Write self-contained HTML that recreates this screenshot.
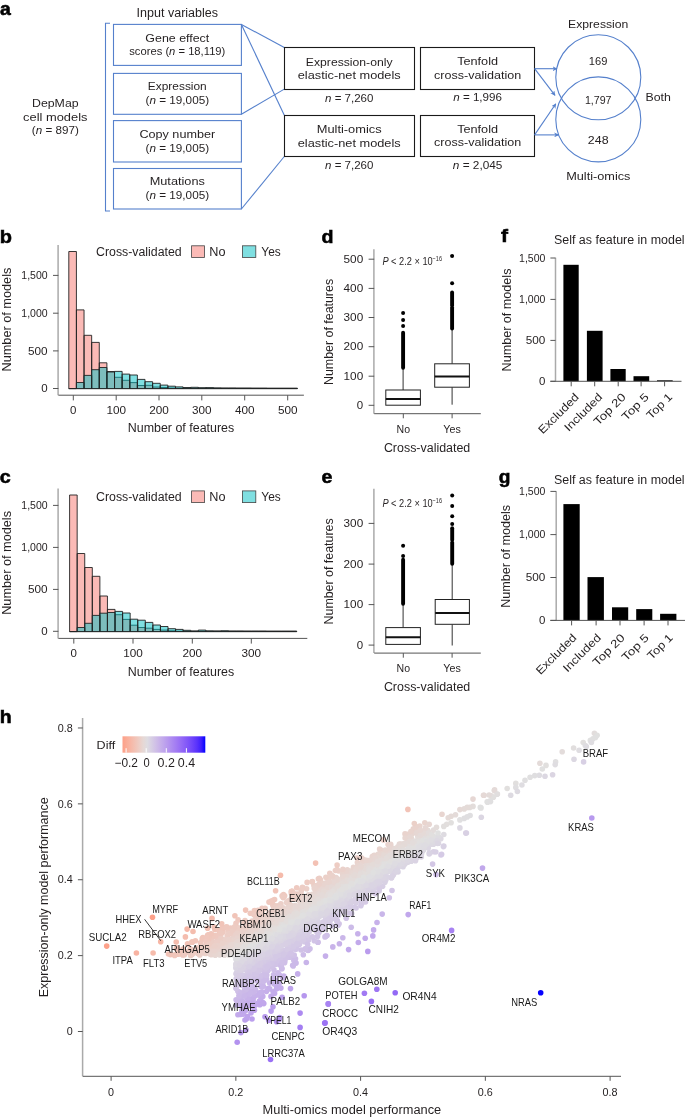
<!DOCTYPE html>
<html><head><meta charset="utf-8"><style>
html,body{margin:0;padding:0;background:#fff;}
svg{display:block;font-family:"Liberation Sans",sans-serif;}
#w{will-change:transform;background:#fff;width:685px;height:1117px;overflow:hidden;}
</style></head><body>
<div id="w"><svg width="685" height="1117" viewBox="0 0 685 1117" fill="#231f20">
<rect width="685" height="1117" fill="#fff"/>
<text x="0.00" y="15.00" font-size="18.5" font-weight="bold" textLength="10.8" lengthAdjust="spacingAndGlyphs" stroke="#000" stroke-width="0.55" fill="#000">a</text>
<text x="177.30" y="17.00" font-size="12.5" text-anchor="middle" textLength="81.50" lengthAdjust="spacingAndGlyphs">Input variables</text>
<path d="M110 23.3 H105.5 V211 H110" fill="none" stroke="#5580cc" stroke-width="1.1"/>
<rect x="113.50" y="24.40" width="127.90" height="41.00" fill="none" stroke="#5580cc" stroke-width="1.1"/>
<rect x="113.50" y="73.40" width="127.90" height="40.90" fill="none" stroke="#5580cc" stroke-width="1.1"/>
<rect x="113.50" y="120.60" width="127.90" height="41.40" fill="none" stroke="#5580cc" stroke-width="1.1"/>
<rect x="113.50" y="168.50" width="127.90" height="40.50" fill="none" stroke="#5580cc" stroke-width="1.1"/>
<text x="177.30" y="41.50" font-size="11.8" text-anchor="middle" textLength="63.90" lengthAdjust="spacingAndGlyphs">Gene effect</text>
<text x="177.30" y="54.70" font-size="11.8" text-anchor="middle" textLength="96.10" lengthAdjust="spacingAndGlyphs">scores (<tspan font-style="italic">n</tspan> = 18,119)</text>
<text x="177.30" y="90.00" font-size="11.8" text-anchor="middle" textLength="58.90" lengthAdjust="spacingAndGlyphs">Expression</text>
<text x="177.30" y="103.50" font-size="11.8" text-anchor="middle" textLength="63.60" lengthAdjust="spacingAndGlyphs">(<tspan font-style="italic">n</tspan> = 19,005)</text>
<text x="177.30" y="138.10" font-size="11.8" text-anchor="middle" textLength="75.80" lengthAdjust="spacingAndGlyphs">Copy number</text>
<text x="177.30" y="151.90" font-size="11.8" text-anchor="middle" textLength="63.60" lengthAdjust="spacingAndGlyphs">(<tspan font-style="italic">n</tspan> = 19,005)</text>
<text x="177.30" y="185.30" font-size="11.8" text-anchor="middle" textLength="55.20" lengthAdjust="spacingAndGlyphs">Mutations</text>
<text x="177.30" y="199.30" font-size="11.8" text-anchor="middle" textLength="63.60" lengthAdjust="spacingAndGlyphs">(<tspan font-style="italic">n</tspan> = 19,005)</text>
<text x="55.30" y="106.60" font-size="11.8" text-anchor="middle" textLength="46.60" lengthAdjust="spacingAndGlyphs">DepMap</text>
<text x="55.30" y="120.60" font-size="11.8" text-anchor="middle" textLength="64.40" lengthAdjust="spacingAndGlyphs">cell models</text>
<text x="55.30" y="134.30" font-size="11.8" text-anchor="middle" textLength="47.00" lengthAdjust="spacingAndGlyphs">(<tspan font-style="italic">n</tspan> = 897)</text>
<line x1="241.40" y1="24.40" x2="284.30" y2="47.50" stroke="#5580cc" stroke-width="1.1"/>
<line x1="241.40" y1="24.40" x2="284.30" y2="115.30" stroke="#5580cc" stroke-width="1.1"/>
<line x1="241.40" y1="114.30" x2="284.30" y2="89.10" stroke="#5580cc" stroke-width="1.1"/>
<line x1="241.40" y1="209.00" x2="284.30" y2="156.50" stroke="#5580cc" stroke-width="1.1"/>
<rect x="284.50" y="47.50" width="130.00" height="42.00" fill="none" stroke="#1a1a1a" stroke-width="1.1"/>
<rect x="284.50" y="115.50" width="130.00" height="41.00" fill="none" stroke="#1a1a1a" stroke-width="1.1"/>
<text x="349.20" y="65.50" font-size="11.8" text-anchor="middle" textLength="86.70" lengthAdjust="spacingAndGlyphs">Expression-only</text>
<text x="349.20" y="79.10" font-size="11.8" text-anchor="middle" textLength="103.00" lengthAdjust="spacingAndGlyphs">elastic-net models</text>
<text x="349.20" y="101.50" font-size="11.8" text-anchor="middle" textLength="48.30" lengthAdjust="spacingAndGlyphs"><tspan font-style="italic">n</tspan> = 7,260</text>
<text x="349.20" y="132.80" font-size="11.8" text-anchor="middle" textLength="64.90" lengthAdjust="spacingAndGlyphs">Multi-omics</text>
<text x="349.20" y="146.50" font-size="11.8" text-anchor="middle" textLength="103.00" lengthAdjust="spacingAndGlyphs">elastic-net models</text>
<text x="349.20" y="168.80" font-size="11.8" text-anchor="middle" textLength="48.30" lengthAdjust="spacingAndGlyphs"><tspan font-style="italic">n</tspan> = 7,260</text>
<rect x="420.50" y="47.50" width="114.00" height="42.00" fill="none" stroke="#1a1a1a" stroke-width="1.1"/>
<rect x="420.50" y="115.50" width="114.00" height="41.00" fill="none" stroke="#1a1a1a" stroke-width="1.1"/>
<text x="477.60" y="65.00" font-size="11.8" text-anchor="middle" textLength="40.90" lengthAdjust="spacingAndGlyphs">Tenfold</text>
<text x="477.60" y="78.60" font-size="11.8" text-anchor="middle" textLength="87.10" lengthAdjust="spacingAndGlyphs">cross-validation</text>
<text x="477.60" y="101.20" font-size="11.8" text-anchor="middle" textLength="48.70" lengthAdjust="spacingAndGlyphs"><tspan font-style="italic">n</tspan> = 1,996</text>
<text x="477.60" y="132.50" font-size="11.8" text-anchor="middle" textLength="40.90" lengthAdjust="spacingAndGlyphs">Tenfold</text>
<text x="477.60" y="146.00" font-size="11.8" text-anchor="middle" textLength="87.10" lengthAdjust="spacingAndGlyphs">cross-validation</text>
<text x="477.60" y="169.00" font-size="11.8" text-anchor="middle" textLength="49.60" lengthAdjust="spacingAndGlyphs"><tspan font-style="italic">n</tspan> = 2,045</text>
<defs><marker id="ah" viewBox="0 0 10 10" refX="9" refY="5" markerWidth="5" markerHeight="5" orient="auto" markerUnits="userSpaceOnUse"><path d="M0 0 L10 5 L0 10 L3 5 z" fill="#5580cc"/></marker></defs>
<line x1="534.60" y1="68.70" x2="557.00" y2="68.70" stroke="#5580cc" stroke-width="1.1" marker-end="url(#ah)"/>
<line x1="534.60" y1="68.70" x2="555.00" y2="95.30" stroke="#5580cc" stroke-width="1.1" marker-end="url(#ah)"/>
<line x1="534.60" y1="134.90" x2="555.80" y2="103.80" stroke="#5580cc" stroke-width="1.1" marker-end="url(#ah)"/>
<line x1="534.60" y1="134.90" x2="558.60" y2="134.90" stroke="#5580cc" stroke-width="1.1" marker-end="url(#ah)"/>
<circle cx="598.3" cy="77.3" r="42.5" fill="none" stroke="#5580cc" stroke-width="1.1"/>
<circle cx="598.3" cy="119.4" r="42.5" fill="none" stroke="#5580cc" stroke-width="1.1"/>
<text x="598.20" y="27.60" font-size="11.8" text-anchor="middle" textLength="60.30" lengthAdjust="spacingAndGlyphs">Expression</text>
<text x="598.10" y="64.50" font-size="11.8" text-anchor="middle" textLength="18.60" lengthAdjust="spacingAndGlyphs">169</text>
<text x="598.20" y="104.00" font-size="11.8" text-anchor="middle" textLength="26.60" lengthAdjust="spacingAndGlyphs">1,797</text>
<text x="598.20" y="143.70" font-size="11.8" text-anchor="middle" textLength="20.70" lengthAdjust="spacingAndGlyphs">248</text>
<text x="645.50" y="100.70" font-size="11.8" textLength="25.40" lengthAdjust="spacingAndGlyphs">Both</text>
<text x="598.30" y="179.50" font-size="11.8" text-anchor="middle" textLength="64.30" lengthAdjust="spacingAndGlyphs">Multi-omics</text>
<text x="-0.30" y="242.90" font-size="18.5" font-weight="bold" textLength="12.2" lengthAdjust="spacingAndGlyphs" stroke="#000" stroke-width="0.55" fill="#000">b</text>
<rect x="68.80" y="251.50" width="7.62" height="137.10" fill="#F8766D" fill-opacity="0.5"/>
<rect x="76.42" y="309.90" width="7.62" height="78.70" fill="#F8766D" fill-opacity="0.5"/>
<rect x="84.04" y="335.30" width="7.62" height="53.30" fill="#F8766D" fill-opacity="0.5"/>
<rect x="91.66" y="342.40" width="7.62" height="46.20" fill="#F8766D" fill-opacity="0.5"/>
<rect x="99.28" y="362.80" width="7.62" height="25.80" fill="#F8766D" fill-opacity="0.5"/>
<rect x="106.90" y="371.50" width="7.62" height="17.10" fill="#F8766D" fill-opacity="0.5"/>
<rect x="114.52" y="377.30" width="7.62" height="11.30" fill="#F8766D" fill-opacity="0.5"/>
<rect x="122.14" y="380.30" width="7.62" height="8.30" fill="#F8766D" fill-opacity="0.5"/>
<rect x="129.76" y="382.60" width="7.62" height="6.00" fill="#F8766D" fill-opacity="0.5"/>
<rect x="137.38" y="385.50" width="7.62" height="3.10" fill="#F8766D" fill-opacity="0.5"/>
<rect x="145.00" y="385.30" width="7.62" height="3.30" fill="#F8766D" fill-opacity="0.5"/>
<rect x="152.62" y="387.00" width="7.62" height="1.60" fill="#F8766D" fill-opacity="0.5"/>
<rect x="160.24" y="387.50" width="7.62" height="1.10" fill="#F8766D" fill-opacity="0.5"/>
<rect x="167.86" y="388.00" width="7.62" height="0.60" fill="#F8766D" fill-opacity="0.5"/>
<rect x="175.48" y="388.30" width="7.62" height="0.30" fill="#F8766D" fill-opacity="0.5"/>
<rect x="183.10" y="388.30" width="7.62" height="0.30" fill="#F8766D" fill-opacity="0.5"/>
<rect x="190.72" y="388.30" width="7.62" height="0.30" fill="#F8766D" fill-opacity="0.5"/>
<rect x="198.34" y="388.30" width="7.62" height="0.30" fill="#F8766D" fill-opacity="0.5"/>
<rect x="205.96" y="388.30" width="7.62" height="0.30" fill="#F8766D" fill-opacity="0.5"/>
<rect x="213.58" y="388.30" width="7.62" height="0.30" fill="#F8766D" fill-opacity="0.5"/>
<rect x="221.20" y="388.30" width="7.62" height="0.30" fill="#F8766D" fill-opacity="0.5"/>
<rect x="228.82" y="388.30" width="7.62" height="0.30" fill="#F8766D" fill-opacity="0.5"/>
<rect x="236.44" y="388.30" width="7.62" height="0.30" fill="#F8766D" fill-opacity="0.5"/>
<rect x="244.06" y="388.30" width="7.62" height="0.30" fill="#F8766D" fill-opacity="0.5"/>
<rect x="251.68" y="388.30" width="7.62" height="0.30" fill="#F8766D" fill-opacity="0.5"/>
<rect x="259.30" y="388.30" width="7.62" height="0.30" fill="#F8766D" fill-opacity="0.5"/>
<rect x="266.92" y="388.30" width="7.62" height="0.30" fill="#F8766D" fill-opacity="0.5"/>
<rect x="274.54" y="388.30" width="7.62" height="0.30" fill="#F8766D" fill-opacity="0.5"/>
<rect x="282.16" y="388.30" width="7.62" height="0.30" fill="#F8766D" fill-opacity="0.5"/>
<rect x="289.78" y="388.30" width="7.62" height="0.30" fill="#F8766D" fill-opacity="0.5"/>
<path d="M68.80 388.60V251.50H76.42V388.60M76.42 388.60V309.90H84.04V388.60M84.04 388.60V335.30H91.66V388.60M91.66 388.60V342.40H99.28V388.60M99.28 388.60V362.80H106.90V388.60M106.90 388.60V371.50H114.52V388.60M114.52 388.60V377.30H122.14V388.60M122.14 388.60V380.30H129.76V388.60M129.76 388.60V382.60H137.38V388.60M137.38 388.60V385.50H145.00V388.60M145.00 388.60V385.30H152.62V388.60M152.62 388.60V387.00H160.24V388.60M160.24 388.60V387.50H167.86V388.60M167.86 388.60V388.00H175.48V388.60M175.48 388.60V388.30H183.10V388.60M183.10 388.60V388.30H190.72V388.60M190.72 388.60V388.30H198.34V388.60M198.34 388.60V388.30H205.96V388.60M205.96 388.60V388.30H213.58V388.60M213.58 388.60V388.30H221.20V388.60M221.20 388.60V388.30H228.82V388.60M228.82 388.60V388.30H236.44V388.60M236.44 388.60V388.30H244.06V388.60M244.06 388.60V388.30H251.68V388.60M251.68 388.60V388.30H259.30V388.60M259.30 388.60V388.30H266.92V388.60M266.92 388.60V388.30H274.54V388.60M274.54 388.60V388.30H282.16V388.60M282.16 388.60V388.30H289.78V388.60M289.78 388.60V388.30H297.40V388.60M68.80 388.60H297.40" fill="none" stroke="#222" stroke-width="0.9"/>
<rect x="76.42" y="382.50" width="7.62" height="6.10" fill="#00BFC4" fill-opacity="0.5"/>
<rect x="84.04" y="375.40" width="7.62" height="13.20" fill="#00BFC4" fill-opacity="0.5"/>
<rect x="91.66" y="369.70" width="7.62" height="18.90" fill="#00BFC4" fill-opacity="0.5"/>
<rect x="99.28" y="367.50" width="7.62" height="21.10" fill="#00BFC4" fill-opacity="0.5"/>
<rect x="106.90" y="372.00" width="7.62" height="16.60" fill="#00BFC4" fill-opacity="0.5"/>
<rect x="114.52" y="371.40" width="7.62" height="17.20" fill="#00BFC4" fill-opacity="0.5"/>
<rect x="122.14" y="374.10" width="7.62" height="14.50" fill="#00BFC4" fill-opacity="0.5"/>
<rect x="129.76" y="375.00" width="7.62" height="13.60" fill="#00BFC4" fill-opacity="0.5"/>
<rect x="137.38" y="379.40" width="7.62" height="9.20" fill="#00BFC4" fill-opacity="0.5"/>
<rect x="145.00" y="381.70" width="7.62" height="6.90" fill="#00BFC4" fill-opacity="0.5"/>
<rect x="152.62" y="383.30" width="7.62" height="5.30" fill="#00BFC4" fill-opacity="0.5"/>
<rect x="160.24" y="385.10" width="7.62" height="3.50" fill="#00BFC4" fill-opacity="0.5"/>
<rect x="167.86" y="386.20" width="7.62" height="2.40" fill="#00BFC4" fill-opacity="0.5"/>
<rect x="175.48" y="386.90" width="7.62" height="1.70" fill="#00BFC4" fill-opacity="0.5"/>
<rect x="183.10" y="387.50" width="7.62" height="1.10" fill="#00BFC4" fill-opacity="0.5"/>
<rect x="190.72" y="387.30" width="7.62" height="1.30" fill="#00BFC4" fill-opacity="0.5"/>
<rect x="198.34" y="387.70" width="7.62" height="0.90" fill="#00BFC4" fill-opacity="0.5"/>
<rect x="205.96" y="387.60" width="7.62" height="1.00" fill="#00BFC4" fill-opacity="0.5"/>
<rect x="213.58" y="387.90" width="7.62" height="0.70" fill="#00BFC4" fill-opacity="0.5"/>
<rect x="221.20" y="388.00" width="7.62" height="0.60" fill="#00BFC4" fill-opacity="0.5"/>
<rect x="228.82" y="388.00" width="7.62" height="0.60" fill="#00BFC4" fill-opacity="0.5"/>
<rect x="236.44" y="388.10" width="7.62" height="0.50" fill="#00BFC4" fill-opacity="0.5"/>
<rect x="244.06" y="388.10" width="7.62" height="0.50" fill="#00BFC4" fill-opacity="0.5"/>
<rect x="251.68" y="388.20" width="7.62" height="0.40" fill="#00BFC4" fill-opacity="0.5"/>
<rect x="259.30" y="388.20" width="7.62" height="0.40" fill="#00BFC4" fill-opacity="0.5"/>
<rect x="266.92" y="388.30" width="7.62" height="0.30" fill="#00BFC4" fill-opacity="0.5"/>
<rect x="274.54" y="388.30" width="7.62" height="0.30" fill="#00BFC4" fill-opacity="0.5"/>
<rect x="282.16" y="388.30" width="7.62" height="0.30" fill="#00BFC4" fill-opacity="0.5"/>
<rect x="289.78" y="388.30" width="7.62" height="0.30" fill="#00BFC4" fill-opacity="0.5"/>
<path d="M68.80 388.60V388.60H76.42V388.60M76.42 388.60V382.50H84.04V388.60M84.04 388.60V375.40H91.66V388.60M91.66 388.60V369.70H99.28V388.60M99.28 388.60V367.50H106.90V388.60M106.90 388.60V372.00H114.52V388.60M114.52 388.60V371.40H122.14V388.60M122.14 388.60V374.10H129.76V388.60M129.76 388.60V375.00H137.38V388.60M137.38 388.60V379.40H145.00V388.60M145.00 388.60V381.70H152.62V388.60M152.62 388.60V383.30H160.24V388.60M160.24 388.60V385.10H167.86V388.60M167.86 388.60V386.20H175.48V388.60M175.48 388.60V386.90H183.10V388.60M183.10 388.60V387.50H190.72V388.60M190.72 388.60V387.30H198.34V388.60M198.34 388.60V387.70H205.96V388.60M205.96 388.60V387.60H213.58V388.60M213.58 388.60V387.90H221.20V388.60M221.20 388.60V388.00H228.82V388.60M228.82 388.60V388.00H236.44V388.60M236.44 388.60V388.10H244.06V388.60M244.06 388.60V388.10H251.68V388.60M251.68 388.60V388.20H259.30V388.60M259.30 388.60V388.20H266.92V388.60M266.92 388.60V388.30H274.54V388.60M274.54 388.60V388.30H282.16V388.60M282.16 388.60V388.30H289.78V388.60M289.78 388.60V388.30H297.40V388.60M68.80 388.60H297.40" fill="none" stroke="#222" stroke-width="0.9"/>
<line x1="58.10" y1="245.00" x2="58.10" y2="395.20" stroke="#aaa" stroke-width="1.5"/>
<line x1="58.40" y1="395.20" x2="303.90" y2="395.20" stroke="#555" stroke-width="1"/>
<line x1="53.00" y1="388.50" x2="58.40" y2="388.50" stroke="#555" stroke-width="1"/>
<text x="47.60" y="392.20" font-size="10.6" text-anchor="end" textLength="6.40" lengthAdjust="spacingAndGlyphs">0</text>
<line x1="53.00" y1="350.90" x2="58.40" y2="350.90" stroke="#555" stroke-width="1"/>
<text x="47.60" y="354.60" font-size="10.6" text-anchor="end" textLength="19.60" lengthAdjust="spacingAndGlyphs">500</text>
<line x1="53.00" y1="313.20" x2="58.40" y2="313.20" stroke="#555" stroke-width="1"/>
<text x="47.60" y="316.90" font-size="10.6" text-anchor="end" textLength="26.30" lengthAdjust="spacingAndGlyphs">1,000</text>
<line x1="53.00" y1="275.40" x2="58.40" y2="275.40" stroke="#555" stroke-width="1"/>
<text x="47.60" y="279.10" font-size="10.6" text-anchor="end" textLength="26.30" lengthAdjust="spacingAndGlyphs">1,500</text>
<line x1="73.30" y1="395.20" x2="73.30" y2="400.40" stroke="#555" stroke-width="1"/>
<text x="73.30" y="413.50" font-size="10.6" text-anchor="middle" textLength="6.40" lengthAdjust="spacingAndGlyphs">0</text>
<line x1="116.20" y1="395.20" x2="116.20" y2="400.40" stroke="#555" stroke-width="1"/>
<text x="116.20" y="413.50" font-size="10.6" text-anchor="middle" textLength="19.60" lengthAdjust="spacingAndGlyphs">100</text>
<line x1="159.00" y1="395.20" x2="159.00" y2="400.40" stroke="#555" stroke-width="1"/>
<text x="159.00" y="413.50" font-size="10.6" text-anchor="middle" textLength="19.60" lengthAdjust="spacingAndGlyphs">200</text>
<line x1="201.80" y1="395.20" x2="201.80" y2="400.40" stroke="#555" stroke-width="1"/>
<text x="201.80" y="413.50" font-size="10.6" text-anchor="middle" textLength="19.60" lengthAdjust="spacingAndGlyphs">300</text>
<line x1="244.70" y1="395.20" x2="244.70" y2="400.40" stroke="#555" stroke-width="1"/>
<text x="244.70" y="413.50" font-size="10.6" text-anchor="middle" textLength="19.60" lengthAdjust="spacingAndGlyphs">400</text>
<line x1="287.70" y1="395.20" x2="287.70" y2="400.40" stroke="#555" stroke-width="1"/>
<text x="287.70" y="413.50" font-size="10.6" text-anchor="middle" textLength="19.60" lengthAdjust="spacingAndGlyphs">500</text>
<text x="181.00" y="431.80" font-size="12.3" text-anchor="middle" textLength="106.50" lengthAdjust="spacingAndGlyphs">Number of features</text>
<text x="11.00" y="319.60" font-size="12.3" text-anchor="middle" textLength="103.90" lengthAdjust="spacingAndGlyphs" transform="rotate(-90 11.00 319.60)">Number of models</text>
<text x="96.00" y="256.00" font-size="12" textLength="85.70" lengthAdjust="spacingAndGlyphs">Cross-validated</text>
<rect x="191.60" y="245.80" width="12.90" height="11.70" fill="#F8766D" stroke="#444" stroke-width="0.8" fill-opacity="0.5"/>
<text x="209.30" y="256.00" font-size="12" textLength="16.20" lengthAdjust="spacingAndGlyphs">No</text>
<rect x="242.40" y="245.80" width="13.40" height="11.70" fill="#00BFC4" stroke="#444" stroke-width="0.8" fill-opacity="0.5"/>
<text x="261.30" y="256.00" font-size="12" textLength="19.40" lengthAdjust="spacingAndGlyphs">Yes</text>
<text x="-0.30" y="482.90" font-size="18.5" font-weight="bold" textLength="11.0" lengthAdjust="spacingAndGlyphs" stroke="#000" stroke-width="0.55" fill="#000">c</text>
<rect x="69.60" y="495.00" width="7.57" height="136.60" fill="#F8766D" fill-opacity="0.5"/>
<rect x="77.17" y="553.50" width="7.57" height="78.10" fill="#F8766D" fill-opacity="0.5"/>
<rect x="84.74" y="567.50" width="7.57" height="64.10" fill="#F8766D" fill-opacity="0.5"/>
<rect x="92.31" y="576.30" width="7.57" height="55.30" fill="#F8766D" fill-opacity="0.5"/>
<rect x="99.88" y="596.00" width="7.57" height="35.60" fill="#F8766D" fill-opacity="0.5"/>
<rect x="107.45" y="609.40" width="7.57" height="22.20" fill="#F8766D" fill-opacity="0.5"/>
<rect x="115.02" y="614.70" width="7.57" height="16.90" fill="#F8766D" fill-opacity="0.5"/>
<rect x="122.59" y="619.40" width="7.57" height="12.20" fill="#F8766D" fill-opacity="0.5"/>
<rect x="130.16" y="625.20" width="7.57" height="6.40" fill="#F8766D" fill-opacity="0.5"/>
<rect x="137.73" y="627.50" width="7.57" height="4.10" fill="#F8766D" fill-opacity="0.5"/>
<rect x="145.30" y="628.20" width="7.57" height="3.40" fill="#F8766D" fill-opacity="0.5"/>
<rect x="152.87" y="629.40" width="7.57" height="2.20" fill="#F8766D" fill-opacity="0.5"/>
<rect x="160.44" y="630.10" width="7.57" height="1.50" fill="#F8766D" fill-opacity="0.5"/>
<rect x="168.01" y="630.80" width="7.57" height="0.80" fill="#F8766D" fill-opacity="0.5"/>
<rect x="175.58" y="631.20" width="7.57" height="0.40" fill="#F8766D" fill-opacity="0.5"/>
<rect x="183.15" y="631.20" width="7.57" height="0.40" fill="#F8766D" fill-opacity="0.5"/>
<rect x="190.72" y="631.20" width="7.57" height="0.40" fill="#F8766D" fill-opacity="0.5"/>
<rect x="198.29" y="631.20" width="7.57" height="0.40" fill="#F8766D" fill-opacity="0.5"/>
<rect x="205.86" y="631.20" width="7.57" height="0.40" fill="#F8766D" fill-opacity="0.5"/>
<rect x="213.43" y="631.20" width="7.57" height="0.40" fill="#F8766D" fill-opacity="0.5"/>
<rect x="221.00" y="631.20" width="7.57" height="0.40" fill="#F8766D" fill-opacity="0.5"/>
<rect x="228.57" y="631.20" width="7.57" height="0.40" fill="#F8766D" fill-opacity="0.5"/>
<rect x="236.14" y="631.20" width="7.57" height="0.40" fill="#F8766D" fill-opacity="0.5"/>
<rect x="243.71" y="631.20" width="7.57" height="0.40" fill="#F8766D" fill-opacity="0.5"/>
<rect x="251.28" y="631.20" width="7.57" height="0.40" fill="#F8766D" fill-opacity="0.5"/>
<rect x="258.85" y="631.20" width="7.57" height="0.40" fill="#F8766D" fill-opacity="0.5"/>
<rect x="266.42" y="631.20" width="7.57" height="0.40" fill="#F8766D" fill-opacity="0.5"/>
<rect x="273.99" y="631.20" width="7.57" height="0.40" fill="#F8766D" fill-opacity="0.5"/>
<rect x="281.56" y="631.20" width="7.57" height="0.40" fill="#F8766D" fill-opacity="0.5"/>
<rect x="289.13" y="631.20" width="7.57" height="0.40" fill="#F8766D" fill-opacity="0.5"/>
<path d="M69.60 631.60V495.00H77.17V631.60M77.17 631.60V553.50H84.74V631.60M84.74 631.60V567.50H92.31V631.60M92.31 631.60V576.30H99.88V631.60M99.88 631.60V596.00H107.45V631.60M107.45 631.60V609.40H115.02V631.60M115.02 631.60V614.70H122.59V631.60M122.59 631.60V619.40H130.16V631.60M130.16 631.60V625.20H137.73V631.60M137.73 631.60V627.50H145.30V631.60M145.30 631.60V628.20H152.87V631.60M152.87 631.60V629.40H160.44V631.60M160.44 631.60V630.10H168.01V631.60M168.01 631.60V630.80H175.58V631.60M175.58 631.60V631.20H183.15V631.60M183.15 631.60V631.20H190.72V631.60M190.72 631.60V631.20H198.29V631.60M198.29 631.60V631.20H205.86V631.60M205.86 631.60V631.20H213.43V631.60M213.43 631.60V631.20H221.00V631.60M221.00 631.60V631.20H228.57V631.60M228.57 631.60V631.20H236.14V631.60M236.14 631.60V631.20H243.71V631.60M243.71 631.60V631.20H251.28V631.60M251.28 631.60V631.20H258.85V631.60M258.85 631.60V631.20H266.42V631.60M266.42 631.60V631.20H273.99V631.60M273.99 631.60V631.20H281.56V631.60M281.56 631.60V631.20H289.13V631.60M289.13 631.60V631.20H296.70V631.60M69.60 631.60H296.70" fill="none" stroke="#222" stroke-width="0.9"/>
<rect x="77.17" y="627.50" width="7.57" height="4.10" fill="#00BFC4" fill-opacity="0.5"/>
<rect x="84.74" y="623.30" width="7.57" height="8.30" fill="#00BFC4" fill-opacity="0.5"/>
<rect x="92.31" y="615.40" width="7.57" height="16.20" fill="#00BFC4" fill-opacity="0.5"/>
<rect x="99.88" y="613.20" width="7.57" height="18.40" fill="#00BFC4" fill-opacity="0.5"/>
<rect x="107.45" y="612.50" width="7.57" height="19.10" fill="#00BFC4" fill-opacity="0.5"/>
<rect x="115.02" y="611.40" width="7.57" height="20.20" fill="#00BFC4" fill-opacity="0.5"/>
<rect x="122.59" y="613.00" width="7.57" height="18.60" fill="#00BFC4" fill-opacity="0.5"/>
<rect x="130.16" y="619.20" width="7.57" height="12.40" fill="#00BFC4" fill-opacity="0.5"/>
<rect x="137.73" y="620.20" width="7.57" height="11.40" fill="#00BFC4" fill-opacity="0.5"/>
<rect x="145.30" y="622.40" width="7.57" height="9.20" fill="#00BFC4" fill-opacity="0.5"/>
<rect x="152.87" y="625.00" width="7.57" height="6.60" fill="#00BFC4" fill-opacity="0.5"/>
<rect x="160.44" y="626.50" width="7.57" height="5.10" fill="#00BFC4" fill-opacity="0.5"/>
<rect x="168.01" y="628.70" width="7.57" height="2.90" fill="#00BFC4" fill-opacity="0.5"/>
<rect x="175.58" y="629.40" width="7.57" height="2.20" fill="#00BFC4" fill-opacity="0.5"/>
<rect x="183.15" y="630.30" width="7.57" height="1.30" fill="#00BFC4" fill-opacity="0.5"/>
<rect x="190.72" y="631.00" width="7.57" height="0.60" fill="#00BFC4" fill-opacity="0.5"/>
<rect x="198.29" y="630.10" width="7.57" height="1.50" fill="#00BFC4" fill-opacity="0.5"/>
<rect x="205.86" y="630.90" width="7.57" height="0.70" fill="#00BFC4" fill-opacity="0.5"/>
<rect x="213.43" y="631.00" width="7.57" height="0.60" fill="#00BFC4" fill-opacity="0.5"/>
<rect x="221.00" y="630.80" width="7.57" height="0.80" fill="#00BFC4" fill-opacity="0.5"/>
<rect x="228.57" y="631.10" width="7.57" height="0.50" fill="#00BFC4" fill-opacity="0.5"/>
<rect x="236.14" y="631.10" width="7.57" height="0.50" fill="#00BFC4" fill-opacity="0.5"/>
<rect x="243.71" y="631.20" width="7.57" height="0.40" fill="#00BFC4" fill-opacity="0.5"/>
<rect x="251.28" y="631.20" width="7.57" height="0.40" fill="#00BFC4" fill-opacity="0.5"/>
<rect x="258.85" y="631.20" width="7.57" height="0.40" fill="#00BFC4" fill-opacity="0.5"/>
<rect x="266.42" y="631.30" width="7.57" height="0.30" fill="#00BFC4" fill-opacity="0.5"/>
<rect x="273.99" y="631.30" width="7.57" height="0.30" fill="#00BFC4" fill-opacity="0.5"/>
<rect x="281.56" y="631.30" width="7.57" height="0.30" fill="#00BFC4" fill-opacity="0.5"/>
<rect x="289.13" y="631.30" width="7.57" height="0.30" fill="#00BFC4" fill-opacity="0.5"/>
<path d="M69.60 631.60V631.60H77.17V631.60M77.17 631.60V627.50H84.74V631.60M84.74 631.60V623.30H92.31V631.60M92.31 631.60V615.40H99.88V631.60M99.88 631.60V613.20H107.45V631.60M107.45 631.60V612.50H115.02V631.60M115.02 631.60V611.40H122.59V631.60M122.59 631.60V613.00H130.16V631.60M130.16 631.60V619.20H137.73V631.60M137.73 631.60V620.20H145.30V631.60M145.30 631.60V622.40H152.87V631.60M152.87 631.60V625.00H160.44V631.60M160.44 631.60V626.50H168.01V631.60M168.01 631.60V628.70H175.58V631.60M175.58 631.60V629.40H183.15V631.60M183.15 631.60V630.30H190.72V631.60M190.72 631.60V631.00H198.29V631.60M198.29 631.60V630.10H205.86V631.60M205.86 631.60V630.90H213.43V631.60M213.43 631.60V631.00H221.00V631.60M221.00 631.60V630.80H228.57V631.60M228.57 631.60V631.10H236.14V631.60M236.14 631.60V631.10H243.71V631.60M243.71 631.60V631.20H251.28V631.60M251.28 631.60V631.20H258.85V631.60M258.85 631.60V631.20H266.42V631.60M266.42 631.60V631.30H273.99V631.60M273.99 631.60V631.30H281.56V631.60M281.56 631.60V631.30H289.13V631.60M289.13 631.60V631.30H296.70V631.60M69.60 631.60H296.70" fill="none" stroke="#222" stroke-width="0.9"/>
<line x1="58.10" y1="488.40" x2="58.10" y2="638.40" stroke="#aaa" stroke-width="1.5"/>
<line x1="58.40" y1="638.40" x2="307.30" y2="638.40" stroke="#555" stroke-width="1"/>
<line x1="53.00" y1="631.30" x2="58.40" y2="631.30" stroke="#555" stroke-width="1"/>
<text x="47.60" y="635.00" font-size="10.6" text-anchor="end" textLength="6.40" lengthAdjust="spacingAndGlyphs">0</text>
<line x1="53.00" y1="589.40" x2="58.40" y2="589.40" stroke="#555" stroke-width="1"/>
<text x="47.60" y="593.10" font-size="10.6" text-anchor="end" textLength="19.60" lengthAdjust="spacingAndGlyphs">500</text>
<line x1="53.00" y1="547.40" x2="58.40" y2="547.40" stroke="#555" stroke-width="1"/>
<text x="47.60" y="551.10" font-size="10.6" text-anchor="end" textLength="26.30" lengthAdjust="spacingAndGlyphs">1,000</text>
<line x1="53.00" y1="505.40" x2="58.40" y2="505.40" stroke="#555" stroke-width="1"/>
<text x="47.60" y="509.10" font-size="10.6" text-anchor="end" textLength="26.30" lengthAdjust="spacingAndGlyphs">1,500</text>
<line x1="73.80" y1="638.40" x2="73.80" y2="643.60" stroke="#555" stroke-width="1"/>
<text x="73.80" y="657.00" font-size="10.6" text-anchor="middle" textLength="6.40" lengthAdjust="spacingAndGlyphs">0</text>
<line x1="133.00" y1="638.40" x2="133.00" y2="643.60" stroke="#555" stroke-width="1"/>
<text x="133.00" y="657.00" font-size="10.6" text-anchor="middle" textLength="19.60" lengthAdjust="spacingAndGlyphs">100</text>
<line x1="192.30" y1="638.40" x2="192.30" y2="643.60" stroke="#555" stroke-width="1"/>
<text x="192.30" y="657.00" font-size="10.6" text-anchor="middle" textLength="19.60" lengthAdjust="spacingAndGlyphs">200</text>
<line x1="251.30" y1="638.40" x2="251.30" y2="643.60" stroke="#555" stroke-width="1"/>
<text x="251.30" y="657.00" font-size="10.6" text-anchor="middle" textLength="19.60" lengthAdjust="spacingAndGlyphs">300</text>
<text x="181.00" y="675.50" font-size="12.3" text-anchor="middle" textLength="106.50" lengthAdjust="spacingAndGlyphs">Number of features</text>
<text x="11.00" y="562.90" font-size="12.3" text-anchor="middle" textLength="103.90" lengthAdjust="spacingAndGlyphs" transform="rotate(-90 11.00 562.90)">Number of models</text>
<text x="96.00" y="501.10" font-size="12" textLength="85.70" lengthAdjust="spacingAndGlyphs">Cross-validated</text>
<rect x="191.60" y="490.90" width="12.90" height="11.70" fill="#F8766D" stroke="#444" stroke-width="0.8" fill-opacity="0.5"/>
<text x="209.30" y="501.10" font-size="12" textLength="16.20" lengthAdjust="spacingAndGlyphs">No</text>
<rect x="242.40" y="490.90" width="13.40" height="11.70" fill="#00BFC4" stroke="#444" stroke-width="0.8" fill-opacity="0.5"/>
<text x="261.30" y="501.10" font-size="12" textLength="19.40" lengthAdjust="spacingAndGlyphs">Yes</text>
<text x="321.60" y="242.80" font-size="18.5" font-weight="bold" textLength="12.0" lengthAdjust="spacingAndGlyphs" stroke="#000" stroke-width="0.55" fill="#000">d</text>
<line x1="373.90" y1="249.20" x2="373.90" y2="413.70" stroke="#aaa" stroke-width="1.5"/>
<line x1="374.20" y1="413.70" x2="480.80" y2="413.70" stroke="#555" stroke-width="1"/>
<line x1="368.60" y1="405.30" x2="374.20" y2="405.30" stroke="#555" stroke-width="1"/>
<text x="363.20" y="409.00" font-size="10.6" text-anchor="end" textLength="6.40" lengthAdjust="spacingAndGlyphs">0</text>
<line x1="368.60" y1="376.20" x2="374.20" y2="376.20" stroke="#555" stroke-width="1"/>
<text x="363.20" y="379.90" font-size="10.6" text-anchor="end" textLength="19.60" lengthAdjust="spacingAndGlyphs">100</text>
<line x1="368.60" y1="346.70" x2="374.20" y2="346.70" stroke="#555" stroke-width="1"/>
<text x="363.20" y="350.40" font-size="10.6" text-anchor="end" textLength="19.60" lengthAdjust="spacingAndGlyphs">200</text>
<line x1="368.60" y1="317.50" x2="374.20" y2="317.50" stroke="#555" stroke-width="1"/>
<text x="363.20" y="321.20" font-size="10.6" text-anchor="end" textLength="19.60" lengthAdjust="spacingAndGlyphs">300</text>
<line x1="368.60" y1="288.40" x2="374.20" y2="288.40" stroke="#555" stroke-width="1"/>
<text x="363.20" y="292.10" font-size="10.6" text-anchor="end" textLength="19.60" lengthAdjust="spacingAndGlyphs">400</text>
<line x1="368.60" y1="259.20" x2="374.20" y2="259.20" stroke="#555" stroke-width="1"/>
<text x="363.20" y="262.90" font-size="10.6" text-anchor="end" textLength="19.60" lengthAdjust="spacingAndGlyphs">500</text>
<line x1="403.30" y1="413.70" x2="403.30" y2="418.30" stroke="#555" stroke-width="1"/>
<text x="403.30" y="432.70" font-size="11" text-anchor="middle" textLength="13.50" lengthAdjust="spacingAndGlyphs">No</text>
<line x1="452.10" y1="413.70" x2="452.10" y2="418.30" stroke="#555" stroke-width="1"/>
<text x="452.10" y="432.70" font-size="11" text-anchor="middle" textLength="17.50" lengthAdjust="spacingAndGlyphs">Yes</text>
<text x="427.10" y="451.60" font-size="12" text-anchor="middle" textLength="86.40" lengthAdjust="spacingAndGlyphs">Cross-validated</text>
<text x="333.30" y="331.95" font-size="12.3" text-anchor="middle" textLength="106.10" lengthAdjust="spacingAndGlyphs" transform="rotate(-90 333.30 331.95)">Number of features</text>
<text x="382.4" y="265.00" font-size="10.0" textLength="50.3" lengthAdjust="spacingAndGlyphs"><tspan font-style="italic">P</tspan> &lt; 2.2 × 10</text>
<text x="432.6" y="260.80" font-size="6.8" textLength="9.4" lengthAdjust="spacingAndGlyphs">−16</text>
<line x1="403.10" y1="405.20" x2="403.10" y2="405.20" stroke="#333" stroke-width="1"/>
<line x1="403.10" y1="390.00" x2="403.10" y2="367.80" stroke="#333" stroke-width="1"/>
<rect x="385.80" y="390.00" width="34.60" height="15.20" fill="white" stroke="#222" stroke-width="1"/>
<line x1="385.80" y1="399.10" x2="420.40" y2="399.10" stroke="#111" stroke-width="2"/>
<line x1="403.10" y1="332.80" x2="403.10" y2="367.80" stroke="#000" stroke-width="3.9" stroke-linecap="round"/>
<circle cx="403.10" cy="326.10" r="2.0" fill="#000"/>
<circle cx="403.10" cy="320.10" r="2.0" fill="#000"/>
<circle cx="403.10" cy="312.90" r="2.0" fill="#000"/>
<line x1="452.10" y1="387.20" x2="452.10" y2="404.70" stroke="#333" stroke-width="1"/>
<line x1="452.10" y1="363.80" x2="452.10" y2="328.50" stroke="#333" stroke-width="1"/>
<rect x="434.70" y="363.80" width="34.70" height="23.40" fill="white" stroke="#222" stroke-width="1"/>
<line x1="434.70" y1="376.60" x2="469.40" y2="376.60" stroke="#111" stroke-width="2"/>
<line x1="452.10" y1="307.60" x2="452.10" y2="328.50" stroke="#000" stroke-width="3.9" stroke-linecap="round"/>
<line x1="452.10" y1="292.40" x2="452.10" y2="305.20" stroke="#000" stroke-width="3.9" stroke-linecap="round"/>
<circle cx="452.10" cy="283.20" r="2.0" fill="#000"/>
<circle cx="452.10" cy="255.90" r="2.0" fill="#000"/>
<text x="321.60" y="482.80" font-size="18.5" font-weight="bold" textLength="10.9" lengthAdjust="spacingAndGlyphs" stroke="#000" stroke-width="0.55" fill="#000">e</text>
<line x1="373.90" y1="488.70" x2="373.90" y2="653.10" stroke="#aaa" stroke-width="1.5"/>
<line x1="374.20" y1="653.10" x2="480.80" y2="653.10" stroke="#555" stroke-width="1"/>
<line x1="368.60" y1="645.10" x2="374.20" y2="645.10" stroke="#555" stroke-width="1"/>
<text x="363.20" y="648.80" font-size="10.6" text-anchor="end" textLength="6.40" lengthAdjust="spacingAndGlyphs">0</text>
<line x1="368.60" y1="604.60" x2="374.20" y2="604.60" stroke="#555" stroke-width="1"/>
<text x="363.20" y="608.30" font-size="10.6" text-anchor="end" textLength="19.60" lengthAdjust="spacingAndGlyphs">100</text>
<line x1="368.60" y1="564.10" x2="374.20" y2="564.10" stroke="#555" stroke-width="1"/>
<text x="363.20" y="567.80" font-size="10.6" text-anchor="end" textLength="19.60" lengthAdjust="spacingAndGlyphs">200</text>
<line x1="368.60" y1="523.40" x2="374.20" y2="523.40" stroke="#555" stroke-width="1"/>
<text x="363.20" y="527.10" font-size="10.6" text-anchor="end" textLength="19.60" lengthAdjust="spacingAndGlyphs">300</text>
<line x1="403.30" y1="653.10" x2="403.30" y2="657.70" stroke="#555" stroke-width="1"/>
<text x="403.30" y="672.10" font-size="11" text-anchor="middle" textLength="13.50" lengthAdjust="spacingAndGlyphs">No</text>
<line x1="452.10" y1="653.10" x2="452.10" y2="657.70" stroke="#555" stroke-width="1"/>
<text x="452.10" y="672.10" font-size="11" text-anchor="middle" textLength="17.50" lengthAdjust="spacingAndGlyphs">Yes</text>
<text x="427.10" y="691.00" font-size="12" text-anchor="middle" textLength="86.40" lengthAdjust="spacingAndGlyphs">Cross-validated</text>
<text x="333.30" y="571.40" font-size="12.3" text-anchor="middle" textLength="106.10" lengthAdjust="spacingAndGlyphs" transform="rotate(-90 333.30 571.40)">Number of features</text>
<text x="382.4" y="507.30" font-size="10.0" textLength="50.3" lengthAdjust="spacingAndGlyphs"><tspan font-style="italic">P</tspan> &lt; 2.2 × 10</text>
<text x="432.6" y="503.10" font-size="6.8" textLength="9.4" lengthAdjust="spacingAndGlyphs">−16</text>
<line x1="403.10" y1="644.40" x2="403.10" y2="644.40" stroke="#333" stroke-width="1"/>
<line x1="403.10" y1="627.60" x2="403.10" y2="603.80" stroke="#333" stroke-width="1"/>
<rect x="385.80" y="627.60" width="34.60" height="16.80" fill="white" stroke="#222" stroke-width="1"/>
<line x1="385.80" y1="637.20" x2="420.40" y2="637.20" stroke="#111" stroke-width="2"/>
<line x1="403.10" y1="559.70" x2="403.10" y2="603.80" stroke="#000" stroke-width="3.9" stroke-linecap="round"/>
<circle cx="403.10" cy="556.10" r="2.0" fill="#000"/>
<circle cx="403.10" cy="545.70" r="2.0" fill="#000"/>
<line x1="452.20" y1="624.30" x2="452.20" y2="645.50" stroke="#333" stroke-width="1"/>
<line x1="452.20" y1="599.50" x2="452.20" y2="563.70" stroke="#333" stroke-width="1"/>
<rect x="435.20" y="599.50" width="34.20" height="24.80" fill="white" stroke="#222" stroke-width="1"/>
<line x1="435.20" y1="613.10" x2="469.40" y2="613.10" stroke="#111" stroke-width="2"/>
<line x1="452.20" y1="528.30" x2="452.20" y2="540.00" stroke="#000" stroke-width="3.9" stroke-linecap="round"/>
<line x1="452.20" y1="542.60" x2="452.20" y2="563.70" stroke="#000" stroke-width="3.9" stroke-linecap="round"/>
<circle cx="452.20" cy="524.00" r="2.0" fill="#000"/>
<circle cx="452.20" cy="516.30" r="2.0" fill="#000"/>
<circle cx="452.20" cy="505.90" r="2.0" fill="#000"/>
<circle cx="452.20" cy="495.40" r="2.0" fill="#000"/>
<text x="500.90" y="242.00" font-size="18.5" font-weight="bold" textLength="7.0" lengthAdjust="spacingAndGlyphs" stroke="#000" stroke-width="0.55" fill="#000">f</text>
<text x="554.00" y="244.30" font-size="12" textLength="130.60" lengthAdjust="spacingAndGlyphs">Self as feature in model</text>
<rect x="563.40" y="264.80" width="15.30" height="116.50" fill="#000"/>
<rect x="586.90" y="330.80" width="15.70" height="50.50" fill="#000"/>
<rect x="610.40" y="369.00" width="15.30" height="12.30" fill="#000"/>
<rect x="633.50" y="376.20" width="15.70" height="5.10" fill="#000"/>
<rect x="657.00" y="380.30" width="15.70" height="1.00" fill="#000"/>
<line x1="555.50" y1="257.70" x2="555.50" y2="381.30" stroke="#aaa" stroke-width="1.5"/>
<line x1="550.40" y1="381.30" x2="681.50" y2="381.30" stroke="#555" stroke-width="1"/>
<line x1="550.40" y1="381.30" x2="555.50" y2="381.30" stroke="#555" stroke-width="1"/>
<text x="545.40" y="385.00" font-size="10.6" text-anchor="end" textLength="6.40" lengthAdjust="spacingAndGlyphs">0</text>
<line x1="550.40" y1="340.40" x2="555.50" y2="340.40" stroke="#555" stroke-width="1"/>
<text x="545.40" y="344.10" font-size="10.6" text-anchor="end" textLength="19.60" lengthAdjust="spacingAndGlyphs">500</text>
<line x1="550.40" y1="299.40" x2="555.50" y2="299.40" stroke="#555" stroke-width="1"/>
<text x="545.40" y="303.10" font-size="10.6" text-anchor="end" textLength="26.30" lengthAdjust="spacingAndGlyphs">1,000</text>
<line x1="550.40" y1="258.00" x2="555.50" y2="258.00" stroke="#555" stroke-width="1"/>
<text x="545.40" y="261.70" font-size="10.6" text-anchor="end" textLength="26.30" lengthAdjust="spacingAndGlyphs">1,500</text>
<line x1="571.20" y1="381.30" x2="571.20" y2="386.30" stroke="#555" stroke-width="1"/>
<text x="579.60" y="397.80" font-size="11.3" text-anchor="end" textLength="52.00" lengthAdjust="spacingAndGlyphs" transform="rotate(-45 579.60 397.80)">Excluded</text>
<line x1="594.70" y1="381.30" x2="594.70" y2="386.30" stroke="#555" stroke-width="1"/>
<text x="603.10" y="397.80" font-size="11.3" text-anchor="end" textLength="48.50" lengthAdjust="spacingAndGlyphs" transform="rotate(-45 603.10 397.80)">Included</text>
<line x1="618.20" y1="381.30" x2="618.20" y2="386.30" stroke="#555" stroke-width="1"/>
<text x="626.60" y="397.80" font-size="11.3" text-anchor="end" textLength="40.00" lengthAdjust="spacingAndGlyphs" transform="rotate(-45 626.60 397.80)">Top 20</text>
<line x1="641.10" y1="381.30" x2="641.10" y2="386.30" stroke="#555" stroke-width="1"/>
<text x="649.50" y="397.80" font-size="11.3" text-anchor="end" textLength="33.00" lengthAdjust="spacingAndGlyphs" transform="rotate(-45 649.50 397.80)">Top 5</text>
<line x1="664.60" y1="381.30" x2="664.60" y2="386.30" stroke="#555" stroke-width="1"/>
<text x="673.00" y="397.80" font-size="11.3" text-anchor="end" textLength="31.00" lengthAdjust="spacingAndGlyphs" transform="rotate(-45 673.00 397.80)">Top 1</text>
<text x="510.50" y="320.00" font-size="12.3" text-anchor="middle" textLength="102.90" lengthAdjust="spacingAndGlyphs" transform="rotate(-90 510.50 320.00)">Number of models</text>
<text x="498.80" y="483.30" font-size="18.5" font-weight="bold" textLength="11.7" lengthAdjust="spacingAndGlyphs" stroke="#000" stroke-width="0.55" fill="#000">g</text>
<text x="554.00" y="483.50" font-size="12" textLength="130.60" lengthAdjust="spacingAndGlyphs">Self as feature in model</text>
<rect x="563.40" y="504.10" width="16.30" height="116.30" fill="#000"/>
<rect x="587.50" y="577.10" width="16.40" height="43.30" fill="#000"/>
<rect x="612.00" y="607.30" width="16.20" height="13.10" fill="#000"/>
<rect x="636.20" y="609.10" width="16.10" height="11.30" fill="#000"/>
<rect x="660.10" y="613.80" width="16.30" height="6.60" fill="#000"/>
<line x1="556.20" y1="491.20" x2="556.20" y2="620.40" stroke="#aaa" stroke-width="1.5"/>
<line x1="550.40" y1="620.40" x2="685.00" y2="620.40" stroke="#555" stroke-width="1"/>
<line x1="550.40" y1="620.40" x2="556.20" y2="620.40" stroke="#555" stroke-width="1"/>
<text x="545.40" y="624.10" font-size="10.6" text-anchor="end" textLength="6.40" lengthAdjust="spacingAndGlyphs">0</text>
<line x1="550.40" y1="577.50" x2="556.20" y2="577.50" stroke="#555" stroke-width="1"/>
<text x="545.40" y="581.20" font-size="10.6" text-anchor="end" textLength="19.60" lengthAdjust="spacingAndGlyphs">500</text>
<line x1="550.40" y1="534.60" x2="556.20" y2="534.60" stroke="#555" stroke-width="1"/>
<text x="545.40" y="538.30" font-size="10.6" text-anchor="end" textLength="26.30" lengthAdjust="spacingAndGlyphs">1,000</text>
<line x1="550.40" y1="491.40" x2="556.20" y2="491.40" stroke="#555" stroke-width="1"/>
<text x="545.40" y="495.10" font-size="10.6" text-anchor="end" textLength="26.30" lengthAdjust="spacingAndGlyphs">1,500</text>
<line x1="571.60" y1="620.40" x2="571.60" y2="625.40" stroke="#555" stroke-width="1"/>
<text x="577.20" y="638.40" font-size="11.3" text-anchor="end" textLength="52.00" lengthAdjust="spacingAndGlyphs" transform="rotate(-45 577.20 638.40)">Excluded</text>
<line x1="596.10" y1="620.40" x2="596.10" y2="625.40" stroke="#555" stroke-width="1"/>
<text x="601.70" y="638.40" font-size="11.3" text-anchor="end" textLength="48.50" lengthAdjust="spacingAndGlyphs" transform="rotate(-45 601.70 638.40)">Included</text>
<line x1="620.00" y1="620.40" x2="620.00" y2="625.40" stroke="#555" stroke-width="1"/>
<text x="625.60" y="638.40" font-size="11.3" text-anchor="end" textLength="40.00" lengthAdjust="spacingAndGlyphs" transform="rotate(-45 625.60 638.40)">Top 20</text>
<line x1="644.10" y1="620.40" x2="644.10" y2="625.40" stroke="#555" stroke-width="1"/>
<text x="649.70" y="638.40" font-size="11.3" text-anchor="end" textLength="33.00" lengthAdjust="spacingAndGlyphs" transform="rotate(-45 649.70 638.40)">Top 5</text>
<line x1="668.00" y1="620.40" x2="668.00" y2="625.40" stroke="#555" stroke-width="1"/>
<text x="673.60" y="638.40" font-size="11.3" text-anchor="end" textLength="31.00" lengthAdjust="spacingAndGlyphs" transform="rotate(-45 673.60 638.40)">Top 1</text>
<text x="510.50" y="556.30" font-size="12.3" text-anchor="middle" textLength="102.90" lengthAdjust="spacingAndGlyphs" transform="rotate(-90 510.50 556.30)">Number of models</text>
<text x="-0.30" y="722.80" font-size="18.5" font-weight="bold" textLength="11.9" lengthAdjust="spacingAndGlyphs" stroke="#000" stroke-width="0.55" fill="#000">h</text>
<line x1="82.60" y1="718.00" x2="82.60" y2="1076.30" stroke="#aaa" stroke-width="1.5"/>
<line x1="82.70" y1="1076.30" x2="621.00" y2="1076.30" stroke="#555" stroke-width="1"/>
<line x1="77.90" y1="1031.50" x2="82.70" y2="1031.50" stroke="#555" stroke-width="1"/>
<text x="72.80" y="1035.20" font-size="10.6" text-anchor="end" textLength="6.00" lengthAdjust="spacingAndGlyphs">0</text>
<line x1="111.10" y1="1076.30" x2="111.10" y2="1080.80" stroke="#555" stroke-width="1"/>
<text x="111.10" y="1095.50" font-size="10.6" text-anchor="middle" textLength="6.00" lengthAdjust="spacingAndGlyphs">0</text>
<line x1="77.90" y1="955.62" x2="82.70" y2="955.62" stroke="#555" stroke-width="1"/>
<text x="72.80" y="959.32" font-size="10.6" text-anchor="end" textLength="15.00" lengthAdjust="spacingAndGlyphs">0.2</text>
<line x1="235.85" y1="1076.30" x2="235.85" y2="1080.80" stroke="#555" stroke-width="1"/>
<text x="235.85" y="1095.50" font-size="10.6" text-anchor="middle" textLength="15.00" lengthAdjust="spacingAndGlyphs">0.2</text>
<line x1="77.90" y1="879.74" x2="82.70" y2="879.74" stroke="#555" stroke-width="1"/>
<text x="72.80" y="883.44" font-size="10.6" text-anchor="end" textLength="15.00" lengthAdjust="spacingAndGlyphs">0.4</text>
<line x1="360.60" y1="1076.30" x2="360.60" y2="1080.80" stroke="#555" stroke-width="1"/>
<text x="360.60" y="1095.50" font-size="10.6" text-anchor="middle" textLength="15.00" lengthAdjust="spacingAndGlyphs">0.4</text>
<line x1="77.90" y1="803.86" x2="82.70" y2="803.86" stroke="#555" stroke-width="1"/>
<text x="72.80" y="807.56" font-size="10.6" text-anchor="end" textLength="15.00" lengthAdjust="spacingAndGlyphs">0.6</text>
<line x1="485.35" y1="1076.30" x2="485.35" y2="1080.80" stroke="#555" stroke-width="1"/>
<text x="485.35" y="1095.50" font-size="10.6" text-anchor="middle" textLength="15.00" lengthAdjust="spacingAndGlyphs">0.6</text>
<line x1="77.90" y1="727.98" x2="82.70" y2="727.98" stroke="#555" stroke-width="1"/>
<text x="72.80" y="731.68" font-size="10.6" text-anchor="end" textLength="15.00" lengthAdjust="spacingAndGlyphs">0.8</text>
<line x1="610.10" y1="1076.30" x2="610.10" y2="1080.80" stroke="#555" stroke-width="1"/>
<text x="610.10" y="1095.50" font-size="10.6" text-anchor="middle" textLength="15.00" lengthAdjust="spacingAndGlyphs">0.8</text>
<text x="351.90" y="1113.70" font-size="12.3" text-anchor="middle" textLength="178.60" lengthAdjust="spacingAndGlyphs">Multi-omics model performance</text>
<text x="47.60" y="897.30" font-size="12.3" text-anchor="middle" textLength="200.00" lengthAdjust="spacingAndGlyphs" transform="rotate(-90 47.60 897.30)">Expression-only model performance</text>
<defs><linearGradient id="cb" x1="0" x2="1" y1="0" y2="0"><stop offset="0.000" stop-color="#fda088"/><stop offset="0.050" stop-color="#faac97"/><stop offset="0.100" stop-color="#f7b7a6"/><stop offset="0.150" stop-color="#f2c2b5"/><stop offset="0.200" stop-color="#edcdc5"/><stop offset="0.250" stop-color="#e6d8d5"/><stop offset="0.300" stop-color="#dedce1"/><stop offset="0.350" stop-color="#d7cee4"/><stop offset="0.400" stop-color="#d0c0e7"/><stop offset="0.450" stop-color="#c8b2e9"/><stop offset="0.500" stop-color="#bfa5ec"/><stop offset="0.550" stop-color="#b697ee"/><stop offset="0.600" stop-color="#ac89f1"/><stop offset="0.650" stop-color="#a27bf3"/><stop offset="0.700" stop-color="#976df5"/><stop offset="0.750" stop-color="#8a5ff7"/><stop offset="0.800" stop-color="#7c51f9"/><stop offset="0.850" stop-color="#6c42fa"/><stop offset="0.900" stop-color="#5932fc"/><stop offset="0.950" stop-color="#3f1ffd"/><stop offset="1.000" stop-color="#0000ff"/></linearGradient></defs>
<rect x="122.50" y="736.30" width="82.80" height="16.40" fill="url(#cb)"/>
<line x1="126.10" y1="748.20" x2="126.10" y2="752.70" stroke="#fff" stroke-width="1"/>
<line x1="146.20" y1="748.20" x2="146.20" y2="752.70" stroke="#fff" stroke-width="1"/>
<line x1="166.30" y1="748.20" x2="166.30" y2="752.70" stroke="#fff" stroke-width="1"/>
<line x1="186.40" y1="748.20" x2="186.40" y2="752.70" stroke="#fff" stroke-width="1"/>
<text x="96.60" y="748.70" font-size="11.5" textLength="18.60" lengthAdjust="spacingAndGlyphs">Diff</text>
<text x="126.20" y="766.60" font-size="12.0" text-anchor="middle" textLength="23.50" lengthAdjust="spacingAndGlyphs">−0.2</text>
<text x="146.60" y="766.60" font-size="12.0" text-anchor="middle" textLength="6.20" lengthAdjust="spacingAndGlyphs">0</text>
<text x="166.20" y="766.60" font-size="12.0" text-anchor="middle" textLength="17.30" lengthAdjust="spacingAndGlyphs">0.2</text>
<text x="186.40" y="766.60" font-size="12.0" text-anchor="middle" textLength="17.30" lengthAdjust="spacingAndGlyphs">0.4</text>
<g><circle cx="276.0" cy="954.0" r="2.8" fill="#d6cce4"/><circle cx="236.3" cy="964.3" r="2.8" fill="#dcd8e2"/><circle cx="241.9" cy="968.7" r="2.8" fill="#d9d1e3"/><circle cx="286.7" cy="912.2" r="2.8" fill="#e6d7d3"/><circle cx="329.8" cy="873.2" r="2.8" fill="#eccec7"/><circle cx="185.4" cy="936.9" r="2.8" fill="#f4bdaf"/><circle cx="339.7" cy="896.7" r="2.8" fill="#dedce1"/><circle cx="264.1" cy="936.8" r="2.8" fill="#e1dfde"/><circle cx="286.0" cy="937.4" r="2.8" fill="#dbd5e2"/><circle cx="273.3" cy="931.6" r="2.8" fill="#e1dfdf"/><circle cx="412.4" cy="833.8" r="2.8" fill="#e7d6d1"/><circle cx="348.4" cy="913.0" r="2.8" fill="#d4c9e5"/><circle cx="337.7" cy="902.8" r="2.8" fill="#dcd8e2"/><circle cx="381.7" cy="873.0" r="2.8" fill="#dddae1"/><circle cx="286.3" cy="941.2" r="2.8" fill="#d9d1e3"/><circle cx="291.1" cy="942.3" r="2.8" fill="#d7cee4"/><circle cx="331.6" cy="916.4" r="2.8" fill="#d7cfe4"/><circle cx="255.8" cy="931.0" r="2.8" fill="#e6d7d3"/><circle cx="431.1" cy="838.0" r="2.8" fill="#e0dfe0"/><circle cx="363.1" cy="870.8" r="2.8" fill="#e4dbd9"/><circle cx="251.3" cy="938.6" r="2.8" fill="#e4dbd8"/><circle cx="285.2" cy="956.2" r="2.8" fill="#d2c5e6"/><circle cx="274.3" cy="983.9" r="2.8" fill="#c7b2ea"/><circle cx="263.5" cy="960.1" r="2.8" fill="#d6cde4"/><circle cx="285.3" cy="916.3" r="2.8" fill="#e5dad7"/><circle cx="285.5" cy="928.0" r="2.8" fill="#dfdee1"/><circle cx="307.1" cy="938.3" r="2.8" fill="#d4c9e5"/><circle cx="378.4" cy="884.8" r="2.8" fill="#d9d2e3"/><circle cx="439.4" cy="838.3" r="2.8" fill="#dddae1"/><circle cx="419.8" cy="840.5" r="2.8" fill="#e2dedd"/><circle cx="239.8" cy="948.4" r="2.8" fill="#e3dddb"/><circle cx="287.2" cy="931.8" r="2.8" fill="#ddd9e1"/><circle cx="354.4" cy="886.2" r="2.8" fill="#dfdee1"/><circle cx="276.9" cy="958.4" r="2.8" fill="#d3c7e5"/><circle cx="359.1" cy="899.0" r="2.8" fill="#d8d0e4"/><circle cx="378.5" cy="876.4" r="2.8" fill="#ddd9e2"/><circle cx="290.1" cy="940.2" r="2.8" fill="#d8d0e3"/><circle cx="295.3" cy="908.6" r="2.8" fill="#e6d8d5"/><circle cx="274.8" cy="918.4" r="2.8" fill="#e7d7d2"/><circle cx="310.2" cy="921.5" r="2.8" fill="#dbd6e2"/><circle cx="372.9" cy="869.1" r="2.8" fill="#e2dedd"/><circle cx="284.7" cy="914.0" r="2.8" fill="#e6d8d4"/><circle cx="325.0" cy="936.9" r="2.8" fill="#d0c0e7"/><circle cx="370.7" cy="873.0" r="2.8" fill="#e0e0df"/><circle cx="298.5" cy="925.2" r="2.8" fill="#ddd9e2"/><circle cx="238.8" cy="976.2" r="2.8" fill="#d6cce4"/><circle cx="261.3" cy="943.2" r="2.8" fill="#dfdde1"/><circle cx="277.5" cy="964.0" r="2.8" fill="#d0c2e6"/><circle cx="252.9" cy="956.1" r="2.8" fill="#dbd6e2"/><circle cx="276.7" cy="924.3" r="2.8" fill="#e3dbd9"/><circle cx="295.2" cy="915.6" r="2.8" fill="#e2dddc"/><circle cx="320.0" cy="894.4" r="2.8" fill="#e5d9d6"/><circle cx="353.5" cy="887.3" r="2.8" fill="#dfdde1"/><circle cx="418.0" cy="835.5" r="2.8" fill="#e5dad7"/><circle cx="323.3" cy="899.9" r="2.8" fill="#e1dedd"/><circle cx="277.7" cy="947.8" r="2.8" fill="#d8d0e3"/><circle cx="401.6" cy="849.9" r="2.8" fill="#e3dddb"/><circle cx="413.9" cy="856.2" r="2.8" fill="#dcd8e2"/><circle cx="434.9" cy="841.8" r="2.8" fill="#dddae1"/><circle cx="255.6" cy="966.9" r="2.8" fill="#d5cbe5"/><circle cx="395.9" cy="870.9" r="2.8" fill="#dad5e3"/><circle cx="329.5" cy="895.2" r="2.8" fill="#e2dedd"/><circle cx="392.4" cy="871.8" r="2.8" fill="#dbd6e2"/><circle cx="275.9" cy="933.0" r="2.8" fill="#dfdee0"/><circle cx="236.0" cy="958.4" r="2.8" fill="#dfdde1"/><circle cx="240.7" cy="998.3" r="2.8" fill="#cab7e9"/><circle cx="378.7" cy="873.2" r="2.8" fill="#dedce1"/><circle cx="258.7" cy="941.5" r="2.8" fill="#e0e0e0"/><circle cx="363.4" cy="878.7" r="2.8" fill="#e0dfe0"/><circle cx="245.0" cy="966.2" r="2.8" fill="#d9d2e3"/><circle cx="265.9" cy="966.1" r="2.8" fill="#d3c6e6"/><circle cx="381.4" cy="872.7" r="2.8" fill="#dedbe1"/><circle cx="274.8" cy="946.0" r="2.8" fill="#dad3e3"/><circle cx="377.1" cy="877.8" r="2.8" fill="#dcd9e2"/><circle cx="341.2" cy="897.7" r="2.8" fill="#dddbe1"/><circle cx="249.4" cy="990.1" r="2.8" fill="#ccbae8"/><circle cx="428.4" cy="838.1" r="2.8" fill="#e0e0e0"/><circle cx="238.5" cy="942.2" r="2.8" fill="#e6d8d4"/><circle cx="276.5" cy="928.8" r="2.8" fill="#e1dfde"/><circle cx="311.4" cy="902.6" r="2.8" fill="#e4dbd9"/><circle cx="243.3" cy="1010.3" r="2.8" fill="#c3abeb"/><circle cx="386.2" cy="859.3" r="2.8" fill="#e3dddb"/><circle cx="317.5" cy="915.0" r="2.8" fill="#dcd8e2"/><circle cx="313.9" cy="908.4" r="2.8" fill="#e0e0e0"/><circle cx="299.4" cy="900.1" r="2.8" fill="#e8d4cf"/><circle cx="276.0" cy="916.0" r="2.8" fill="#e8d5d1"/><circle cx="281.4" cy="944.8" r="2.8" fill="#d8d1e3"/><circle cx="282.2" cy="895.9" r="2.8" fill="#eecac0"/><circle cx="303.1" cy="896.2" r="2.8" fill="#e9d3cd"/><circle cx="326.2" cy="905.8" r="2.8" fill="#dedbe1"/><circle cx="325.9" cy="936.2" r="2.8" fill="#d0c0e7"/><circle cx="317.5" cy="890.9" r="2.8" fill="#e7d6d1"/><circle cx="328.5" cy="898.4" r="2.8" fill="#e0dfdf"/><circle cx="279.5" cy="944.8" r="2.8" fill="#d9d2e3"/><circle cx="269.5" cy="937.0" r="2.8" fill="#dfdee0"/><circle cx="246.5" cy="990.0" r="2.8" fill="#cdbbe8"/><circle cx="339.6" cy="889.2" r="2.8" fill="#e2dedd"/><circle cx="317.8" cy="917.4" r="2.8" fill="#dbd6e2"/><circle cx="236.6" cy="1004.8" r="2.8" fill="#c8b4e9"/><circle cx="183.1" cy="949.0" r="2.8" fill="#f1c5b9"/><circle cx="298.6" cy="937.2" r="2.8" fill="#d7cee4"/><circle cx="353.9" cy="879.1" r="2.8" fill="#e2dddb"/><circle cx="366.6" cy="873.9" r="2.8" fill="#e1dede"/><circle cx="341.5" cy="886.7" r="2.8" fill="#e2dddb"/><circle cx="238.0" cy="991.3" r="2.8" fill="#cfbfe7"/><circle cx="380.8" cy="861.7" r="2.8" fill="#e3dcda"/><circle cx="351.5" cy="889.4" r="2.8" fill="#dedce1"/><circle cx="205.9" cy="947.1" r="2.8" fill="#eccdc5"/><circle cx="384.0" cy="867.2" r="2.8" fill="#dfdee0"/><circle cx="248.1" cy="963.0" r="2.8" fill="#d9d3e3"/><circle cx="239.4" cy="943.3" r="2.8" fill="#e5d9d6"/><circle cx="334.8" cy="901.2" r="2.8" fill="#dddbe1"/><circle cx="231.1" cy="953.6" r="2.8" fill="#e3dddb"/><circle cx="308.5" cy="917.6" r="2.8" fill="#dddae1"/><circle cx="408.7" cy="849.4" r="2.8" fill="#e1dfdf"/><circle cx="248.0" cy="944.0" r="2.8" fill="#e2dddc"/><circle cx="281.0" cy="928.4" r="2.8" fill="#e0e0e0"/><circle cx="334.6" cy="915.5" r="2.8" fill="#d7cee4"/><circle cx="253.9" cy="930.1" r="2.8" fill="#e7d6d1"/><circle cx="238.8" cy="950.8" r="2.8" fill="#e2dedd"/><circle cx="259.0" cy="955.4" r="2.8" fill="#dad4e3"/><circle cx="374.4" cy="865.8" r="2.8" fill="#e3dcda"/><circle cx="401.3" cy="853.6" r="2.8" fill="#e1dfdf"/><circle cx="237.4" cy="949.5" r="2.8" fill="#e3dcdb"/><circle cx="286.0" cy="924.5" r="2.8" fill="#e0e0df"/><circle cx="241.1" cy="985.1" r="2.8" fill="#d1c3e6"/><circle cx="401.3" cy="865.9" r="2.8" fill="#dbd6e2"/><circle cx="371.8" cy="876.2" r="2.8" fill="#dfdde1"/><circle cx="300.7" cy="933.4" r="2.8" fill="#d8d1e3"/><circle cx="251.6" cy="955.6" r="2.8" fill="#dcd7e2"/><circle cx="260.5" cy="944.0" r="2.8" fill="#dfdde1"/><circle cx="311.3" cy="918.5" r="2.8" fill="#dcd8e2"/><circle cx="226.8" cy="953.8" r="2.8" fill="#e4dbd9"/><circle cx="284.8" cy="937.6" r="2.8" fill="#dbd5e2"/><circle cx="332.8" cy="893.7" r="2.8" fill="#e2dedd"/><circle cx="238.2" cy="959.4" r="2.8" fill="#dedbe1"/><circle cx="246.3" cy="987.1" r="2.8" fill="#cebee7"/><circle cx="241.9" cy="1010.4" r="2.8" fill="#c4aceb"/><circle cx="274.6" cy="928.3" r="2.8" fill="#e2dddc"/><circle cx="358.3" cy="875.3" r="2.8" fill="#e3dcda"/><circle cx="315.2" cy="910.9" r="2.8" fill="#dedde1"/><circle cx="281.8" cy="956.9" r="2.8" fill="#d3c6e6"/><circle cx="403.5" cy="853.3" r="2.8" fill="#e0e0e0"/><circle cx="391.6" cy="877.7" r="2.8" fill="#d8d1e3"/><circle cx="305.2" cy="949.1" r="2.8" fill="#cfc0e7"/><circle cx="251.8" cy="964.3" r="2.8" fill="#d8d0e4"/><circle cx="382.4" cy="854.5" r="2.8" fill="#e6d8d4"/><circle cx="243.0" cy="975.6" r="2.8" fill="#d5cae5"/><circle cx="336.5" cy="893.8" r="2.8" fill="#e0e0df"/><circle cx="260.8" cy="965.3" r="2.8" fill="#d5cae5"/><circle cx="433.4" cy="844.3" r="2.8" fill="#dcd8e2"/><circle cx="312.7" cy="894.4" r="2.8" fill="#e7d6d1"/><circle cx="417.9" cy="836.5" r="2.8" fill="#e4dad8"/><circle cx="359.3" cy="892.6" r="2.8" fill="#dbd5e2"/><circle cx="423.3" cy="850.3" r="2.8" fill="#dcd8e2"/><circle cx="323.0" cy="892.3" r="2.8" fill="#e5d9d6"/><circle cx="295.4" cy="940.1" r="2.8" fill="#d7cde4"/><circle cx="223.8" cy="945.6" r="2.8" fill="#e8d4cf"/><circle cx="375.7" cy="864.1" r="2.8" fill="#e3dcda"/><circle cx="237.7" cy="972.0" r="2.8" fill="#d8d0e3"/><circle cx="384.3" cy="880.3" r="2.8" fill="#d9d3e3"/><circle cx="259.0" cy="923.4" r="2.8" fill="#e9d3ce"/><circle cx="354.9" cy="878.2" r="2.8" fill="#e3dddb"/><circle cx="302.7" cy="939.2" r="2.8" fill="#d5cae5"/><circle cx="255.7" cy="960.7" r="2.8" fill="#d8d1e3"/><circle cx="293.7" cy="940.4" r="2.8" fill="#d7cee4"/><circle cx="263.2" cy="960.6" r="2.8" fill="#d6cde4"/><circle cx="283.1" cy="941.8" r="2.8" fill="#d9d3e3"/><circle cx="335.7" cy="891.7" r="2.8" fill="#e2dedd"/><circle cx="263.5" cy="957.0" r="2.8" fill="#d8d0e4"/><circle cx="380.0" cy="876.8" r="2.8" fill="#dcd8e2"/><circle cx="295.5" cy="958.8" r="2.8" fill="#cebde7"/><circle cx="186.7" cy="951.9" r="2.8" fill="#efc8be"/><circle cx="289.1" cy="926.7" r="2.8" fill="#dedde1"/><circle cx="287.8" cy="924.1" r="2.8" fill="#e0e0e0"/><circle cx="236.6" cy="985.7" r="2.8" fill="#d2c5e6"/><circle cx="407.4" cy="860.0" r="2.8" fill="#dcd8e2"/><circle cx="363.4" cy="874.6" r="2.8" fill="#e2dedd"/><circle cx="418.4" cy="838.3" r="2.8" fill="#e3dcda"/><circle cx="301.7" cy="914.1" r="2.8" fill="#e1dfde"/><circle cx="240.5" cy="994.5" r="2.8" fill="#ccbbe8"/><circle cx="277.7" cy="921.9" r="2.8" fill="#e4dad8"/><circle cx="249.4" cy="994.0" r="2.8" fill="#cab6e9"/><circle cx="356.1" cy="908.0" r="2.8" fill="#d4c9e5"/><circle cx="355.9" cy="891.4" r="2.8" fill="#dcd8e2"/><circle cx="277.4" cy="915.9" r="2.8" fill="#e7d6d1"/><circle cx="273.3" cy="906.2" r="2.8" fill="#eccdc5"/><circle cx="219.6" cy="954.4" r="2.8" fill="#e6d8d5"/><circle cx="247.1" cy="939.6" r="2.8" fill="#e5dad7"/><circle cx="241.9" cy="983.9" r="2.8" fill="#d1c3e6"/><circle cx="282.1" cy="937.3" r="2.8" fill="#dcd7e2"/><circle cx="217.5" cy="950.4" r="2.8" fill="#e8d5cf"/><circle cx="342.9" cy="911.3" r="2.8" fill="#d7cde4"/><circle cx="350.1" cy="899.4" r="2.8" fill="#dad4e3"/><circle cx="304.6" cy="941.7" r="2.8" fill="#d3c7e5"/><circle cx="301.2" cy="902.2" r="2.8" fill="#e7d6d2"/><circle cx="241.5" cy="955.6" r="2.8" fill="#dfdde1"/><circle cx="417.2" cy="832.8" r="2.8" fill="#e6d7d3"/><circle cx="299.9" cy="899.4" r="2.8" fill="#e8d4cf"/><circle cx="355.0" cy="880.9" r="2.8" fill="#e1dede"/><circle cx="313.9" cy="885.5" r="2.8" fill="#ebd0c9"/><circle cx="339.6" cy="900.7" r="2.8" fill="#dcd9e2"/><circle cx="259.4" cy="1001.0" r="2.8" fill="#c3abeb"/><circle cx="324.7" cy="891.7" r="2.8" fill="#e5d9d6"/><circle cx="415.0" cy="830.0" r="2.8" fill="#e8d4cf"/><circle cx="262.1" cy="991.7" r="2.8" fill="#c7b2ea"/><circle cx="378.4" cy="869.3" r="2.8" fill="#e0e0e0"/><circle cx="226.0" cy="952.5" r="2.8" fill="#e5dad7"/><circle cx="331.6" cy="894.4" r="2.8" fill="#e2dedd"/><circle cx="303.5" cy="932.3" r="2.8" fill="#d8d0e4"/><circle cx="422.1" cy="837.1" r="2.8" fill="#e3dcdb"/><circle cx="275.9" cy="933.6" r="2.8" fill="#dfdee0"/><circle cx="291.3" cy="934.0" r="2.8" fill="#dbd5e2"/><circle cx="251.7" cy="943.0" r="2.8" fill="#e2dedd"/><circle cx="214.9" cy="929.4" r="2.8" fill="#f1c5b9"/><circle cx="256.7" cy="932.6" r="2.8" fill="#e5d9d6"/><circle cx="255.6" cy="952.2" r="2.8" fill="#dcd8e2"/><circle cx="320.0" cy="930.7" r="2.8" fill="#d4c8e5"/><circle cx="269.4" cy="955.9" r="2.8" fill="#d7cde4"/><circle cx="236.4" cy="974.3" r="2.8" fill="#d7cfe4"/><circle cx="236.7" cy="1004.8" r="2.8" fill="#c8b4e9"/><circle cx="266.5" cy="939.1" r="2.8" fill="#dfdee0"/><circle cx="281.3" cy="909.3" r="2.8" fill="#e9d3cd"/><circle cx="376.0" cy="868.6" r="2.8" fill="#e1dfde"/><circle cx="286.0" cy="911.7" r="2.8" fill="#e7d7d3"/><circle cx="420.4" cy="833.7" r="2.8" fill="#e5d9d6"/><circle cx="335.9" cy="903.6" r="2.8" fill="#dcd8e2"/><circle cx="381.7" cy="877.8" r="2.8" fill="#dbd6e2"/><circle cx="264.5" cy="962.2" r="2.8" fill="#d5cbe5"/><circle cx="398.8" cy="848.1" r="2.8" fill="#e4dad8"/><circle cx="221.1" cy="934.0" r="2.8" fill="#eecbc1"/><circle cx="247.9" cy="951.3" r="2.8" fill="#dfdde1"/><circle cx="274.5" cy="921.0" r="2.8" fill="#e6d8d5"/><circle cx="341.7" cy="878.9" r="2.8" fill="#e6d7d4"/><circle cx="283.2" cy="940.0" r="2.8" fill="#dad4e3"/><circle cx="236.9" cy="948.6" r="2.8" fill="#e3dcda"/><circle cx="236.4" cy="966.0" r="2.8" fill="#dbd6e2"/><circle cx="251.3" cy="924.2" r="2.8" fill="#ead1ca"/><circle cx="246.7" cy="976.3" r="2.8" fill="#d4c8e5"/><circle cx="337.3" cy="920.6" r="2.8" fill="#d4c8e5"/><circle cx="243.0" cy="978.7" r="2.8" fill="#d3c7e5"/><circle cx="266.6" cy="946.6" r="2.8" fill="#dcd7e2"/><circle cx="246.8" cy="1005.7" r="2.8" fill="#c5adea"/><circle cx="228.9" cy="953.7" r="2.8" fill="#e3dcda"/><circle cx="349.1" cy="900.9" r="2.8" fill="#dad3e3"/><circle cx="217.0" cy="945.7" r="2.8" fill="#ead1cb"/><circle cx="297.5" cy="917.1" r="2.8" fill="#e1dfdf"/><circle cx="423.0" cy="839.6" r="2.8" fill="#e1dede"/><circle cx="328.4" cy="902.2" r="2.8" fill="#dfdde1"/><circle cx="283.2" cy="917.8" r="2.8" fill="#e5dad7"/><circle cx="226.0" cy="952.9" r="2.8" fill="#e4dad7"/><circle cx="417.3" cy="854.0" r="2.8" fill="#dcd8e2"/><circle cx="416.2" cy="853.3" r="2.8" fill="#ddd9e1"/><circle cx="342.1" cy="884.8" r="2.8" fill="#e3dcda"/><circle cx="387.1" cy="859.1" r="2.8" fill="#e2dddb"/><circle cx="344.5" cy="893.3" r="2.8" fill="#dedde1"/><circle cx="208.7" cy="934.9" r="2.8" fill="#f0c6bb"/><circle cx="340.8" cy="903.0" r="2.8" fill="#dbd6e2"/><circle cx="336.6" cy="899.9" r="2.8" fill="#dedbe1"/><circle cx="259.0" cy="923.6" r="2.8" fill="#e9d4ce"/><circle cx="342.1" cy="891.4" r="2.8" fill="#e0e0e0"/><circle cx="217.9" cy="947.0" r="2.8" fill="#e9d2cc"/><circle cx="314.2" cy="904.3" r="2.8" fill="#e2dddc"/><circle cx="431.6" cy="839.6" r="2.8" fill="#dfdde1"/><circle cx="243.9" cy="941.5" r="2.8" fill="#e5dad7"/><circle cx="262.9" cy="909.9" r="2.8" fill="#edccc3"/><circle cx="262.0" cy="911.9" r="2.8" fill="#edcdc4"/><circle cx="273.9" cy="969.8" r="2.8" fill="#cfbfe7"/><circle cx="283.8" cy="976.1" r="2.8" fill="#c8b4e9"/><circle cx="414.9" cy="850.9" r="2.8" fill="#dedce1"/><circle cx="280.8" cy="964.7" r="2.8" fill="#cfbfe7"/><circle cx="371.2" cy="867.8" r="2.8" fill="#e3dcda"/><circle cx="277.2" cy="943.7" r="2.8" fill="#dad4e3"/><circle cx="318.9" cy="915.6" r="2.8" fill="#dbd7e2"/><circle cx="224.4" cy="955.3" r="2.8" fill="#e4dbd9"/><circle cx="398.8" cy="851.7" r="2.8" fill="#e2dddb"/><circle cx="309.2" cy="931.8" r="2.8" fill="#d7cde4"/><circle cx="308.6" cy="940.0" r="2.8" fill="#d3c6e6"/><circle cx="301.2" cy="890.0" r="2.8" fill="#eccec6"/><circle cx="276.6" cy="939.0" r="2.8" fill="#dcd9e2"/><circle cx="230.5" cy="954.5" r="2.8" fill="#e2dddc"/><circle cx="243.3" cy="955.7" r="2.8" fill="#dedce1"/><circle cx="421.2" cy="845.9" r="2.8" fill="#dfdde1"/><circle cx="300.4" cy="920.7" r="2.8" fill="#dedce1"/><circle cx="270.8" cy="924.0" r="2.8" fill="#e5d9d6"/><circle cx="268.8" cy="943.6" r="2.8" fill="#dcd9e2"/><circle cx="347.5" cy="883.1" r="2.8" fill="#e2dddb"/><circle cx="295.8" cy="917.9" r="2.8" fill="#e1dfdf"/><circle cx="251.4" cy="950.2" r="2.8" fill="#dedce1"/><circle cx="246.3" cy="944.9" r="2.8" fill="#e2dddc"/><circle cx="369.3" cy="887.0" r="2.8" fill="#dad5e2"/><circle cx="332.6" cy="894.4" r="2.8" fill="#e1dede"/><circle cx="274.5" cy="943.1" r="2.8" fill="#dbd6e2"/><circle cx="261.5" cy="929.9" r="2.8" fill="#e5d9d6"/><circle cx="250.6" cy="946.7" r="2.8" fill="#e0e0e0"/><circle cx="278.6" cy="924.3" r="2.8" fill="#e3dcdb"/><circle cx="351.1" cy="901.3" r="2.8" fill="#d9d2e3"/><circle cx="413.8" cy="854.6" r="2.8" fill="#ddd9e1"/><circle cx="280.4" cy="930.9" r="2.8" fill="#dfdee0"/><circle cx="379.3" cy="860.1" r="2.8" fill="#e4dad8"/><circle cx="362.0" cy="898.1" r="2.8" fill="#d7cfe4"/><circle cx="320.7" cy="886.7" r="2.8" fill="#e8d4cf"/><circle cx="304.5" cy="899.6" r="2.8" fill="#e7d6d2"/><circle cx="386.9" cy="857.2" r="2.8" fill="#e3dbd9"/><circle cx="215.7" cy="945.0" r="2.8" fill="#ebd0c9"/><circle cx="369.4" cy="877.1" r="2.8" fill="#dfdee1"/><circle cx="242.0" cy="934.0" r="2.8" fill="#e9d4ce"/><circle cx="245.6" cy="910.1" r="2.8" fill="#f1c4b8"/><circle cx="324.5" cy="900.5" r="2.8" fill="#e1dfdf"/><circle cx="208.3" cy="935.1" r="2.8" fill="#f0c6bb"/><circle cx="388.1" cy="844.6" r="2.8" fill="#e9d3ce"/><circle cx="254.8" cy="910.6" r="2.8" fill="#efc9be"/><circle cx="300.7" cy="925.0" r="2.8" fill="#dcd8e2"/><circle cx="311.8" cy="895.3" r="2.8" fill="#e7d6d2"/><circle cx="378.0" cy="874.9" r="2.8" fill="#dddbe1"/><circle cx="380.4" cy="862.8" r="2.8" fill="#e3dddb"/><circle cx="237.5" cy="958.6" r="2.8" fill="#dedce1"/><circle cx="342.0" cy="881.0" r="2.8" fill="#e5d9d6"/><circle cx="242.9" cy="929.2" r="2.8" fill="#ebd0ca"/><circle cx="283.1" cy="926.9" r="2.8" fill="#e0e0e0"/><circle cx="321.1" cy="897.6" r="2.8" fill="#e3dcda"/><circle cx="309.8" cy="906.5" r="2.8" fill="#e2dddc"/><circle cx="317.5" cy="936.4" r="2.8" fill="#d2c5e6"/><circle cx="287.5" cy="930.8" r="2.8" fill="#dddae1"/><circle cx="389.2" cy="856.4" r="2.8" fill="#e3dcda"/><circle cx="353.8" cy="880.4" r="2.8" fill="#e2dedc"/><circle cx="376.1" cy="875.4" r="2.8" fill="#dedbe1"/><circle cx="281.2" cy="930.3" r="2.8" fill="#dfdee0"/><circle cx="402.4" cy="854.7" r="2.8" fill="#e0e0e0"/><circle cx="394.1" cy="858.5" r="2.8" fill="#e0dfdf"/><circle cx="299.3" cy="901.1" r="2.8" fill="#e8d5d0"/><circle cx="323.0" cy="891.9" r="2.8" fill="#e5d9d5"/><circle cx="254.8" cy="932.9" r="2.8" fill="#e6d8d5"/><circle cx="342.9" cy="876.2" r="2.8" fill="#e7d6d2"/><circle cx="295.3" cy="898.9" r="2.8" fill="#ead2cb"/><circle cx="367.2" cy="867.9" r="2.8" fill="#e4dbd8"/><circle cx="359.2" cy="866.6" r="2.8" fill="#e7d6d2"/><circle cx="378.9" cy="860.7" r="2.8" fill="#e4dbd8"/><circle cx="342.7" cy="891.6" r="2.8" fill="#e0dfe0"/><circle cx="426.2" cy="835.3" r="2.8" fill="#e2dddb"/><circle cx="262.1" cy="925.7" r="2.8" fill="#e7d6d2"/><circle cx="307.5" cy="933.1" r="2.8" fill="#d6cde4"/><circle cx="258.5" cy="954.7" r="2.8" fill="#dad4e3"/><circle cx="277.5" cy="934.1" r="2.8" fill="#dedde1"/><circle cx="233.5" cy="935.8" r="2.8" fill="#ead1cb"/><circle cx="320.5" cy="879.9" r="2.8" fill="#ebcfc8"/><circle cx="373.2" cy="892.4" r="2.8" fill="#d7cee4"/><circle cx="341.8" cy="878.8" r="2.8" fill="#e6d7d4"/><circle cx="226.0" cy="951.1" r="2.8" fill="#e5d9d5"/><circle cx="422.9" cy="839.1" r="2.8" fill="#e1dedd"/><circle cx="236.4" cy="949.2" r="2.8" fill="#e3dcda"/><circle cx="408.0" cy="861.9" r="2.8" fill="#dbd6e2"/><circle cx="423.2" cy="840.2" r="2.8" fill="#e1dfdf"/><circle cx="226.9" cy="946.7" r="2.8" fill="#e7d6d2"/><circle cx="363.0" cy="898.5" r="2.8" fill="#d7cee4"/><circle cx="321.0" cy="897.6" r="2.8" fill="#e3dcda"/><circle cx="219.1" cy="950.6" r="2.8" fill="#e8d5d1"/><circle cx="264.3" cy="975.8" r="2.8" fill="#cfbfe7"/><circle cx="238.6" cy="953.9" r="2.8" fill="#e0e0e0"/><circle cx="336.6" cy="880.8" r="2.8" fill="#e7d7d2"/><circle cx="292.2" cy="913.3" r="2.8" fill="#e4dad8"/><circle cx="362.2" cy="885.9" r="2.8" fill="#dddae1"/><circle cx="177.0" cy="947.7" r="2.8" fill="#f2c1b4"/><circle cx="286.7" cy="917.5" r="2.8" fill="#e4dbd9"/><circle cx="294.2" cy="929.9" r="2.8" fill="#dcd7e2"/><circle cx="356.7" cy="896.4" r="2.8" fill="#dad3e3"/><circle cx="258.2" cy="934.6" r="2.8" fill="#e4dbd8"/><circle cx="246.6" cy="940.5" r="2.8" fill="#e4dad7"/><circle cx="400.4" cy="849.1" r="2.8" fill="#e3dcda"/><circle cx="349.1" cy="904.8" r="2.8" fill="#d8d0e4"/><circle cx="313.2" cy="908.0" r="2.8" fill="#e0e0df"/><circle cx="308.5" cy="902.2" r="2.8" fill="#e5dad7"/><circle cx="351.6" cy="902.3" r="2.8" fill="#d8d1e3"/><circle cx="257.6" cy="976.5" r="2.8" fill="#d0c1e7"/><circle cx="283.7" cy="924.3" r="2.8" fill="#e1dede"/><circle cx="279.4" cy="937.5" r="2.8" fill="#dcd8e2"/><circle cx="252.6" cy="962.3" r="2.8" fill="#d8d1e3"/><circle cx="411.9" cy="855.6" r="2.8" fill="#dddae1"/><circle cx="326.7" cy="905.3" r="2.8" fill="#dedce1"/><circle cx="335.1" cy="903.3" r="2.8" fill="#dcd9e2"/><circle cx="319.5" cy="900.7" r="2.8" fill="#e2dddc"/><circle cx="261.3" cy="945.4" r="2.8" fill="#dedbe1"/><circle cx="230.8" cy="939.4" r="2.8" fill="#e9d3cd"/><circle cx="320.4" cy="914.7" r="2.8" fill="#dbd7e2"/><circle cx="192.4" cy="942.0" r="2.8" fill="#f1c4b8"/><circle cx="310.0" cy="948.8" r="2.8" fill="#cebee7"/><circle cx="270.1" cy="959.4" r="2.8" fill="#d5cae5"/><circle cx="279.8" cy="960.0" r="2.8" fill="#d2c4e6"/><circle cx="291.5" cy="909.0" r="2.8" fill="#e6d7d3"/><circle cx="256.3" cy="955.0" r="2.8" fill="#dbd5e2"/><circle cx="277.0" cy="923.4" r="2.8" fill="#e4dbd9"/><circle cx="227.1" cy="949.8" r="2.8" fill="#e6d8d5"/><circle cx="358.2" cy="877.5" r="2.8" fill="#e2dddc"/><circle cx="315.8" cy="913.0" r="2.8" fill="#dddbe1"/><circle cx="335.4" cy="908.6" r="2.8" fill="#dad4e3"/><circle cx="409.2" cy="842.0" r="2.8" fill="#e4dad8"/><circle cx="257.3" cy="961.1" r="2.8" fill="#d8cfe4"/><circle cx="393.9" cy="857.9" r="2.8" fill="#e1dfde"/><circle cx="276.9" cy="945.6" r="2.8" fill="#d9d3e3"/><circle cx="252.1" cy="953.4" r="2.8" fill="#ddd9e2"/><circle cx="339.1" cy="923.7" r="2.8" fill="#d2c4e6"/><circle cx="314.2" cy="895.4" r="2.8" fill="#e6d7d3"/><circle cx="342.5" cy="902.0" r="2.8" fill="#dbd6e2"/><circle cx="272.4" cy="925.1" r="2.8" fill="#e4dad8"/><circle cx="248.4" cy="947.2" r="2.8" fill="#e0dfdf"/><circle cx="278.3" cy="983.1" r="2.8" fill="#c6b0ea"/><circle cx="424.1" cy="833.3" r="2.8" fill="#e4dbd8"/><circle cx="269.8" cy="928.9" r="2.8" fill="#e3dcda"/><circle cx="261.2" cy="965.0" r="2.8" fill="#d5cae5"/><circle cx="236.8" cy="980.7" r="2.8" fill="#d4c9e5"/><circle cx="252.6" cy="934.0" r="2.8" fill="#e6d8d4"/><circle cx="367.1" cy="874.9" r="2.8" fill="#e0dfdf"/><circle cx="233.3" cy="951.7" r="2.8" fill="#e3dcdb"/><circle cx="369.5" cy="884.5" r="2.8" fill="#dbd7e2"/><circle cx="271.6" cy="912.5" r="2.8" fill="#ead1cb"/><circle cx="236.2" cy="978.7" r="2.8" fill="#d5cbe5"/><circle cx="190.6" cy="955.4" r="2.8" fill="#edcdc4"/><circle cx="390.5" cy="849.2" r="2.8" fill="#e6d7d3"/><circle cx="261.5" cy="949.5" r="2.8" fill="#dcd7e2"/><circle cx="213.1" cy="935.4" r="2.8" fill="#efc8be"/><circle cx="274.6" cy="899.5" r="2.8" fill="#efc9bf"/><circle cx="307.4" cy="917.9" r="2.8" fill="#dddbe1"/><circle cx="379.2" cy="855.8" r="2.8" fill="#e6d7d3"/><circle cx="378.2" cy="872.2" r="2.8" fill="#dfdde1"/><circle cx="266.3" cy="947.7" r="2.8" fill="#dbd6e2"/><circle cx="286.2" cy="935.9" r="2.8" fill="#dbd6e2"/><circle cx="272.0" cy="939.4" r="2.8" fill="#dddbe1"/><circle cx="335.9" cy="894.5" r="2.8" fill="#e0e0e0"/><circle cx="316.5" cy="902.5" r="2.8" fill="#e2dddc"/><circle cx="363.0" cy="879.2" r="2.8" fill="#e0dfe0"/><circle cx="273.3" cy="936.2" r="2.8" fill="#dfdde1"/><circle cx="254.0" cy="921.9" r="2.8" fill="#ebd0c9"/><circle cx="255.6" cy="990.0" r="2.8" fill="#cab7e9"/><circle cx="277.1" cy="955.7" r="2.8" fill="#d5c9e5"/><circle cx="351.1" cy="879.6" r="2.8" fill="#e3dcda"/><circle cx="223.5" cy="947.4" r="2.8" fill="#e8d5d0"/><circle cx="407.7" cy="839.0" r="2.8" fill="#e6d8d4"/><circle cx="237.1" cy="946.3" r="2.8" fill="#e4dad7"/><circle cx="275.9" cy="935.0" r="2.8" fill="#dedde1"/><circle cx="333.9" cy="910.7" r="2.8" fill="#d9d3e3"/><circle cx="417.5" cy="848.6" r="2.8" fill="#dedde1"/><circle cx="257.0" cy="963.0" r="2.8" fill="#d7cee4"/><circle cx="336.9" cy="878.9" r="2.8" fill="#e8d5d1"/><circle cx="283.4" cy="920.1" r="2.8" fill="#e3dbd9"/><circle cx="323.8" cy="908.4" r="2.8" fill="#dddae1"/><circle cx="305.1" cy="934.1" r="2.8" fill="#d7cee4"/><circle cx="353.9" cy="890.5" r="2.8" fill="#dddae1"/><circle cx="321.4" cy="888.9" r="2.8" fill="#e7d6d1"/><circle cx="252.3" cy="936.3" r="2.8" fill="#e5dad7"/><circle cx="190.3" cy="948.8" r="2.8" fill="#efc8be"/><circle cx="413.4" cy="828.8" r="2.8" fill="#e9d3cd"/><circle cx="377.8" cy="864.8" r="2.8" fill="#e2dddb"/><circle cx="314.6" cy="907.4" r="2.8" fill="#e0e0e0"/><circle cx="327.0" cy="883.9" r="2.8" fill="#e8d5d0"/><circle cx="266.9" cy="942.4" r="2.8" fill="#dedbe1"/><circle cx="379.8" cy="858.0" r="2.8" fill="#e5d9d6"/><circle cx="399.9" cy="860.9" r="2.8" fill="#dedbe1"/><circle cx="347.4" cy="884.8" r="2.8" fill="#e2dedd"/><circle cx="238.1" cy="927.7" r="2.8" fill="#eccdc5"/><circle cx="197.1" cy="947.9" r="2.8" fill="#eecac1"/><circle cx="313.8" cy="919.2" r="2.8" fill="#dbd6e2"/><circle cx="269.1" cy="951.6" r="2.8" fill="#d9d1e3"/><circle cx="388.3" cy="871.5" r="2.8" fill="#dcd8e2"/><circle cx="200.4" cy="942.7" r="2.8" fill="#efc8be"/><circle cx="332.7" cy="904.3" r="2.8" fill="#ddd9e2"/><circle cx="205.8" cy="953.4" r="2.8" fill="#ead2cb"/><circle cx="253.7" cy="955.5" r="2.8" fill="#dbd6e2"/><circle cx="353.5" cy="894.6" r="2.8" fill="#dbd7e2"/><circle cx="385.5" cy="867.0" r="2.8" fill="#dfdee0"/><circle cx="235.3" cy="951.8" r="2.8" fill="#e2dddc"/><circle cx="253.6" cy="914.0" r="2.8" fill="#eecac1"/><circle cx="283.1" cy="944.4" r="2.8" fill="#d8d0e3"/><circle cx="253.7" cy="943.0" r="2.8" fill="#e1dfde"/><circle cx="243.0" cy="934.1" r="2.8" fill="#e8d4cf"/><circle cx="283.9" cy="950.3" r="2.8" fill="#d5cbe5"/><circle cx="324.8" cy="907.5" r="2.8" fill="#dddbe1"/><circle cx="237.3" cy="1000.8" r="2.8" fill="#cab7e9"/><circle cx="280.7" cy="956.3" r="2.8" fill="#d3c7e5"/><circle cx="360.5" cy="875.6" r="2.8" fill="#e2dddc"/><circle cx="241.9" cy="1004.0" r="2.8" fill="#c7b2ea"/><circle cx="285.7" cy="944.2" r="2.8" fill="#d7cfe4"/><circle cx="369.8" cy="886.2" r="2.8" fill="#dbd5e2"/><circle cx="308.6" cy="926.8" r="2.8" fill="#d9d2e3"/><circle cx="306.6" cy="888.7" r="2.8" fill="#ebcfc8"/><circle cx="394.6" cy="850.9" r="2.8" fill="#e4dad8"/><circle cx="346.4" cy="900.4" r="2.8" fill="#dbd5e2"/><circle cx="301.3" cy="922.0" r="2.8" fill="#dddae1"/><circle cx="259.8" cy="952.1" r="2.8" fill="#dbd6e2"/><circle cx="301.4" cy="910.7" r="2.8" fill="#e3dddb"/><circle cx="320.2" cy="914.9" r="2.8" fill="#dbd7e2"/><circle cx="314.2" cy="904.0" r="2.8" fill="#e2dddc"/><circle cx="357.5" cy="870.2" r="2.8" fill="#e6d8d5"/><circle cx="299.5" cy="937.4" r="2.8" fill="#d7cee4"/><circle cx="313.3" cy="912.3" r="2.8" fill="#dedde1"/><circle cx="330.1" cy="895.9" r="2.8" fill="#e1dede"/><circle cx="207.8" cy="952.5" r="2.8" fill="#ead2cc"/><circle cx="365.5" cy="902.0" r="2.8" fill="#d5c9e5"/><circle cx="287.7" cy="930.2" r="2.8" fill="#dddae1"/><circle cx="363.4" cy="900.7" r="2.8" fill="#d6cce4"/><circle cx="219.5" cy="952.6" r="2.8" fill="#e6d7d3"/><circle cx="216.9" cy="950.4" r="2.8" fill="#e8d4cf"/><circle cx="341.7" cy="879.9" r="2.8" fill="#e6d8d5"/><circle cx="223.1" cy="952.8" r="2.8" fill="#e5d9d5"/><circle cx="318.9" cy="892.7" r="2.8" fill="#e6d7d3"/><circle cx="320.2" cy="898.0" r="2.8" fill="#e3dcda"/><circle cx="330.3" cy="914.4" r="2.8" fill="#d9d1e3"/><circle cx="325.8" cy="908.7" r="2.8" fill="#ddd9e2"/><circle cx="338.3" cy="900.5" r="2.8" fill="#ddd9e1"/><circle cx="299.5" cy="910.2" r="2.8" fill="#e3dbd9"/><circle cx="236.8" cy="972.5" r="2.8" fill="#d8d0e3"/><circle cx="277.4" cy="957.8" r="2.8" fill="#d3c7e5"/><circle cx="226.8" cy="950.4" r="2.8" fill="#e5d9d5"/><circle cx="365.2" cy="872.9" r="2.8" fill="#e2dddc"/><circle cx="261.3" cy="940.0" r="2.8" fill="#e0e0e0"/><circle cx="388.8" cy="855.9" r="2.8" fill="#e3dbd9"/><circle cx="269.5" cy="959.0" r="2.8" fill="#d5cbe5"/><circle cx="247.7" cy="1005.5" r="2.8" fill="#c4adea"/><circle cx="323.9" cy="897.1" r="2.8" fill="#e3dddb"/><circle cx="290.5" cy="915.3" r="2.8" fill="#e4dbd9"/><circle cx="252.5" cy="925.7" r="2.8" fill="#ead2cc"/><circle cx="253.0" cy="968.9" r="2.8" fill="#d5cbe5"/><circle cx="382.6" cy="886.3" r="2.8" fill="#d7cee4"/><circle cx="378.1" cy="854.2" r="2.8" fill="#e7d6d1"/><circle cx="286.0" cy="928.9" r="2.8" fill="#dedde1"/><circle cx="267.0" cy="945.1" r="2.8" fill="#dcd8e2"/><circle cx="426.7" cy="835.9" r="2.8" fill="#e2dddc"/><circle cx="305.1" cy="920.5" r="2.8" fill="#dddae1"/><circle cx="277.5" cy="932.7" r="2.8" fill="#dfdee0"/><circle cx="290.8" cy="952.4" r="2.8" fill="#d2c5e6"/><circle cx="238.1" cy="919.9" r="2.8" fill="#efc8be"/><circle cx="272.7" cy="946.0" r="2.8" fill="#dad5e3"/><circle cx="349.3" cy="875.9" r="2.8" fill="#e5d9d5"/><circle cx="371.6" cy="890.0" r="2.8" fill="#d8d1e3"/><circle cx="251.8" cy="1006.8" r="2.8" fill="#c2aaeb"/><circle cx="228.8" cy="948.4" r="2.8" fill="#e6d8d4"/><circle cx="315.8" cy="911.5" r="2.8" fill="#dedce1"/><circle cx="411.3" cy="861.3" r="2.8" fill="#dad5e2"/><circle cx="224.3" cy="947.0" r="2.8" fill="#e8d5d0"/><circle cx="216.7" cy="938.0" r="2.8" fill="#edcbc3"/><circle cx="249.2" cy="980.4" r="2.8" fill="#d1c3e6"/><circle cx="305.6" cy="926.0" r="2.8" fill="#dad5e3"/><circle cx="388.4" cy="851.7" r="2.8" fill="#e6d8d5"/><circle cx="273.4" cy="957.7" r="2.8" fill="#d5cae5"/><circle cx="295.3" cy="910.7" r="2.8" fill="#e4dad7"/><circle cx="256.0" cy="931.7" r="2.8" fill="#e6d8d4"/><circle cx="266.8" cy="960.0" r="2.8" fill="#d5cbe5"/><circle cx="315.3" cy="923.0" r="2.8" fill="#d9d2e3"/><circle cx="199.8" cy="954.9" r="2.8" fill="#ebd0c9"/><circle cx="292.5" cy="938.3" r="2.8" fill="#d8d1e3"/><circle cx="332.0" cy="916.1" r="2.8" fill="#d7cfe4"/><circle cx="244.2" cy="969.4" r="2.8" fill="#d8cfe4"/><circle cx="257.6" cy="939.3" r="2.8" fill="#e2dedd"/><circle cx="293.2" cy="907.9" r="2.8" fill="#e6d7d3"/><circle cx="297.5" cy="919.8" r="2.8" fill="#dfdee0"/><circle cx="329.4" cy="885.3" r="2.8" fill="#e7d7d2"/><circle cx="251.0" cy="932.4" r="2.8" fill="#e7d6d2"/><circle cx="400.4" cy="854.9" r="2.8" fill="#e0e0df"/><circle cx="327.2" cy="896.3" r="2.8" fill="#e2dddc"/><circle cx="272.8" cy="947.9" r="2.8" fill="#d9d3e3"/><circle cx="254.8" cy="915.1" r="2.8" fill="#edccc3"/><circle cx="243.7" cy="1011.3" r="2.8" fill="#c3aaeb"/><circle cx="238.8" cy="947.6" r="2.8" fill="#e3dcda"/><circle cx="313.6" cy="895.3" r="2.8" fill="#e7d7d3"/><circle cx="261.7" cy="944.9" r="2.8" fill="#dedce1"/><circle cx="225.8" cy="927.2" r="2.8" fill="#efc8bd"/><circle cx="247.2" cy="995.5" r="2.8" fill="#cab6e9"/><circle cx="289.7" cy="908.5" r="2.8" fill="#e7d6d1"/><circle cx="369.4" cy="869.6" r="2.8" fill="#e2dddb"/><circle cx="387.3" cy="861.3" r="2.8" fill="#e1dede"/><circle cx="237.6" cy="942.5" r="2.8" fill="#e6d8d4"/><circle cx="231.3" cy="947.9" r="2.8" fill="#e5d9d5"/><circle cx="228.1" cy="950.8" r="2.8" fill="#e5d9d6"/><circle cx="336.4" cy="881.3" r="2.8" fill="#e7d7d3"/><circle cx="309.5" cy="910.2" r="2.8" fill="#e0e0df"/><circle cx="287.9" cy="924.1" r="2.8" fill="#e0e0e0"/><circle cx="397.4" cy="853.0" r="2.8" fill="#e2dddc"/><circle cx="299.5" cy="912.8" r="2.8" fill="#e2dddc"/><circle cx="243.2" cy="1011.3" r="2.8" fill="#c3aaeb"/><circle cx="214.2" cy="927.1" r="2.8" fill="#f2c3b6"/><circle cx="241.0" cy="946.6" r="2.8" fill="#e3dcda"/><circle cx="279.5" cy="942.2" r="2.8" fill="#dad4e3"/><circle cx="318.2" cy="915.2" r="2.8" fill="#dcd7e2"/><circle cx="273.0" cy="965.1" r="2.8" fill="#d1c3e6"/><circle cx="235.7" cy="938.5" r="2.8" fill="#e8d4cf"/><circle cx="298.6" cy="925.6" r="2.8" fill="#dcd9e2"/><circle cx="260.9" cy="983.0" r="2.8" fill="#ccbae8"/><circle cx="249.2" cy="947.9" r="2.8" fill="#e0e0e0"/><circle cx="240.8" cy="954.5" r="2.8" fill="#dfdee0"/><circle cx="236.2" cy="956.2" r="2.8" fill="#e0dfe0"/><circle cx="367.0" cy="873.1" r="2.8" fill="#e1dedd"/><circle cx="265.0" cy="920.7" r="2.8" fill="#e8d4cf"/><circle cx="419.8" cy="844.1" r="2.8" fill="#e0e0e0"/><circle cx="349.2" cy="902.7" r="2.8" fill="#d9d2e3"/><circle cx="380.6" cy="880.6" r="2.8" fill="#dad4e3"/><circle cx="255.3" cy="921.7" r="2.8" fill="#ebd1ca"/><circle cx="231.7" cy="939.4" r="2.8" fill="#e9d3cd"/><circle cx="396.1" cy="851.2" r="2.8" fill="#e4dbd9"/><circle cx="403.1" cy="866.7" r="2.8" fill="#dad5e3"/><circle cx="317.9" cy="921.3" r="2.8" fill="#d9d2e3"/><circle cx="282.4" cy="951.2" r="2.8" fill="#d5cbe5"/><circle cx="271.8" cy="912.9" r="2.8" fill="#ead1cb"/><circle cx="291.2" cy="935.7" r="2.8" fill="#dad4e3"/><circle cx="370.1" cy="876.2" r="2.8" fill="#dfdee0"/><circle cx="269.9" cy="929.2" r="2.8" fill="#e3dcda"/><circle cx="385.5" cy="858.8" r="2.8" fill="#e3dcda"/><circle cx="270.5" cy="962.5" r="2.8" fill="#d3c7e5"/><circle cx="302.5" cy="900.8" r="2.8" fill="#e7d6d2"/><circle cx="242.1" cy="975.4" r="2.8" fill="#d5cbe5"/><circle cx="316.6" cy="921.4" r="2.8" fill="#d9d3e3"/><circle cx="239.1" cy="953.4" r="2.8" fill="#e0e0e0"/><circle cx="210.3" cy="948.2" r="2.8" fill="#ebd0c9"/><circle cx="246.5" cy="948.0" r="2.8" fill="#e1dfdf"/><circle cx="258.6" cy="935.1" r="2.8" fill="#e3dbd9"/><circle cx="356.4" cy="886.3" r="2.8" fill="#dedce1"/><circle cx="257.2" cy="957.0" r="2.8" fill="#dad3e3"/><circle cx="202.9" cy="937.5" r="2.8" fill="#f1c5ba"/><circle cx="337.0" cy="905.5" r="2.8" fill="#dbd6e2"/><circle cx="320.7" cy="905.7" r="2.8" fill="#dfdee0"/><circle cx="338.5" cy="871.0" r="2.8" fill="#ebd1ca"/><circle cx="322.9" cy="885.1" r="2.8" fill="#e9d4ce"/><circle cx="275.1" cy="928.3" r="2.8" fill="#e2dedd"/><circle cx="263.2" cy="947.0" r="2.8" fill="#dcd9e2"/><circle cx="306.5" cy="926.3" r="2.8" fill="#dad4e3"/><circle cx="313.8" cy="914.7" r="2.8" fill="#dddae1"/><circle cx="373.5" cy="869.6" r="2.8" fill="#e1dede"/><circle cx="261.1" cy="997.8" r="2.8" fill="#c4adeb"/><circle cx="367.3" cy="878.5" r="2.8" fill="#dfdde1"/><circle cx="223.0" cy="946.4" r="2.8" fill="#e8d4cf"/><circle cx="254.3" cy="910.9" r="2.8" fill="#efc9be"/><circle cx="262.6" cy="975.5" r="2.8" fill="#cfc0e7"/><circle cx="207.6" cy="928.2" r="2.8" fill="#f3c1b4"/><circle cx="223.1" cy="939.7" r="2.8" fill="#ebcfc8"/><circle cx="383.4" cy="839.9" r="2.8" fill="#eccec6"/><circle cx="324.8" cy="916.2" r="2.8" fill="#d9d3e3"/><circle cx="290.1" cy="957.3" r="2.8" fill="#d0c1e7"/><circle cx="349.2" cy="902.3" r="2.8" fill="#d9d2e3"/><circle cx="273.4" cy="930.0" r="2.8" fill="#e1dedd"/><circle cx="256.7" cy="965.9" r="2.8" fill="#d6cbe4"/><circle cx="406.5" cy="843.6" r="2.8" fill="#e4dad8"/><circle cx="280.8" cy="909.0" r="2.8" fill="#e9d3cd"/><circle cx="294.9" cy="939.1" r="2.8" fill="#d7cfe4"/><circle cx="254.7" cy="950.7" r="2.8" fill="#dddae1"/><circle cx="393.3" cy="875.1" r="2.8" fill="#d9d2e3"/><circle cx="384.8" cy="869.1" r="2.8" fill="#dedce1"/><circle cx="284.6" cy="895.7" r="2.8" fill="#eecbc2"/><circle cx="218.4" cy="935.0" r="2.8" fill="#eecac1"/><circle cx="424.0" cy="840.9" r="2.8" fill="#e0e0e0"/><circle cx="309.0" cy="918.6" r="2.8" fill="#ddd9e1"/><circle cx="350.1" cy="892.0" r="2.8" fill="#dddbe1"/><circle cx="344.1" cy="899.9" r="2.8" fill="#dcd7e2"/><circle cx="311.7" cy="919.4" r="2.8" fill="#dcd7e2"/><circle cx="282.8" cy="977.6" r="2.8" fill="#c8b3e9"/><circle cx="336.5" cy="899.7" r="2.8" fill="#dedbe1"/><circle cx="243.2" cy="947.4" r="2.8" fill="#e2dddc"/><circle cx="290.3" cy="950.5" r="2.8" fill="#d3c7e5"/><circle cx="322.5" cy="903.8" r="2.8" fill="#e0dfe0"/><circle cx="327.4" cy="913.5" r="2.8" fill="#dad4e3"/><circle cx="302.5" cy="911.5" r="2.8" fill="#e2dedc"/><circle cx="409.6" cy="835.5" r="2.8" fill="#e7d6d2"/><circle cx="207.5" cy="935.5" r="2.8" fill="#f0c6bb"/><circle cx="383.6" cy="857.4" r="2.8" fill="#e4dad8"/><circle cx="268.9" cy="936.8" r="2.8" fill="#dfdfe0"/><circle cx="341.8" cy="889.7" r="2.8" fill="#e1dfde"/><circle cx="391.0" cy="856.9" r="2.8" fill="#e2dddc"/><circle cx="290.8" cy="950.7" r="2.8" fill="#d3c6e6"/><circle cx="324.8" cy="900.6" r="2.8" fill="#e0dfdf"/><circle cx="292.1" cy="937.3" r="2.8" fill="#d9d2e3"/><circle cx="366.2" cy="864.5" r="2.8" fill="#e6d8d4"/><circle cx="344.5" cy="904.9" r="2.8" fill="#d9d2e3"/><circle cx="281.1" cy="922.9" r="2.8" fill="#e3dcdb"/><circle cx="350.4" cy="875.8" r="2.8" fill="#e5d9d6"/><circle cx="295.6" cy="917.6" r="2.8" fill="#e1dfde"/><circle cx="251.6" cy="985.9" r="2.8" fill="#cdbce8"/><circle cx="375.4" cy="865.4" r="2.8" fill="#e3dcdb"/><circle cx="263.4" cy="980.5" r="2.8" fill="#ccbbe8"/><circle cx="346.2" cy="918.2" r="2.8" fill="#d2c5e6"/><circle cx="364.4" cy="867.7" r="2.8" fill="#e5d9d6"/><circle cx="245.2" cy="960.5" r="2.8" fill="#dbd7e2"/><circle cx="402.5" cy="860.8" r="2.8" fill="#dddae1"/><circle cx="204.8" cy="952.7" r="2.8" fill="#ead1ca"/><circle cx="260.7" cy="927.8" r="2.8" fill="#e6d7d3"/><circle cx="271.7" cy="957.3" r="2.8" fill="#d5cbe5"/><circle cx="252.0" cy="972.0" r="2.8" fill="#d4c9e5"/><circle cx="288.4" cy="922.1" r="2.8" fill="#e1dfde"/><circle cx="278.6" cy="962.8" r="2.8" fill="#d1c2e6"/><circle cx="315.3" cy="913.6" r="2.8" fill="#dddae1"/><circle cx="264.5" cy="948.1" r="2.8" fill="#dcd7e2"/><circle cx="419.8" cy="826.0" r="2.8" fill="#e9d4ce"/><circle cx="275.1" cy="925.8" r="2.8" fill="#e3dcda"/><circle cx="272.5" cy="929.3" r="2.8" fill="#e2dddc"/><circle cx="262.5" cy="921.7" r="2.8" fill="#e9d4ce"/><circle cx="305.4" cy="906.5" r="2.8" fill="#e4dbd9"/><circle cx="284.4" cy="933.1" r="2.8" fill="#dddae1"/><circle cx="229.2" cy="953.0" r="2.8" fill="#e3dbd9"/><circle cx="290.4" cy="935.6" r="2.8" fill="#dad4e3"/><circle cx="349.1" cy="889.6" r="2.8" fill="#dfdde1"/><circle cx="238.3" cy="991.6" r="2.8" fill="#cfbfe7"/><circle cx="400.3" cy="854.5" r="2.8" fill="#e1dfdf"/><circle cx="305.0" cy="907.1" r="2.8" fill="#e3dcd9"/><circle cx="220.3" cy="938.0" r="2.8" fill="#edcdc5"/><circle cx="290.0" cy="955.5" r="2.8" fill="#d1c3e6"/><circle cx="327.1" cy="889.2" r="2.8" fill="#e6d8d5"/><circle cx="255.6" cy="946.3" r="2.8" fill="#dfdee1"/><circle cx="187.5" cy="943.9" r="2.8" fill="#f2c3b7"/><circle cx="356.1" cy="890.5" r="2.8" fill="#dcd9e2"/><circle cx="240.7" cy="969.5" r="2.8" fill="#d8d1e3"/><circle cx="284.8" cy="961.0" r="2.8" fill="#d0c1e7"/><circle cx="239.2" cy="939.4" r="2.8" fill="#e7d6d2"/><circle cx="401.8" cy="861.0" r="2.8" fill="#dddae1"/><circle cx="276.8" cy="949.0" r="2.8" fill="#d8d0e4"/><circle cx="333.8" cy="891.2" r="2.8" fill="#e3dddb"/><circle cx="342.9" cy="892.8" r="2.8" fill="#dfdee0"/><circle cx="253.1" cy="967.3" r="2.8" fill="#d6cce4"/><circle cx="428.2" cy="844.2" r="2.8" fill="#dedbe1"/><circle cx="308.6" cy="903.1" r="2.8" fill="#e4dad8"/><circle cx="266.4" cy="991.5" r="2.8" fill="#c6afea"/><circle cx="424.1" cy="840.5" r="2.8" fill="#e0e0df"/><circle cx="262.2" cy="930.0" r="2.8" fill="#e5d9d6"/><circle cx="260.2" cy="945.4" r="2.8" fill="#dedce1"/><circle cx="382.1" cy="861.5" r="2.8" fill="#e3dcdb"/><circle cx="259.4" cy="959.3" r="2.8" fill="#d8d0e4"/><circle cx="317.6" cy="929.0" r="2.8" fill="#d6cbe5"/><circle cx="238.4" cy="948.3" r="2.8" fill="#e3dcda"/><circle cx="250.4" cy="935.8" r="2.8" fill="#e6d8d5"/><circle cx="234.2" cy="952.9" r="2.8" fill="#e2dddc"/><circle cx="199.3" cy="954.3" r="2.8" fill="#ebd0c8"/><circle cx="365.7" cy="879.2" r="2.8" fill="#dfdee1"/><circle cx="343.6" cy="891.0" r="2.8" fill="#e0dfe0"/><circle cx="330.0" cy="898.5" r="2.8" fill="#e0e0e0"/><circle cx="270.9" cy="932.6" r="2.8" fill="#e1dfde"/><circle cx="262.2" cy="948.7" r="2.8" fill="#dcd8e2"/><circle cx="333.2" cy="901.9" r="2.8" fill="#dedbe1"/><circle cx="237.3" cy="931.1" r="2.8" fill="#ebcfc8"/><circle cx="308.9" cy="937.2" r="2.8" fill="#d4c9e5"/><circle cx="248.9" cy="961.9" r="2.8" fill="#dad3e3"/><circle cx="366.3" cy="878.0" r="2.8" fill="#dfdee0"/><circle cx="359.4" cy="876.6" r="2.8" fill="#e2dddc"/><circle cx="357.6" cy="866.3" r="2.8" fill="#e8d5d1"/><circle cx="259.5" cy="929.7" r="2.8" fill="#e6d8d4"/><circle cx="382.2" cy="868.1" r="2.8" fill="#dfdfe0"/><circle cx="285.1" cy="937.4" r="2.8" fill="#dbd5e2"/><circle cx="297.3" cy="912.7" r="2.8" fill="#e3dcda"/><circle cx="305.5" cy="903.5" r="2.8" fill="#e5d9d6"/><circle cx="338.1" cy="898.5" r="2.8" fill="#dedbe1"/><circle cx="211.5" cy="937.8" r="2.8" fill="#efc9bf"/><circle cx="373.4" cy="879.7" r="2.8" fill="#ddd9e2"/><circle cx="261.2" cy="945.0" r="2.8" fill="#dedce1"/><circle cx="211.3" cy="954.8" r="2.8" fill="#e8d5d0"/><circle cx="366.1" cy="869.0" r="2.8" fill="#e4dbd9"/><circle cx="310.5" cy="920.2" r="2.8" fill="#dcd7e2"/><circle cx="191.5" cy="952.2" r="2.8" fill="#eecbc1"/><circle cx="240.3" cy="928.2" r="2.8" fill="#eccfc7"/><circle cx="400.9" cy="855.4" r="2.8" fill="#e0e0e0"/><circle cx="409.4" cy="852.1" r="2.8" fill="#dfdee0"/><circle cx="355.1" cy="878.3" r="2.8" fill="#e3dddb"/><circle cx="218.6" cy="930.3" r="2.8" fill="#f0c7bc"/><circle cx="286.1" cy="940.5" r="2.8" fill="#d9d2e3"/><circle cx="229.1" cy="947.9" r="2.8" fill="#e6d8d4"/><circle cx="426.6" cy="842.4" r="2.8" fill="#dfdde1"/><circle cx="274.2" cy="961.9" r="2.8" fill="#d2c6e6"/><circle cx="263.3" cy="986.3" r="2.8" fill="#cab6e9"/><circle cx="380.9" cy="870.6" r="2.8" fill="#dfdde1"/><circle cx="321.9" cy="911.3" r="2.8" fill="#dcd9e2"/><circle cx="242.8" cy="1001.2" r="2.8" fill="#c8b4e9"/><circle cx="427.2" cy="836.2" r="2.8" fill="#e2dedd"/><circle cx="360.6" cy="882.3" r="2.8" fill="#dfdee1"/><circle cx="242.3" cy="963.7" r="2.8" fill="#dbd5e2"/><circle cx="321.7" cy="883.0" r="2.8" fill="#ead2cb"/><circle cx="288.7" cy="941.5" r="2.8" fill="#d8d0e4"/><circle cx="389.4" cy="868.3" r="2.8" fill="#dddbe1"/><circle cx="239.6" cy="947.6" r="2.8" fill="#e3dcda"/><circle cx="268.9" cy="963.5" r="2.8" fill="#d3c7e5"/><circle cx="370.7" cy="876.4" r="2.8" fill="#dfdee1"/><circle cx="312.5" cy="918.5" r="2.8" fill="#dcd7e2"/><circle cx="275.0" cy="927.1" r="2.8" fill="#e2dddb"/><circle cx="385.6" cy="856.9" r="2.8" fill="#e4dbd8"/><circle cx="362.6" cy="861.3" r="2.8" fill="#e8d4cf"/><circle cx="421.4" cy="847.4" r="2.8" fill="#dedce1"/><circle cx="297.4" cy="894.0" r="2.8" fill="#ebcfc8"/><circle cx="190.9" cy="950.7" r="2.8" fill="#efc9c0"/><circle cx="227.4" cy="941.2" r="2.8" fill="#e9d2cc"/><circle cx="329.6" cy="877.1" r="2.8" fill="#ead1ca"/><circle cx="247.7" cy="995.0" r="2.8" fill="#cab6e9"/><circle cx="427.3" cy="839.3" r="2.8" fill="#e0e0e0"/><circle cx="266.0" cy="945.9" r="2.8" fill="#dcd8e2"/><circle cx="357.0" cy="887.6" r="2.8" fill="#dedbe1"/><circle cx="409.4" cy="857.1" r="2.8" fill="#dddae1"/><circle cx="431.8" cy="840.6" r="2.8" fill="#dedce1"/><circle cx="269.6" cy="916.6" r="2.8" fill="#e9d3cd"/><circle cx="261.1" cy="952.9" r="2.8" fill="#dad5e3"/><circle cx="264.5" cy="952.7" r="2.8" fill="#dad3e3"/><circle cx="304.2" cy="918.8" r="2.8" fill="#dedce1"/><circle cx="247.7" cy="955.5" r="2.8" fill="#dddae1"/><circle cx="400.3" cy="850.7" r="2.8" fill="#e3dddb"/><circle cx="254.5" cy="962.4" r="2.8" fill="#d8d0e4"/><circle cx="238.1" cy="933.3" r="2.8" fill="#ead1cb"/><circle cx="254.0" cy="949.7" r="2.8" fill="#dedbe1"/><circle cx="255.3" cy="957.3" r="2.8" fill="#dad4e3"/><circle cx="322.3" cy="908.2" r="2.8" fill="#dedbe1"/><circle cx="336.4" cy="916.6" r="2.8" fill="#d6cce4"/><circle cx="263.0" cy="921.0" r="2.8" fill="#e9d3ce"/><circle cx="332.1" cy="901.2" r="2.8" fill="#dedce1"/><circle cx="241.6" cy="966.8" r="2.8" fill="#d9d3e3"/><circle cx="296.7" cy="939.9" r="2.8" fill="#d6cde4"/><circle cx="280.9" cy="988.1" r="2.8" fill="#c3abeb"/><circle cx="366.2" cy="878.5" r="2.8" fill="#dfdee0"/><circle cx="272.7" cy="923.2" r="2.8" fill="#e5d9d6"/><circle cx="236.3" cy="967.8" r="2.8" fill="#dad5e2"/><circle cx="257.3" cy="946.1" r="2.8" fill="#dedde1"/><circle cx="310.0" cy="909.9" r="2.8" fill="#e0e0df"/><circle cx="262.8" cy="996.4" r="2.8" fill="#c4adea"/><circle cx="261.8" cy="957.2" r="2.8" fill="#d8d0e3"/><circle cx="296.9" cy="933.0" r="2.8" fill="#dad3e3"/><circle cx="241.3" cy="970.4" r="2.8" fill="#d8d0e4"/><circle cx="316.2" cy="927.1" r="2.8" fill="#d7cee4"/><circle cx="402.2" cy="848.4" r="2.8" fill="#e3dcda"/><circle cx="329.0" cy="910.8" r="2.8" fill="#dbd5e2"/><circle cx="190.3" cy="949.0" r="2.8" fill="#efc8be"/><circle cx="374.9" cy="860.3" r="2.8" fill="#e5d9d5"/><circle cx="410.8" cy="848.4" r="2.8" fill="#e0dfdf"/><circle cx="365.4" cy="880.9" r="2.8" fill="#dedce1"/><circle cx="199.2" cy="951.6" r="2.8" fill="#eccec6"/><circle cx="412.6" cy="841.0" r="2.8" fill="#e4dbd9"/><circle cx="256.6" cy="940.8" r="2.8" fill="#e1dede"/><circle cx="365.1" cy="887.9" r="2.8" fill="#dbd6e2"/><circle cx="411.5" cy="848.9" r="2.8" fill="#e0e0e0"/><circle cx="324.9" cy="916.2" r="2.8" fill="#d9d3e3"/><circle cx="272.9" cy="943.5" r="2.8" fill="#dbd7e2"/><circle cx="361.9" cy="875.6" r="2.8" fill="#e2dedd"/><circle cx="295.8" cy="908.9" r="2.8" fill="#e5d9d6"/><circle cx="249.9" cy="949.8" r="2.8" fill="#dfdee1"/><circle cx="298.5" cy="914.5" r="2.8" fill="#e2dedd"/><circle cx="257.1" cy="968.5" r="2.8" fill="#d4c9e5"/><circle cx="419.3" cy="856.5" r="2.8" fill="#dad5e2"/><circle cx="291.9" cy="929.4" r="2.8" fill="#ddd9e2"/><circle cx="384.3" cy="872.7" r="2.8" fill="#ddd9e1"/><circle cx="217.2" cy="948.2" r="2.8" fill="#e9d3cd"/><circle cx="239.2" cy="978.7" r="2.8" fill="#d5cae5"/><circle cx="340.9" cy="883.8" r="2.8" fill="#e4dad8"/><circle cx="282.8" cy="977.6" r="2.8" fill="#c8b3e9"/><circle cx="282.2" cy="928.3" r="2.8" fill="#e0dfe0"/><circle cx="262.6" cy="937.5" r="2.8" fill="#e1dfde"/><circle cx="227.2" cy="935.9" r="2.8" fill="#eccfc7"/><circle cx="239.9" cy="959.2" r="2.8" fill="#dddbe1"/><circle cx="412.0" cy="855.9" r="2.8" fill="#ddd9e1"/><circle cx="289.8" cy="918.8" r="2.8" fill="#e2dddc"/><circle cx="271.5" cy="957.3" r="2.8" fill="#d5cbe5"/><circle cx="236.9" cy="943.7" r="2.8" fill="#e6d8d5"/><circle cx="349.8" cy="891.7" r="2.8" fill="#dedbe1"/><circle cx="263.8" cy="959.2" r="2.8" fill="#d7cee4"/><circle cx="317.4" cy="908.8" r="2.8" fill="#dfdee1"/><circle cx="380.7" cy="871.3" r="2.8" fill="#dedde1"/><circle cx="395.1" cy="854.1" r="2.8" fill="#e2dddb"/><circle cx="406.8" cy="860.3" r="2.8" fill="#dcd8e2"/><circle cx="259.6" cy="939.0" r="2.8" fill="#e1dfde"/><circle cx="398.2" cy="859.2" r="2.8" fill="#dfdee0"/><circle cx="280.9" cy="903.8" r="2.8" fill="#ebcfc8"/><circle cx="278.6" cy="950.0" r="2.8" fill="#d7cee4"/><circle cx="372.7" cy="879.0" r="2.8" fill="#dddae1"/><circle cx="258.0" cy="935.7" r="2.8" fill="#e3dbd9"/><circle cx="219.9" cy="949.6" r="2.8" fill="#e8d5d0"/><circle cx="336.6" cy="898.9" r="2.8" fill="#dedce1"/><circle cx="341.7" cy="901.3" r="2.8" fill="#dcd7e2"/><circle cx="340.9" cy="902.8" r="2.8" fill="#dbd6e2"/><circle cx="318.3" cy="892.8" r="2.8" fill="#e6d7d3"/><circle cx="234.9" cy="940.4" r="2.8" fill="#e8d5d0"/><circle cx="228.3" cy="930.2" r="2.8" fill="#eecbc2"/><circle cx="274.6" cy="939.3" r="2.8" fill="#dddae1"/><circle cx="251.6" cy="998.8" r="2.8" fill="#c7b1ea"/><circle cx="359.8" cy="878.4" r="2.8" fill="#e1dfde"/><circle cx="341.0" cy="889.9" r="2.8" fill="#e1dfde"/><circle cx="391.1" cy="856.2" r="2.8" fill="#e3dddb"/><circle cx="419.9" cy="839.7" r="2.8" fill="#e2dddc"/><circle cx="339.6" cy="894.8" r="2.8" fill="#dfdee0"/><circle cx="257.1" cy="1003.5" r="2.8" fill="#c2aaeb"/><circle cx="287.6" cy="919.8" r="2.8" fill="#e2dddc"/><circle cx="286.8" cy="918.6" r="2.8" fill="#e3dcda"/><circle cx="263.5" cy="968.5" r="2.8" fill="#d2c5e6"/><circle cx="257.0" cy="956.2" r="2.8" fill="#dad4e3"/><circle cx="302.5" cy="901.8" r="2.8" fill="#e7d7d3"/><circle cx="300.0" cy="907.1" r="2.8" fill="#e5d9d6"/><circle cx="270.1" cy="942.0" r="2.8" fill="#ddd9e1"/><circle cx="247.4" cy="945.7" r="2.8" fill="#e2dedd"/><circle cx="361.5" cy="877.0" r="2.8" fill="#e1dede"/><circle cx="346.2" cy="884.1" r="2.8" fill="#e2dddc"/><circle cx="274.8" cy="983.5" r="2.8" fill="#c7b2ea"/><circle cx="246.7" cy="983.5" r="2.8" fill="#d0c1e7"/><circle cx="289.1" cy="903.3" r="2.8" fill="#ead2cc"/><circle cx="341.6" cy="894.2" r="2.8" fill="#dfdde1"/><circle cx="258.7" cy="962.1" r="2.8" fill="#d7cee4"/><circle cx="371.5" cy="878.4" r="2.8" fill="#dedbe1"/><circle cx="279.3" cy="929.3" r="2.8" fill="#e0e0e0"/><circle cx="394.0" cy="858.0" r="2.8" fill="#e1dfdf"/><circle cx="246.0" cy="964.0" r="2.8" fill="#dad3e3"/><circle cx="253.8" cy="954.2" r="2.8" fill="#dcd7e2"/><circle cx="310.4" cy="901.5" r="2.8" fill="#e4dad7"/><circle cx="261.7" cy="935.0" r="2.8" fill="#e3dddb"/><circle cx="278.2" cy="906.0" r="2.8" fill="#ebcfc8"/><circle cx="239.2" cy="952.6" r="2.8" fill="#e1dfdf"/><circle cx="258.9" cy="942.6" r="2.8" fill="#e0dfe0"/><circle cx="320.9" cy="907.9" r="2.8" fill="#dedce1"/><circle cx="280.2" cy="951.2" r="2.8" fill="#d6cce4"/><circle cx="351.2" cy="875.1" r="2.8" fill="#e5d9d6"/><circle cx="333.3" cy="918.4" r="2.8" fill="#d6cce4"/><circle cx="263.1" cy="979.5" r="2.8" fill="#cdbce8"/><circle cx="238.1" cy="963.7" r="2.8" fill="#dcd8e2"/><circle cx="310.5" cy="901.0" r="2.8" fill="#e5dad7"/><circle cx="355.3" cy="898.7" r="2.8" fill="#d9d2e3"/><circle cx="307.5" cy="908.6" r="2.8" fill="#e2dedd"/><circle cx="242.7" cy="955.1" r="2.8" fill="#dedde1"/><circle cx="267.4" cy="943.4" r="2.8" fill="#dddae1"/><circle cx="265.5" cy="949.2" r="2.8" fill="#dbd6e2"/><circle cx="293.8" cy="915.4" r="2.8" fill="#e3dddb"/><circle cx="256.0" cy="941.0" r="2.8" fill="#e1dede"/><circle cx="242.2" cy="961.6" r="2.8" fill="#dcd7e2"/><circle cx="369.3" cy="862.5" r="2.8" fill="#e6d8d4"/><circle cx="238.0" cy="950.3" r="2.8" fill="#e2dddc"/><circle cx="264.1" cy="954.7" r="2.8" fill="#d9d1e3"/><circle cx="231.7" cy="950.8" r="2.8" fill="#e4dbd9"/><circle cx="301.9" cy="914.8" r="2.8" fill="#e0e0df"/><circle cx="263.8" cy="934.8" r="2.8" fill="#e2dddc"/><circle cx="324.1" cy="924.9" r="2.8" fill="#d6cbe4"/><circle cx="302.7" cy="919.1" r="2.8" fill="#dedce1"/><circle cx="274.2" cy="931.3" r="2.8" fill="#e1dfdf"/><circle cx="319.6" cy="888.4" r="2.8" fill="#e8d5d0"/><circle cx="345.3" cy="882.0" r="2.8" fill="#e4dbd9"/><circle cx="351.0" cy="881.1" r="2.8" fill="#e2dddc"/><circle cx="268.1" cy="970.2" r="2.8" fill="#d0c1e7"/><circle cx="416.6" cy="826.9" r="2.8" fill="#e9d3cd"/><circle cx="254.7" cy="934.6" r="2.8" fill="#e5d9d6"/><circle cx="258.8" cy="955.0" r="2.8" fill="#dad4e3"/><circle cx="248.9" cy="944.5" r="2.8" fill="#e2dedd"/><circle cx="269.1" cy="925.8" r="2.8" fill="#e5d9d6"/><circle cx="412.4" cy="853.1" r="2.8" fill="#dedce1"/><circle cx="275.6" cy="920.3" r="2.8" fill="#e6d8d5"/><circle cx="258.8" cy="928.8" r="2.8" fill="#e6d7d3"/><circle cx="294.2" cy="939.6" r="2.8" fill="#d7cfe4"/><circle cx="382.9" cy="865.5" r="2.8" fill="#e0e0df"/><circle cx="262.7" cy="956.9" r="2.8" fill="#d8d0e3"/><circle cx="411.8" cy="847.9" r="2.8" fill="#e0e0df"/><circle cx="342.5" cy="873.6" r="2.8" fill="#e8d4cf"/><circle cx="280.4" cy="935.1" r="2.8" fill="#dddae1"/><circle cx="257.2" cy="958.6" r="2.8" fill="#d9d2e3"/><circle cx="396.8" cy="858.7" r="2.8" fill="#e0dfe0"/><circle cx="330.8" cy="899.3" r="2.8" fill="#dfdfe0"/><circle cx="249.2" cy="941.3" r="2.8" fill="#e3dcda"/><circle cx="274.9" cy="932.5" r="2.8" fill="#e0dfe0"/><circle cx="344.8" cy="901.4" r="2.8" fill="#dbd5e2"/><circle cx="319.2" cy="899.0" r="2.8" fill="#e3dcda"/><circle cx="260.8" cy="917.1" r="2.8" fill="#ebd0c9"/><circle cx="251.3" cy="939.6" r="2.8" fill="#e3dbd9"/><circle cx="259.7" cy="992.7" r="2.8" fill="#c7b2ea"/><circle cx="337.7" cy="897.1" r="2.8" fill="#dedde1"/><circle cx="301.0" cy="936.9" r="2.8" fill="#d7cde4"/><circle cx="308.4" cy="894.7" r="2.8" fill="#e8d4cf"/><circle cx="331.9" cy="893.4" r="2.8" fill="#e2dddc"/><circle cx="236.1" cy="939.9" r="2.8" fill="#e8d5d0"/><circle cx="283.9" cy="935.8" r="2.8" fill="#dcd8e2"/><circle cx="299.9" cy="917.8" r="2.8" fill="#e0dfe0"/><circle cx="196.9" cy="950.3" r="2.8" fill="#edccc3"/><circle cx="373.1" cy="869.3" r="2.8" fill="#e1dedd"/><circle cx="280.2" cy="956.8" r="2.8" fill="#d3c7e5"/><circle cx="247.5" cy="944.1" r="2.8" fill="#e2dddb"/><circle cx="293.9" cy="960.5" r="2.8" fill="#cdbce8"/><circle cx="256.1" cy="975.0" r="2.8" fill="#d1c4e6"/><circle cx="316.9" cy="908.9" r="2.8" fill="#dfdee1"/><circle cx="275.4" cy="921.4" r="2.8" fill="#e5d9d6"/><circle cx="228.1" cy="935.1" r="2.8" fill="#eccec7"/><circle cx="350.5" cy="881.4" r="2.8" fill="#e2dddb"/><circle cx="397.8" cy="856.8" r="2.8" fill="#e0e0e0"/><circle cx="268.8" cy="913.0" r="2.8" fill="#ebd0c9"/><circle cx="246.8" cy="939.6" r="2.8" fill="#e5d9d7"/><circle cx="275.9" cy="924.9" r="2.8" fill="#e3dcda"/><circle cx="289.1" cy="910.0" r="2.8" fill="#e7d7d3"/><circle cx="348.8" cy="896.3" r="2.8" fill="#dcd8e2"/><circle cx="313.8" cy="895.4" r="2.8" fill="#e6d7d3"/><circle cx="416.5" cy="855.6" r="2.8" fill="#dcd7e2"/><circle cx="391.9" cy="848.7" r="2.8" fill="#e6d8d4"/><circle cx="287.5" cy="917.3" r="2.8" fill="#e4dbd9"/><circle cx="288.7" cy="937.2" r="2.8" fill="#dad4e3"/><circle cx="364.0" cy="874.3" r="2.8" fill="#e2dedd"/><circle cx="274.1" cy="932.1" r="2.8" fill="#e0e0e0"/><circle cx="271.1" cy="959.7" r="2.8" fill="#d4c9e5"/><circle cx="280.3" cy="950.4" r="2.8" fill="#d6cce4"/><circle cx="273.3" cy="924.6" r="2.8" fill="#e4dad8"/><circle cx="314.0" cy="904.2" r="2.8" fill="#e2dddc"/><circle cx="311.5" cy="903.2" r="2.8" fill="#e3dcda"/><circle cx="393.1" cy="848.3" r="2.8" fill="#e6d8d4"/><circle cx="274.5" cy="942.5" r="2.8" fill="#dbd7e2"/><circle cx="254.6" cy="988.9" r="2.8" fill="#cbb8e8"/><circle cx="365.3" cy="887.3" r="2.8" fill="#dbd7e2"/><circle cx="266.6" cy="945.9" r="2.8" fill="#dcd8e2"/><circle cx="335.4" cy="870.5" r="2.8" fill="#eccfc7"/><circle cx="314.9" cy="885.7" r="2.8" fill="#ead1ca"/><circle cx="348.6" cy="893.0" r="2.8" fill="#dddbe1"/><circle cx="269.4" cy="936.4" r="2.8" fill="#dfdfe0"/><circle cx="310.6" cy="918.6" r="2.8" fill="#dcd8e2"/><circle cx="238.9" cy="952.5" r="2.8" fill="#e1dfdf"/><circle cx="261.1" cy="979.7" r="2.8" fill="#cebde7"/><circle cx="355.3" cy="880.5" r="2.8" fill="#e1dede"/><circle cx="359.6" cy="899.3" r="2.8" fill="#d7cfe4"/><circle cx="320.1" cy="898.2" r="2.8" fill="#e3dcda"/><circle cx="407.7" cy="834.2" r="2.8" fill="#e8d4cf"/><circle cx="370.1" cy="874.6" r="2.8" fill="#e0dfe0"/><circle cx="361.7" cy="903.4" r="2.8" fill="#d5cae5"/><circle cx="300.2" cy="928.5" r="2.8" fill="#dbd5e2"/><circle cx="250.3" cy="913.2" r="2.8" fill="#efc8be"/><circle cx="203.0" cy="952.4" r="2.8" fill="#ebd0c9"/><circle cx="349.9" cy="890.0" r="2.8" fill="#dedde1"/><circle cx="258.1" cy="942.9" r="2.8" fill="#e0dfe0"/><circle cx="246.7" cy="940.3" r="2.8" fill="#e4dad7"/><circle cx="328.0" cy="907.0" r="2.8" fill="#ddd9e1"/><circle cx="273.3" cy="954.8" r="2.8" fill="#d6cce4"/><circle cx="357.1" cy="879.3" r="2.8" fill="#e1dedd"/><circle cx="279.1" cy="939.7" r="2.8" fill="#dbd7e2"/><circle cx="344.5" cy="882.6" r="2.8" fill="#e4dbd9"/><circle cx="366.0" cy="868.0" r="2.8" fill="#e4dad8"/><circle cx="279.6" cy="926.5" r="2.8" fill="#e1dedd"/><circle cx="260.3" cy="961.0" r="2.8" fill="#d7cee4"/><circle cx="347.3" cy="869.9" r="2.8" fill="#e9d3ce"/><circle cx="293.1" cy="909.4" r="2.8" fill="#e6d8d5"/><circle cx="336.9" cy="907.1" r="2.8" fill="#dad4e3"/><circle cx="210.9" cy="938.6" r="2.8" fill="#eec9c0"/><circle cx="251.0" cy="934.0" r="2.8" fill="#e6d7d3"/><circle cx="313.8" cy="903.4" r="2.8" fill="#e3dddb"/><circle cx="255.9" cy="918.5" r="2.8" fill="#eccfc7"/><circle cx="289.8" cy="936.0" r="2.8" fill="#dad4e3"/><circle cx="192.3" cy="953.7" r="2.8" fill="#edccc4"/><circle cx="264.7" cy="943.6" r="2.8" fill="#dedbe1"/><circle cx="322.4" cy="924.8" r="2.8" fill="#d6cce4"/><circle cx="317.9" cy="942.3" r="2.8" fill="#cfbfe7"/><circle cx="238.0" cy="950.3" r="2.8" fill="#e2dddc"/><circle cx="323.0" cy="912.6" r="2.8" fill="#dcd7e2"/><circle cx="279.6" cy="917.8" r="2.8" fill="#e6d8d5"/><circle cx="352.0" cy="870.8" r="2.8" fill="#e7d6d2"/><circle cx="407.0" cy="862.5" r="2.8" fill="#dbd6e2"/><circle cx="383.2" cy="866.6" r="2.8" fill="#e0dfe0"/><circle cx="387.7" cy="870.5" r="2.8" fill="#dddae1"/><circle cx="245.3" cy="958.3" r="2.8" fill="#dcd8e2"/><circle cx="308.9" cy="919.3" r="2.8" fill="#dcd9e2"/><circle cx="311.3" cy="924.3" r="2.8" fill="#dad3e3"/><circle cx="395.6" cy="856.4" r="2.8" fill="#e1dfde"/><circle cx="316.8" cy="921.6" r="2.8" fill="#d9d2e3"/><circle cx="255.3" cy="943.6" r="2.8" fill="#e0e0e0"/><circle cx="433.4" cy="851.8" r="2.8" fill="#d9d1e3"/><circle cx="274.2" cy="929.8" r="2.8" fill="#e1dedd"/><circle cx="307.6" cy="912.4" r="2.8" fill="#e0e0e0"/><circle cx="293.1" cy="932.4" r="2.8" fill="#dbd6e2"/><circle cx="340.4" cy="896.6" r="2.8" fill="#dedce1"/><circle cx="253.5" cy="924.0" r="2.8" fill="#ead1cb"/><circle cx="345.4" cy="872.9" r="2.8" fill="#e8d5d0"/><circle cx="209.3" cy="944.9" r="2.8" fill="#eccdc5"/><circle cx="287.5" cy="957.5" r="2.8" fill="#d1c2e6"/><circle cx="429.2" cy="854.0" r="2.8" fill="#d9d2e3"/><circle cx="377.3" cy="876.0" r="2.8" fill="#dddae1"/><circle cx="336.7" cy="887.3" r="2.8" fill="#e4dbd9"/><circle cx="247.4" cy="948.8" r="2.8" fill="#e0e0e0"/><circle cx="267.1" cy="928.0" r="2.8" fill="#e4dad7"/><circle cx="394.3" cy="855.8" r="2.8" fill="#e2dedd"/><circle cx="270.4" cy="949.6" r="2.8" fill="#d9d3e3"/><circle cx="286.8" cy="932.3" r="2.8" fill="#ddd9e2"/><circle cx="385.7" cy="877.3" r="2.8" fill="#dad4e3"/><circle cx="286.3" cy="935.6" r="2.8" fill="#dbd6e2"/><circle cx="353.7" cy="872.4" r="2.8" fill="#e6d8d4"/><circle cx="287.5" cy="923.3" r="2.8" fill="#e0dfdf"/><circle cx="287.5" cy="910.9" r="2.8" fill="#e7d7d3"/><circle cx="304.3" cy="911.5" r="2.8" fill="#e1dedd"/><circle cx="265.6" cy="920.1" r="2.8" fill="#e9d4ce"/><circle cx="299.2" cy="898.5" r="2.8" fill="#e9d3cd"/><circle cx="409.5" cy="846.5" r="2.8" fill="#e2dedd"/><circle cx="275.4" cy="934.0" r="2.8" fill="#dfdee0"/><circle cx="227.4" cy="943.4" r="2.8" fill="#e8d4cf"/><circle cx="385.9" cy="879.8" r="2.8" fill="#d9d2e3"/><circle cx="344.2" cy="894.1" r="2.8" fill="#dedce1"/><circle cx="252.8" cy="949.9" r="2.8" fill="#dedce1"/><circle cx="245.4" cy="955.0" r="2.8" fill="#dedbe1"/><circle cx="369.0" cy="880.6" r="2.8" fill="#dddbe1"/><circle cx="352.5" cy="886.1" r="2.8" fill="#dfdfe0"/><circle cx="251.5" cy="970.4" r="2.8" fill="#d5cae5"/><circle cx="438.5" cy="843.3" r="2.8" fill="#dbd6e2"/><circle cx="313.8" cy="921.4" r="2.8" fill="#dad4e3"/><circle cx="275.7" cy="936.8" r="2.8" fill="#dedbe1"/><circle cx="269.7" cy="983.1" r="2.8" fill="#c9b5e9"/><circle cx="315.8" cy="928.1" r="2.8" fill="#d6cde4"/><circle cx="276.7" cy="922.9" r="2.8" fill="#e4dad8"/><circle cx="308.0" cy="950.5" r="2.8" fill="#cebde7"/><circle cx="336.6" cy="899.7" r="2.8" fill="#dedbe1"/><circle cx="249.1" cy="933.7" r="2.8" fill="#e7d6d2"/><circle cx="228.6" cy="933.7" r="2.8" fill="#eccec6"/><circle cx="239.2" cy="929.8" r="2.8" fill="#ebcfc8"/><circle cx="303.9" cy="926.2" r="2.8" fill="#dbd5e2"/><circle cx="438.6" cy="838.5" r="2.8" fill="#dddae1"/><circle cx="244.3" cy="936.1" r="2.8" fill="#e7d6d2"/><circle cx="335.0" cy="915.6" r="2.8" fill="#d7cee4"/><circle cx="219.7" cy="945.7" r="2.8" fill="#ead2cc"/><circle cx="275.2" cy="952.6" r="2.8" fill="#d7cde4"/><circle cx="324.8" cy="894.9" r="2.8" fill="#e3dbd9"/><circle cx="383.1" cy="853.0" r="2.8" fill="#e7d7d3"/><circle cx="430.2" cy="843.8" r="2.8" fill="#dddae1"/><circle cx="245.2" cy="968.1" r="2.8" fill="#d8d0e4"/><circle cx="223.1" cy="931.9" r="2.8" fill="#eecac0"/><circle cx="377.2" cy="877.9" r="2.8" fill="#dcd9e2"/><circle cx="237.9" cy="943.3" r="2.8" fill="#e6d8d5"/><circle cx="269.2" cy="945.2" r="2.8" fill="#dcd7e2"/><circle cx="197.4" cy="953.3" r="2.8" fill="#eccec6"/><circle cx="398.0" cy="867.5" r="2.8" fill="#dbd7e2"/><circle cx="315.7" cy="891.9" r="2.8" fill="#e7d5d1"/><circle cx="272.1" cy="966.8" r="2.8" fill="#d1c2e6"/><circle cx="278.8" cy="930.6" r="2.8" fill="#e0dfe0"/><circle cx="428.8" cy="836.0" r="2.8" fill="#e1dede"/><circle cx="247.5" cy="962.2" r="2.8" fill="#dad4e3"/><circle cx="369.9" cy="875.2" r="2.8" fill="#e0dfe0"/><circle cx="279.8" cy="933.6" r="2.8" fill="#dedce1"/><circle cx="316.2" cy="906.1" r="2.8" fill="#e0e0df"/><circle cx="254.8" cy="950.1" r="2.8" fill="#dddbe1"/><circle cx="299.9" cy="940.7" r="2.8" fill="#d5cae5"/><circle cx="276.9" cy="938.7" r="2.8" fill="#dcd9e2"/><circle cx="367.7" cy="870.5" r="2.8" fill="#e3dddb"/><circle cx="275.1" cy="933.0" r="2.8" fill="#dfdfe0"/><circle cx="419.4" cy="848.9" r="2.8" fill="#dedce1"/><circle cx="336.6" cy="900.1" r="2.8" fill="#dddbe1"/><circle cx="299.1" cy="910.9" r="2.8" fill="#e3dcda"/><circle cx="329.2" cy="893.2" r="2.8" fill="#e3dcda"/><circle cx="300.2" cy="914.8" r="2.8" fill="#e1dfde"/><circle cx="257.6" cy="927.2" r="2.8" fill="#e8d5d1"/><circle cx="384.3" cy="858.6" r="2.8" fill="#e4dbd9"/><circle cx="399.4" cy="844.1" r="2.8" fill="#e6d8d4"/><circle cx="235.9" cy="968.1" r="2.8" fill="#dad5e2"/><circle cx="323.6" cy="908.9" r="2.8" fill="#dddae1"/><circle cx="345.0" cy="900.1" r="2.8" fill="#dbd6e2"/><circle cx="299.0" cy="920.9" r="2.8" fill="#dedde1"/><circle cx="287.0" cy="930.0" r="2.8" fill="#dedbe1"/><circle cx="410.7" cy="847.5" r="2.8" fill="#e1dfde"/><circle cx="283.8" cy="915.7" r="2.8" fill="#e5d9d5"/><circle cx="340.0" cy="891.3" r="2.8" fill="#e0dfdf"/><circle cx="278.6" cy="940.8" r="2.8" fill="#dbd6e2"/><circle cx="390.2" cy="870.9" r="2.8" fill="#dcd8e2"/><circle cx="327.7" cy="914.2" r="2.8" fill="#dad3e3"/><circle cx="241.3" cy="938.8" r="2.8" fill="#e7d7d2"/><circle cx="230.6" cy="946.6" r="2.8" fill="#e6d7d4"/><circle cx="240.7" cy="992.8" r="2.8" fill="#cdbce8"/><circle cx="246.9" cy="983.1" r="2.8" fill="#d0c1e7"/><circle cx="318.1" cy="916.6" r="2.8" fill="#dbd6e2"/><circle cx="299.3" cy="914.4" r="2.8" fill="#e1dedd"/><circle cx="416.6" cy="841.7" r="2.8" fill="#e2dddc"/><circle cx="292.5" cy="916.9" r="2.8" fill="#e2dddc"/><circle cx="391.0" cy="863.8" r="2.8" fill="#dfdee1"/><circle cx="363.3" cy="859.2" r="2.8" fill="#e9d3cd"/><circle cx="244.3" cy="990.8" r="2.8" fill="#cdbce8"/><circle cx="301.3" cy="926.3" r="2.8" fill="#dbd7e2"/><circle cx="191.1" cy="951.6" r="2.8" fill="#eecac1"/><circle cx="274.1" cy="950.8" r="2.8" fill="#d8cfe4"/><circle cx="338.8" cy="894.7" r="2.8" fill="#dfdee0"/><circle cx="245.2" cy="978.4" r="2.8" fill="#d3c6e5"/><circle cx="287.8" cy="952.6" r="2.8" fill="#d3c6e6"/><circle cx="312.8" cy="926.6" r="2.8" fill="#d8d0e3"/><circle cx="258.3" cy="928.6" r="2.8" fill="#e7d7d3"/><circle cx="365.8" cy="865.7" r="2.8" fill="#e5d8d5"/><circle cx="409.8" cy="851.1" r="2.8" fill="#dfdfe0"/><circle cx="369.3" cy="864.6" r="2.8" fill="#e5d9d6"/><circle cx="315.5" cy="907.4" r="2.8" fill="#e0e0e0"/><circle cx="339.4" cy="912.0" r="2.8" fill="#d7cfe4"/><circle cx="240.1" cy="938.9" r="2.8" fill="#e7d6d2"/><circle cx="408.4" cy="846.8" r="2.8" fill="#e2dddc"/><circle cx="230.5" cy="947.5" r="2.8" fill="#e6d8d5"/><circle cx="243.1" cy="980.3" r="2.8" fill="#d3c6e6"/><circle cx="390.7" cy="844.2" r="2.8" fill="#e8d4cf"/><circle cx="374.7" cy="861.9" r="2.8" fill="#e5dad7"/><circle cx="339.4" cy="893.3" r="2.8" fill="#e0dfe0"/><circle cx="329.3" cy="898.0" r="2.8" fill="#e0dfdf"/><circle cx="253.6" cy="946.8" r="2.8" fill="#dfdee0"/><circle cx="304.5" cy="917.1" r="2.8" fill="#dfdde1"/><circle cx="266.8" cy="935.6" r="2.8" fill="#e1dfdf"/><circle cx="411.0" cy="853.3" r="2.8" fill="#dedce1"/><circle cx="215.3" cy="955.3" r="2.8" fill="#e6d7d3"/><circle cx="280.5" cy="935.3" r="2.8" fill="#dddae1"/><circle cx="221.2" cy="938.4" r="2.8" fill="#eccec6"/><circle cx="318.0" cy="942.3" r="2.8" fill="#cfbfe7"/><circle cx="273.5" cy="941.1" r="2.8" fill="#dcd8e2"/><circle cx="228.4" cy="948.3" r="2.8" fill="#e6d8d4"/><circle cx="405.1" cy="843.6" r="2.8" fill="#e5dad7"/><circle cx="342.9" cy="882.1" r="2.8" fill="#e4dad8"/><circle cx="391.8" cy="862.6" r="2.8" fill="#dfdee0"/><circle cx="381.5" cy="876.1" r="2.8" fill="#dcd8e2"/><circle cx="413.9" cy="848.0" r="2.8" fill="#e0dfe0"/><circle cx="358.4" cy="899.8" r="2.8" fill="#d8cfe4"/><circle cx="240.6" cy="959.9" r="2.8" fill="#dddae1"/><circle cx="252.0" cy="935.2" r="2.8" fill="#e5d9d5"/><circle cx="300.1" cy="909.7" r="2.8" fill="#e4dbd9"/><circle cx="282.8" cy="939.0" r="2.8" fill="#dbd5e2"/><circle cx="273.5" cy="974.7" r="2.8" fill="#ccbbe8"/><circle cx="335.8" cy="918.3" r="2.8" fill="#d5cbe5"/><circle cx="263.4" cy="964.6" r="2.8" fill="#d4c9e5"/><circle cx="433.6" cy="839.5" r="2.8" fill="#dedce1"/><circle cx="337.1" cy="869.6" r="2.8" fill="#ebcfc8"/><circle cx="266.2" cy="939.6" r="2.8" fill="#dfdee0"/><circle cx="289.3" cy="937.9" r="2.8" fill="#d9d3e3"/><circle cx="335.0" cy="903.4" r="2.8" fill="#dcd9e2"/><circle cx="294.3" cy="913.5" r="2.8" fill="#e3dbd9"/><circle cx="402.8" cy="845.0" r="2.8" fill="#e5dad7"/><circle cx="328.6" cy="887.1" r="2.8" fill="#e6d8d4"/><circle cx="309.6" cy="909.3" r="2.8" fill="#e1dfdf"/><circle cx="303.5" cy="903.2" r="2.8" fill="#e6d8d5"/><circle cx="301.4" cy="890.0" r="2.8" fill="#eccec6"/><circle cx="413.2" cy="851.7" r="2.8" fill="#dedce1"/><circle cx="266.8" cy="963.9" r="2.8" fill="#d4c8e5"/><circle cx="230.5" cy="945.9" r="2.8" fill="#e7d7d3"/><circle cx="263.9" cy="946.1" r="2.8" fill="#ddd9e2"/><circle cx="238.5" cy="966.7" r="2.8" fill="#dad5e3"/><circle cx="405.0" cy="833.9" r="2.8" fill="#e9d3cd"/><circle cx="333.9" cy="887.1" r="2.8" fill="#e5dad7"/><circle cx="263.6" cy="954.0" r="2.8" fill="#d9d2e3"/><circle cx="368.6" cy="887.5" r="2.8" fill="#dad5e3"/><circle cx="303.5" cy="922.7" r="2.8" fill="#dcd9e2"/><circle cx="402.5" cy="856.9" r="2.8" fill="#dfdee1"/><circle cx="325.6" cy="919.8" r="2.8" fill="#d8cfe4"/><circle cx="262.8" cy="943.5" r="2.8" fill="#dedce1"/><circle cx="250.0" cy="929.2" r="2.8" fill="#e9d4ce"/><circle cx="351.4" cy="880.9" r="2.8" fill="#e2dddc"/><circle cx="288.5" cy="908.2" r="2.8" fill="#e8d5d1"/><circle cx="295.1" cy="922.0" r="2.8" fill="#dfdee0"/><circle cx="240.8" cy="961.4" r="2.8" fill="#dcd8e2"/><circle cx="257.4" cy="914.7" r="2.8" fill="#edcdc4"/><circle cx="388.6" cy="857.6" r="2.8" fill="#e3dcdb"/><circle cx="398.8" cy="858.8" r="2.8" fill="#dfdee0"/><circle cx="320.0" cy="912.7" r="2.8" fill="#dcd9e2"/><circle cx="228.7" cy="953.3" r="2.8" fill="#e3dbd9"/><circle cx="400.9" cy="844.0" r="2.8" fill="#e6d8d5"/><circle cx="362.6" cy="900.8" r="2.8" fill="#d6cce4"/><circle cx="395.8" cy="849.9" r="2.8" fill="#e4dad8"/><circle cx="333.0" cy="883.8" r="2.8" fill="#e6d7d3"/><circle cx="370.2" cy="866.7" r="2.8" fill="#e4dbd9"/><circle cx="231.7" cy="949.2" r="2.8" fill="#e5dad7"/><circle cx="338.4" cy="895.1" r="2.8" fill="#dfdee0"/><circle cx="252.2" cy="980.3" r="2.8" fill="#d0c1e7"/><circle cx="258.1" cy="939.8" r="2.8" fill="#e1dede"/><circle cx="420.2" cy="844.2" r="2.8" fill="#e0dfe0"/><circle cx="260.5" cy="944.2" r="2.8" fill="#dedde1"/><circle cx="267.8" cy="954.7" r="2.8" fill="#d8cfe4"/><circle cx="370.6" cy="871.9" r="2.8" fill="#e1dfde"/><circle cx="290.3" cy="908.3" r="2.8" fill="#e7d6d2"/><circle cx="293.2" cy="918.0" r="2.8" fill="#e1dedd"/><circle cx="247.7" cy="928.9" r="2.8" fill="#e9d2cc"/><circle cx="336.7" cy="896.0" r="2.8" fill="#dfdee0"/><circle cx="389.4" cy="860.7" r="2.8" fill="#e1dfdf"/><circle cx="404.7" cy="863.1" r="2.8" fill="#dbd7e2"/><circle cx="287.3" cy="929.5" r="2.8" fill="#dedbe1"/><circle cx="283.6" cy="914.4" r="2.8" fill="#e6d8d4"/><circle cx="329.4" cy="896.2" r="2.8" fill="#e1dedd"/><circle cx="379.0" cy="872.9" r="2.8" fill="#dedce1"/><circle cx="410.7" cy="843.4" r="2.8" fill="#e3dcda"/><circle cx="251.5" cy="962.7" r="2.8" fill="#d9d1e3"/><circle cx="311.2" cy="913.1" r="2.8" fill="#dfdde1"/><circle cx="343.0" cy="878.3" r="2.8" fill="#e6d7d4"/><circle cx="251.7" cy="931.0" r="2.8" fill="#e7d6d1"/><circle cx="276.5" cy="924.3" r="2.8" fill="#e3dbd9"/><circle cx="421.3" cy="857.0" r="2.8" fill="#dad3e3"/><circle cx="418.1" cy="840.4" r="2.8" fill="#e2dddc"/><circle cx="334.5" cy="916.6" r="2.8" fill="#d7cde4"/><circle cx="229.5" cy="954.1" r="2.8" fill="#e3dcdb"/><circle cx="356.7" cy="894.8" r="2.8" fill="#dad5e3"/><circle cx="257.6" cy="935.3" r="2.8" fill="#e4dbd9"/><circle cx="238.4" cy="950.6" r="2.8" fill="#e2dedd"/><circle cx="308.8" cy="902.4" r="2.8" fill="#e5dad7"/><circle cx="299.5" cy="944.3" r="2.8" fill="#d4c7e5"/><circle cx="352.8" cy="884.5" r="2.8" fill="#e0e0e0"/><circle cx="271.8" cy="921.2" r="2.8" fill="#e6d7d3"/><circle cx="183.7" cy="954.0" r="2.8" fill="#efc9bf"/><circle cx="300.9" cy="897.0" r="2.8" fill="#e9d3cd"/><circle cx="261.0" cy="944.7" r="2.8" fill="#dedce1"/><circle cx="288.2" cy="932.2" r="2.8" fill="#dcd8e2"/><circle cx="274.6" cy="993.5" r="2.8" fill="#c2a9eb"/><circle cx="331.3" cy="889.9" r="2.8" fill="#e4dbd8"/><circle cx="305.2" cy="931.8" r="2.8" fill="#d8d0e4"/><circle cx="419.8" cy="848.8" r="2.8" fill="#dedbe1"/><circle cx="292.1" cy="891.3" r="2.8" fill="#eecbc2"/><circle cx="323.6" cy="913.5" r="2.8" fill="#dbd6e2"/><circle cx="413.9" cy="845.1" r="2.8" fill="#e1dede"/><circle cx="407.2" cy="841.3" r="2.8" fill="#e5d9d6"/><circle cx="255.7" cy="931.8" r="2.8" fill="#e6d8d4"/><circle cx="301.2" cy="924.3" r="2.8" fill="#dcd8e2"/><circle cx="349.4" cy="887.5" r="2.8" fill="#e0dfe0"/><circle cx="314.1" cy="896.1" r="2.8" fill="#e6d8d4"/><circle cx="237.5" cy="956.6" r="2.8" fill="#dfdee0"/><circle cx="364.2" cy="883.6" r="2.8" fill="#dddbe1"/><circle cx="262.2" cy="947.3" r="2.8" fill="#ddd9e2"/><circle cx="326.7" cy="899.4" r="2.8" fill="#e1dfdf"/><circle cx="273.1" cy="944.9" r="2.8" fill="#dbd5e2"/><circle cx="253.1" cy="937.3" r="2.8" fill="#e4dbd8"/><circle cx="384.7" cy="875.4" r="2.8" fill="#dbd7e2"/><circle cx="283.9" cy="917.2" r="2.8" fill="#e5dad7"/><circle cx="301.2" cy="930.2" r="2.8" fill="#dad3e3"/><circle cx="415.9" cy="851.2" r="2.8" fill="#dedbe1"/><circle cx="182.7" cy="954.9" r="2.8" fill="#efc9bf"/><circle cx="271.0" cy="964.6" r="2.8" fill="#d2c5e6"/><circle cx="236.8" cy="930.0" r="2.8" fill="#eccec7"/><circle cx="391.2" cy="877.8" r="2.8" fill="#d9d1e3"/><circle cx="365.9" cy="892.9" r="2.8" fill="#d9d1e3"/><circle cx="410.0" cy="850.5" r="2.8" fill="#e0dfe0"/><circle cx="307.1" cy="882.4" r="2.8" fill="#eecbc2"/><circle cx="312.7" cy="912.0" r="2.8" fill="#dfdde1"/><circle cx="300.5" cy="932.6" r="2.8" fill="#d9d1e3"/><circle cx="264.9" cy="922.8" r="2.8" fill="#e7d5d1"/><circle cx="297.1" cy="909.5" r="2.8" fill="#e5dad7"/><circle cx="381.4" cy="857.0" r="2.8" fill="#e5d9d6"/><circle cx="268.6" cy="939.5" r="2.8" fill="#dedde1"/><circle cx="262.8" cy="954.5" r="2.8" fill="#d9d2e3"/><circle cx="243.3" cy="934.2" r="2.8" fill="#e8d4cf"/><circle cx="357.0" cy="875.7" r="2.8" fill="#e3dcda"/><circle cx="299.4" cy="923.2" r="2.8" fill="#dddae1"/><circle cx="287.0" cy="928.6" r="2.8" fill="#dedce1"/><circle cx="275.2" cy="957.4" r="2.8" fill="#d4c9e5"/><circle cx="272.7" cy="904.5" r="2.8" fill="#edccc3"/><circle cx="250.3" cy="981.6" r="2.8" fill="#d0c1e7"/><circle cx="368.6" cy="865.4" r="2.8" fill="#e5d9d6"/><circle cx="183.3" cy="949.3" r="2.8" fill="#f1c5ba"/><circle cx="359.9" cy="878.7" r="2.8" fill="#e1dfdf"/><circle cx="217.0" cy="942.5" r="2.8" fill="#eccfc7"/><circle cx="379.5" cy="866.1" r="2.8" fill="#e1dfde"/><circle cx="268.0" cy="962.4" r="2.8" fill="#d4c8e5"/><circle cx="270.4" cy="932.6" r="2.8" fill="#e1dfde"/><circle cx="267.9" cy="988.6" r="2.8" fill="#c7b1ea"/><circle cx="342.8" cy="890.5" r="2.8" fill="#e0e0e0"/><circle cx="295.4" cy="897.9" r="2.8" fill="#ead1ca"/><circle cx="245.7" cy="967.9" r="2.8" fill="#d8d0e4"/><circle cx="281.0" cy="959.6" r="2.8" fill="#d2c4e6"/><circle cx="327.1" cy="894.3" r="2.8" fill="#e3dcda"/><circle cx="266.5" cy="933.8" r="2.8" fill="#e2dedd"/><circle cx="335.2" cy="898.0" r="2.8" fill="#dfdee1"/><circle cx="272.3" cy="933.9" r="2.8" fill="#e0e0e0"/><circle cx="246.1" cy="969.9" r="2.8" fill="#d7cee4"/><circle cx="301.0" cy="950.0" r="2.8" fill="#d0c2e6"/><circle cx="408.7" cy="855.2" r="2.8" fill="#dedce1"/><circle cx="403.5" cy="843.9" r="2.8" fill="#e5d9d6"/><circle cx="276.9" cy="920.2" r="2.8" fill="#e5d9d5"/><circle cx="365.7" cy="872.4" r="2.8" fill="#e2dddc"/><circle cx="409.4" cy="852.3" r="2.8" fill="#dfdee0"/><circle cx="255.2" cy="952.7" r="2.8" fill="#dcd8e2"/><circle cx="247.4" cy="954.1" r="2.8" fill="#dedbe1"/><circle cx="252.2" cy="974.2" r="2.8" fill="#d3c6e5"/><circle cx="272.3" cy="944.6" r="2.8" fill="#dbd6e2"/><circle cx="431.0" cy="835.9" r="2.8" fill="#e1dfdf"/><circle cx="372.4" cy="868.4" r="2.8" fill="#e2dddc"/><circle cx="372.7" cy="868.6" r="2.8" fill="#e2dddc"/><circle cx="232.6" cy="942.8" r="2.8" fill="#e7d6d1"/><circle cx="430.7" cy="835.3" r="2.8" fill="#e1dfde"/><circle cx="326.3" cy="917.4" r="2.8" fill="#d8d1e3"/><circle cx="350.5" cy="885.1" r="2.8" fill="#e0dfdf"/><circle cx="298.0" cy="943.4" r="2.8" fill="#d4c9e5"/><circle cx="313.3" cy="926.6" r="2.8" fill="#d8d0e4"/><circle cx="240.3" cy="948.5" r="2.8" fill="#e2dddc"/><circle cx="343.8" cy="879.3" r="2.8" fill="#e5d9d5"/><circle cx="363.7" cy="869.9" r="2.8" fill="#e4dad8"/><circle cx="387.1" cy="857.7" r="2.8" fill="#e3dcda"/><circle cx="312.4" cy="919.6" r="2.8" fill="#dbd6e2"/><circle cx="288.3" cy="946.1" r="2.8" fill="#d6cce4"/><circle cx="338.1" cy="925.3" r="2.8" fill="#d1c4e6"/><circle cx="236.2" cy="965.3" r="2.8" fill="#dcd7e2"/><circle cx="249.5" cy="957.7" r="2.8" fill="#dbd7e2"/><circle cx="316.3" cy="902.6" r="2.8" fill="#e2dddc"/><circle cx="254.0" cy="939.4" r="2.8" fill="#e3dcdb"/><circle cx="390.2" cy="856.9" r="2.8" fill="#e3dddb"/><circle cx="331.7" cy="902.7" r="2.8" fill="#dedbe1"/><circle cx="416.8" cy="832.6" r="2.8" fill="#e6d7d3"/><circle cx="239.7" cy="970.1" r="2.8" fill="#d8d1e3"/><circle cx="238.5" cy="939.8" r="2.8" fill="#e7d6d2"/><circle cx="308.0" cy="917.7" r="2.8" fill="#dddbe1"/><circle cx="254.4" cy="1010.2" r="2.8" fill="#c0a5ec"/><circle cx="267.5" cy="970.7" r="2.8" fill="#d0c1e7"/><circle cx="288.0" cy="950.6" r="2.8" fill="#d4c8e5"/><circle cx="329.4" cy="890.6" r="2.8" fill="#e4dad8"/><circle cx="250.3" cy="953.9" r="2.8" fill="#dddae1"/><circle cx="278.6" cy="974.7" r="2.8" fill="#cbb8e8"/><circle cx="258.0" cy="910.4" r="2.8" fill="#eecac0"/><circle cx="378.5" cy="865.2" r="2.8" fill="#e2dddc"/><circle cx="244.1" cy="975.5" r="2.8" fill="#d5cae5"/><circle cx="379.9" cy="882.2" r="2.8" fill="#dad3e3"/><circle cx="279.3" cy="953.5" r="2.8" fill="#d5cae5"/><circle cx="330.1" cy="909.5" r="2.8" fill="#dbd6e2"/><circle cx="275.9" cy="938.4" r="2.8" fill="#dddae1"/><circle cx="315.7" cy="901.1" r="2.8" fill="#e3dcda"/><circle cx="286.3" cy="928.4" r="2.8" fill="#dedde1"/><circle cx="390.8" cy="861.6" r="2.8" fill="#e0e0e0"/><circle cx="350.3" cy="882.0" r="2.8" fill="#e2dddc"/><circle cx="294.4" cy="911.3" r="2.8" fill="#e4dad7"/><circle cx="316.6" cy="921.2" r="2.8" fill="#d9d3e3"/><circle cx="325.0" cy="915.5" r="2.8" fill="#dad3e3"/><circle cx="210.6" cy="952.7" r="2.8" fill="#e9d3ce"/><circle cx="389.4" cy="863.9" r="2.8" fill="#dfdee0"/><circle cx="262.1" cy="946.7" r="2.8" fill="#dddae1"/><circle cx="257.3" cy="917.8" r="2.8" fill="#eccfc7"/><circle cx="191.8" cy="950.3" r="2.8" fill="#eecac0"/><circle cx="346.0" cy="876.7" r="2.8" fill="#e6d8d4"/><circle cx="280.5" cy="875.2" r="2.8" fill="#f5bbab"/><circle cx="276.9" cy="987.9" r="2.8" fill="#c4adea"/><circle cx="312.2" cy="904.8" r="2.8" fill="#e2dddc"/><circle cx="222.3" cy="943.6" r="2.8" fill="#ead2cc"/><circle cx="430.9" cy="844.3" r="2.8" fill="#ddd9e1"/><circle cx="241.4" cy="962.2" r="2.8" fill="#dcd7e2"/><circle cx="309.2" cy="908.5" r="2.8" fill="#e1dede"/><circle cx="258.1" cy="944.7" r="2.8" fill="#dfdee1"/><circle cx="321.0" cy="915.0" r="2.8" fill="#dbd6e2"/><circle cx="265.2" cy="915.9" r="2.8" fill="#ead1ca"/><circle cx="246.1" cy="959.7" r="2.8" fill="#dbd7e2"/><circle cx="384.9" cy="882.2" r="2.8" fill="#d8d1e3"/><circle cx="265.3" cy="938.8" r="2.8" fill="#e0dfe0"/><circle cx="345.8" cy="884.4" r="2.8" fill="#e2dddc"/><circle cx="416.6" cy="841.0" r="2.8" fill="#e2dddb"/><circle cx="356.1" cy="902.8" r="2.8" fill="#d7cee4"/><circle cx="273.6" cy="937.6" r="2.8" fill="#dedce1"/><circle cx="422.4" cy="851.3" r="2.8" fill="#dcd8e2"/><circle cx="395.6" cy="863.6" r="2.8" fill="#dedbe1"/><circle cx="285.2" cy="931.0" r="2.8" fill="#dedbe1"/><circle cx="347.0" cy="893.7" r="2.8" fill="#dedbe1"/><circle cx="319.9" cy="898.7" r="2.8" fill="#e3dcda"/><circle cx="325.9" cy="914.2" r="2.8" fill="#dad4e3"/><circle cx="339.8" cy="889.7" r="2.8" fill="#e1dedd"/><circle cx="231.4" cy="952.4" r="2.8" fill="#e3dcda"/><circle cx="266.4" cy="944.8" r="2.8" fill="#ddd9e2"/><circle cx="254.1" cy="1006.3" r="2.8" fill="#c2a9eb"/><circle cx="355.3" cy="899.4" r="2.8" fill="#d9d1e3"/><circle cx="325.0" cy="889.4" r="2.8" fill="#e6d8d4"/><circle cx="253.0" cy="945.4" r="2.8" fill="#e0e0e0"/><circle cx="310.1" cy="922.2" r="2.8" fill="#dbd5e2"/><circle cx="312.0" cy="927.8" r="2.8" fill="#d8cfe4"/><circle cx="277.0" cy="987.7" r="2.8" fill="#c4adea"/><circle cx="281.8" cy="969.0" r="2.8" fill="#cdbbe8"/><circle cx="275.3" cy="940.2" r="2.8" fill="#dcd8e2"/><circle cx="323.8" cy="913.5" r="2.8" fill="#dbd6e2"/><circle cx="259.7" cy="970.3" r="2.8" fill="#d3c6e6"/><circle cx="242.3" cy="965.1" r="2.8" fill="#dad4e3"/><circle cx="391.0" cy="861.2" r="2.8" fill="#e0e0e0"/><circle cx="354.1" cy="907.3" r="2.8" fill="#d5cbe5"/><circle cx="263.7" cy="953.7" r="2.8" fill="#d9d3e3"/><circle cx="285.8" cy="931.8" r="2.8" fill="#dddae1"/><circle cx="433.2" cy="843.5" r="2.8" fill="#ddd9e2"/><circle cx="375.2" cy="861.3" r="2.8" fill="#e5d9d6"/><circle cx="404.7" cy="864.3" r="2.8" fill="#dbd6e2"/><circle cx="254.7" cy="952.4" r="2.8" fill="#dcd9e2"/><circle cx="393.6" cy="866.7" r="2.8" fill="#dddae1"/><circle cx="296.1" cy="895.7" r="2.8" fill="#ebd0c9"/><circle cx="209.0" cy="944.0" r="2.8" fill="#edccc4"/><circle cx="285.6" cy="932.3" r="2.8" fill="#dddae1"/><circle cx="318.0" cy="912.7" r="2.8" fill="#dddae1"/><circle cx="230.8" cy="933.1" r="2.8" fill="#eccec6"/><circle cx="266.8" cy="975.0" r="2.8" fill="#cebee7"/><circle cx="256.2" cy="952.6" r="2.8" fill="#dcd8e2"/><circle cx="394.4" cy="849.4" r="2.8" fill="#e5d9d6"/><circle cx="295.4" cy="922.0" r="2.8" fill="#dfdee1"/><circle cx="245.6" cy="950.9" r="2.8" fill="#dfdfe0"/><circle cx="421.6" cy="844.4" r="2.8" fill="#dfdee0"/><circle cx="400.0" cy="865.4" r="2.8" fill="#dcd7e2"/><circle cx="357.9" cy="877.4" r="2.8" fill="#e2dddc"/><circle cx="249.4" cy="1003.7" r="2.8" fill="#c5aeea"/><circle cx="242.0" cy="969.7" r="2.8" fill="#d8d0e4"/><circle cx="322.4" cy="897.5" r="2.8" fill="#e3dcda"/><circle cx="291.4" cy="893.4" r="2.8" fill="#edccc4"/><circle cx="378.0" cy="857.3" r="2.8" fill="#e6d8d4"/><circle cx="317.8" cy="912.2" r="2.8" fill="#dddae1"/><circle cx="238.7" cy="954.7" r="2.8" fill="#e0dfe0"/><circle cx="269.4" cy="949.7" r="2.8" fill="#dad3e3"/><circle cx="265.3" cy="975.4" r="2.8" fill="#cebee7"/><circle cx="266.0" cy="967.0" r="2.8" fill="#d2c5e6"/><circle cx="249.3" cy="937.4" r="2.8" fill="#e5d9d6"/><circle cx="294.3" cy="927.5" r="2.8" fill="#ddd9e1"/><circle cx="234.3" cy="949.1" r="2.8" fill="#e4dbd9"/><circle cx="377.4" cy="874.3" r="2.8" fill="#dedce1"/><circle cx="241.2" cy="955.9" r="2.8" fill="#dedde1"/><circle cx="384.1" cy="866.9" r="2.8" fill="#dfdfe0"/><circle cx="279.6" cy="932.6" r="2.8" fill="#dedde1"/><circle cx="266.8" cy="953.2" r="2.8" fill="#d9d1e3"/><circle cx="237.5" cy="937.1" r="2.8" fill="#e9d4ce"/><circle cx="403.1" cy="855.0" r="2.8" fill="#e0dfe0"/><circle cx="381.9" cy="866.0" r="2.8" fill="#e0dfdf"/><circle cx="327.3" cy="910.5" r="2.8" fill="#dbd7e2"/><circle cx="387.1" cy="865.4" r="2.8" fill="#dfdee0"/><circle cx="354.4" cy="879.4" r="2.8" fill="#e2dddc"/><circle cx="249.1" cy="932.4" r="2.8" fill="#e8d5d1"/><circle cx="377.2" cy="858.9" r="2.8" fill="#e5d9d5"/><circle cx="290.0" cy="922.1" r="2.8" fill="#e0e0df"/><circle cx="245.6" cy="1010.6" r="2.8" fill="#c2aaeb"/><circle cx="340.6" cy="881.6" r="2.8" fill="#e5d9d6"/><circle cx="242.3" cy="949.4" r="2.8" fill="#e1dede"/><circle cx="315.9" cy="905.5" r="2.8" fill="#e1dfdf"/><circle cx="306.9" cy="911.9" r="2.8" fill="#e0e0e0"/><circle cx="241.8" cy="937.3" r="2.8" fill="#e7d6d1"/><circle cx="260.6" cy="1003.8" r="2.8" fill="#c1a8eb"/><circle cx="245.2" cy="939.1" r="2.8" fill="#e5d8d5"/><circle cx="236.0" cy="923.4" r="2.8" fill="#eec9c0"/><circle cx="345.6" cy="909.6" r="2.8" fill="#d7cde4"/><circle cx="311.9" cy="908.2" r="2.8" fill="#e1dfdf"/><circle cx="365.1" cy="894.2" r="2.8" fill="#d8d1e3"/><circle cx="423.1" cy="845.9" r="2.8" fill="#dedce1"/><circle cx="382.4" cy="869.2" r="2.8" fill="#dfdee1"/><circle cx="233.1" cy="950.5" r="2.8" fill="#e4dbd9"/><circle cx="319.0" cy="915.7" r="2.8" fill="#dbd6e2"/><circle cx="269.4" cy="955.9" r="2.8" fill="#d7cde4"/><circle cx="318.0" cy="907.3" r="2.8" fill="#dfdfe0"/><circle cx="303.4" cy="940.8" r="2.8" fill="#d4c8e5"/><circle cx="375.7" cy="893.7" r="2.8" fill="#d6cbe5"/><circle cx="299.9" cy="906.6" r="2.8" fill="#e5d9d6"/><circle cx="329.2" cy="908.7" r="2.8" fill="#dcd7e2"/><circle cx="347.4" cy="905.2" r="2.8" fill="#d8d0e3"/><circle cx="241.3" cy="951.3" r="2.8" fill="#e1dfdf"/><circle cx="280.2" cy="929.3" r="2.8" fill="#e0dfe0"/><circle cx="272.1" cy="928.7" r="2.8" fill="#e3dddb"/><circle cx="264.5" cy="961.7" r="2.8" fill="#d5cbe5"/><circle cx="380.5" cy="849.8" r="2.8" fill="#e9d4ce"/><circle cx="245.6" cy="957.8" r="2.8" fill="#dcd9e2"/><circle cx="359.7" cy="868.0" r="2.8" fill="#e6d7d4"/><circle cx="252.3" cy="949.9" r="2.8" fill="#dedce1"/><circle cx="222.6" cy="928.1" r="2.8" fill="#f0c7bc"/><circle cx="230.5" cy="946.6" r="2.8" fill="#e6d7d4"/><circle cx="253.2" cy="944.3" r="2.8" fill="#e0dfdf"/><circle cx="301.9" cy="918.3" r="2.8" fill="#dfdde1"/><circle cx="321.7" cy="909.8" r="2.8" fill="#dddae1"/><circle cx="324.2" cy="894.9" r="2.8" fill="#e4dbd9"/><circle cx="375.2" cy="885.0" r="2.8" fill="#dad3e3"/><circle cx="374.6" cy="876.6" r="2.8" fill="#dedbe1"/><circle cx="395.1" cy="855.2" r="2.8" fill="#e2dddc"/><circle cx="294.2" cy="937.5" r="2.8" fill="#d8d0e3"/><circle cx="336.2" cy="891.4" r="2.8" fill="#e2dedd"/><circle cx="256.5" cy="951.1" r="2.8" fill="#dcd9e2"/><circle cx="327.2" cy="898.4" r="2.8" fill="#e1dfde"/><circle cx="294.8" cy="908.3" r="2.8" fill="#e6d8d4"/><circle cx="307.2" cy="903.5" r="2.8" fill="#e4dad7"/><circle cx="264.7" cy="939.8" r="2.8" fill="#dfdee0"/><circle cx="259.8" cy="1004.7" r="2.8" fill="#c1a7eb"/><circle cx="254.0" cy="974.1" r="2.8" fill="#d2c6e6"/><circle cx="244.8" cy="944.0" r="2.8" fill="#e3dcda"/><circle cx="351.6" cy="890.4" r="2.8" fill="#dedbe1"/><circle cx="311.9" cy="904.8" r="2.8" fill="#e2dddb"/><circle cx="288.6" cy="926.0" r="2.8" fill="#dfdee1"/><circle cx="296.7" cy="887.7" r="2.8" fill="#eecac1"/><circle cx="216.7" cy="948.9" r="2.8" fill="#e9d3ce"/><circle cx="288.3" cy="921.2" r="2.8" fill="#e1dedd"/><circle cx="419.4" cy="854.0" r="2.8" fill="#dcd7e2"/><circle cx="248.8" cy="963.9" r="2.8" fill="#d9d1e3"/><circle cx="205.8" cy="947.9" r="2.8" fill="#eccec6"/><circle cx="249.4" cy="947.9" r="2.8" fill="#e0e0e0"/><circle cx="395.7" cy="870.9" r="2.8" fill="#dad5e2"/><circle cx="352.0" cy="886.1" r="2.8" fill="#e0dfe0"/><circle cx="268.9" cy="920.6" r="2.8" fill="#e7d6d1"/><circle cx="295.1" cy="910.0" r="2.8" fill="#e5d9d6"/><circle cx="238.4" cy="948.9" r="2.8" fill="#e3dcdb"/><circle cx="357.8" cy="899.3" r="2.8" fill="#d8d0e4"/><circle cx="280.9" cy="965.8" r="2.8" fill="#cebee7"/><circle cx="333.6" cy="901.8" r="2.8" fill="#dedbe1"/><circle cx="255.5" cy="929.2" r="2.8" fill="#e7d6d1"/><circle cx="421.6" cy="847.3" r="2.8" fill="#dedce1"/><circle cx="244.2" cy="955.8" r="2.8" fill="#dedbe1"/><circle cx="427.7" cy="830.3" r="2.8" fill="#e4dad7"/><circle cx="333.6" cy="916.8" r="2.8" fill="#d7cde4"/><circle cx="269.0" cy="902.1" r="2.8" fill="#efc9bf"/><circle cx="230.7" cy="928.0" r="2.8" fill="#eecac1"/><circle cx="315.7" cy="907.1" r="2.8" fill="#e0e0e0"/><circle cx="374.3" cy="869.5" r="2.8" fill="#e1dfde"/><circle cx="288.1" cy="926.6" r="2.8" fill="#dfdee1"/><circle cx="288.3" cy="907.2" r="2.8" fill="#e8d5cf"/><circle cx="267.3" cy="937.7" r="2.8" fill="#dfdfe0"/><circle cx="405.8" cy="850.3" r="2.8" fill="#e1dfde"/><circle cx="252.7" cy="992.5" r="2.8" fill="#cab6e9"/><circle cx="293.2" cy="912.5" r="2.8" fill="#e4dad8"/><circle cx="408.1" cy="855.6" r="2.8" fill="#dedce1"/><circle cx="231.7" cy="940.5" r="2.8" fill="#e9d4ce"/><circle cx="275.6" cy="941.0" r="2.8" fill="#dcd7e2"/><circle cx="208.9" cy="946.9" r="2.8" fill="#eccec7"/><circle cx="257.6" cy="947.0" r="2.8" fill="#dedce1"/><circle cx="258.3" cy="969.9" r="2.8" fill="#d3c7e5"/><circle cx="380.6" cy="860.5" r="2.8" fill="#e4dbd9"/><circle cx="178.1" cy="952.9" r="2.8" fill="#f0c5ba"/><circle cx="269.8" cy="934.9" r="2.8" fill="#e0e0e0"/><circle cx="274.7" cy="915.1" r="2.8" fill="#e8d4cf"/><circle cx="241.9" cy="945.1" r="2.8" fill="#e4dbd9"/><circle cx="211.0" cy="939.4" r="2.8" fill="#eecac1"/><circle cx="336.9" cy="921.4" r="2.8" fill="#d4c8e5"/><circle cx="254.2" cy="979.4" r="2.8" fill="#d0c1e7"/><circle cx="210.0" cy="954.1" r="2.8" fill="#e8d4cf"/><circle cx="298.4" cy="931.5" r="2.8" fill="#dad3e3"/><circle cx="180.5" cy="953.7" r="2.8" fill="#f0c7bc"/><circle cx="427.9" cy="841.4" r="2.8" fill="#dfdee1"/><circle cx="325.6" cy="895.4" r="2.8" fill="#e3dcda"/><circle cx="253.5" cy="939.6" r="2.8" fill="#e3dcdb"/><circle cx="394.8" cy="857.3" r="2.8" fill="#e1dfde"/><circle cx="316.7" cy="897.2" r="2.8" fill="#e5dad7"/><circle cx="329.2" cy="891.3" r="2.8" fill="#e4dbd8"/><circle cx="396.6" cy="861.4" r="2.8" fill="#dedde1"/><circle cx="428.3" cy="848.1" r="2.8" fill="#dcd7e2"/><circle cx="262.7" cy="963.9" r="2.8" fill="#d5cae5"/><circle cx="415.7" cy="853.1" r="2.8" fill="#dddae1"/><circle cx="263.7" cy="924.9" r="2.8" fill="#e7d6d2"/><circle cx="244.2" cy="959.2" r="2.8" fill="#dcd8e2"/><circle cx="183.1" cy="949.5" r="2.8" fill="#f1c5ba"/><circle cx="297.0" cy="912.7" r="2.8" fill="#e3dcda"/><circle cx="348.9" cy="891.5" r="2.8" fill="#dedce1"/><circle cx="343.9" cy="896.7" r="2.8" fill="#dddae1"/><circle cx="263.4" cy="947.8" r="2.8" fill="#dcd8e2"/><circle cx="271.6" cy="939.6" r="2.8" fill="#dddbe1"/><circle cx="395.8" cy="853.2" r="2.8" fill="#e3dcdb"/><circle cx="268.7" cy="921.6" r="2.8" fill="#e7d6d2"/><circle cx="332.5" cy="897.3" r="2.8" fill="#e0e0e0"/><circle cx="408.7" cy="855.7" r="2.8" fill="#dedbe1"/><circle cx="346.9" cy="892.4" r="2.8" fill="#dedce1"/><circle cx="243.9" cy="923.1" r="2.8" fill="#edcdc4"/><circle cx="266.1" cy="934.7" r="2.8" fill="#e1dedd"/><circle cx="239.8" cy="958.6" r="2.8" fill="#dedbe1"/><circle cx="424.1" cy="842.7" r="2.8" fill="#dfdfe0"/><circle cx="429.3" cy="834.8" r="2.8" fill="#e2dedd"/><circle cx="215.2" cy="948.8" r="2.8" fill="#e9d2cc"/><circle cx="346.1" cy="880.9" r="2.8" fill="#e4dbd8"/><circle cx="387.3" cy="860.0" r="2.8" fill="#e2dedc"/><circle cx="421.2" cy="843.7" r="2.8" fill="#e0dfe0"/><circle cx="245.9" cy="933.1" r="2.8" fill="#e8d5cf"/><circle cx="215.3" cy="946.0" r="2.8" fill="#ebd1ca"/><circle cx="239.0" cy="953.7" r="2.8" fill="#e0e0e0"/><circle cx="253.8" cy="948.0" r="2.8" fill="#dfdde1"/><circle cx="306.1" cy="926.8" r="2.8" fill="#dad3e3"/><circle cx="361.2" cy="887.1" r="2.8" fill="#ddd9e2"/><circle cx="393.3" cy="866.0" r="2.8" fill="#dddae1"/><circle cx="254.6" cy="996.3" r="2.8" fill="#c7b2ea"/><circle cx="268.8" cy="933.8" r="2.8" fill="#e1dfde"/><circle cx="237.0" cy="950.9" r="2.8" fill="#e2dddc"/><circle cx="340.2" cy="885.5" r="2.8" fill="#e3dbd9"/><circle cx="250.1" cy="951.7" r="2.8" fill="#dedce1"/><circle cx="260.2" cy="929.7" r="2.8" fill="#e6d8d5"/><circle cx="241.4" cy="951.0" r="2.8" fill="#e1dfdf"/><circle cx="323.1" cy="907.1" r="2.8" fill="#dedce1"/><circle cx="254.3" cy="970.5" r="2.8" fill="#d4c9e5"/><circle cx="385.3" cy="870.7" r="2.8" fill="#dddbe1"/><circle cx="244.6" cy="949.6" r="2.8" fill="#e0e0df"/><circle cx="233.8" cy="954.8" r="2.8" fill="#e1dfde"/><circle cx="216.1" cy="948.9" r="2.8" fill="#e9d3cd"/><circle cx="387.3" cy="876.9" r="2.8" fill="#dad4e3"/><circle cx="303.0" cy="900.1" r="2.8" fill="#e7d6d1"/><circle cx="312.4" cy="936.9" r="2.8" fill="#d3c7e5"/><circle cx="382.5" cy="871.8" r="2.8" fill="#dedbe1"/><circle cx="333.1" cy="877.2" r="2.8" fill="#e9d3cd"/><circle cx="356.1" cy="883.8" r="2.8" fill="#dfdfe0"/><circle cx="305.2" cy="930.4" r="2.8" fill="#d8d1e3"/><circle cx="269.7" cy="988.9" r="2.8" fill="#c6b0ea"/><circle cx="357.4" cy="862.5" r="2.8" fill="#e9d3cd"/><circle cx="273.5" cy="949.6" r="2.8" fill="#d8d1e3"/><circle cx="237.7" cy="963.4" r="2.8" fill="#dcd8e2"/><circle cx="411.5" cy="846.2" r="2.8" fill="#e1dedd"/><circle cx="246.6" cy="937.8" r="2.8" fill="#e6d8d5"/><circle cx="332.4" cy="892.7" r="2.8" fill="#e2dddc"/><circle cx="202.2" cy="938.9" r="2.8" fill="#f0c6bb"/><circle cx="346.6" cy="899.7" r="2.8" fill="#dbd6e2"/><circle cx="298.6" cy="910.1" r="2.8" fill="#e4dbd9"/><circle cx="241.1" cy="963.6" r="2.8" fill="#dbd6e2"/><circle cx="231.3" cy="945.0" r="2.8" fill="#e7d7d3"/><circle cx="279.3" cy="905.5" r="2.8" fill="#ebcfc8"/><circle cx="253.3" cy="925.5" r="2.8" fill="#e9d2cc"/><circle cx="208.2" cy="935.1" r="2.8" fill="#f0c6bb"/><circle cx="261.0" cy="940.0" r="2.8" fill="#e0e0e0"/><circle cx="333.1" cy="910.3" r="2.8" fill="#dad4e3"/><circle cx="212.4" cy="953.1" r="2.8" fill="#e8d4cf"/><circle cx="357.4" cy="868.9" r="2.8" fill="#e6d7d3"/><circle cx="306.3" cy="906.3" r="2.8" fill="#e3dbd9"/><circle cx="426.2" cy="832.9" r="2.8" fill="#e4dbd9"/><circle cx="240.9" cy="944.9" r="2.8" fill="#e4dbd8"/><circle cx="238.6" cy="957.7" r="2.8" fill="#dedde1"/><circle cx="270.8" cy="960.4" r="2.8" fill="#d4c9e5"/><circle cx="258.7" cy="928.4" r="2.8" fill="#e7d7d3"/><circle cx="344.8" cy="872.8" r="2.8" fill="#e8d4cf"/><circle cx="283.5" cy="894.6" r="2.8" fill="#eecac0"/><circle cx="326.3" cy="899.5" r="2.8" fill="#e1dfdf"/><circle cx="299.0" cy="926.8" r="2.8" fill="#dcd7e2"/><circle cx="300.1" cy="913.3" r="2.8" fill="#e2dedd"/><circle cx="329.0" cy="889.6" r="2.8" fill="#e5d9d7"/><circle cx="276.9" cy="952.6" r="2.8" fill="#d6cce4"/><circle cx="297.6" cy="935.4" r="2.8" fill="#d8d0e3"/><circle cx="356.5" cy="872.0" r="2.8" fill="#e5d9d6"/><circle cx="330.1" cy="898.2" r="2.8" fill="#e0e0e0"/><circle cx="297.5" cy="916.4" r="2.8" fill="#e1dfde"/><circle cx="216.1" cy="949.5" r="2.8" fill="#e9d3ce"/><circle cx="301.1" cy="908.1" r="2.8" fill="#e4dbd8"/><circle cx="271.6" cy="947.4" r="2.8" fill="#dad4e3"/><circle cx="281.9" cy="968.2" r="2.8" fill="#cdbce8"/><circle cx="250.9" cy="961.5" r="2.8" fill="#d9d2e3"/><circle cx="358.9" cy="882.0" r="2.8" fill="#dfdfe0"/><circle cx="339.6" cy="888.3" r="2.8" fill="#e2dddc"/><circle cx="323.3" cy="929.2" r="2.8" fill="#d4c8e5"/><circle cx="259.2" cy="926.8" r="2.8" fill="#e7d6d1"/><circle cx="289.7" cy="939.8" r="2.8" fill="#d8d1e3"/><circle cx="279.3" cy="926.0" r="2.8" fill="#e2dedd"/><circle cx="275.5" cy="958.3" r="2.8" fill="#d4c8e5"/><circle cx="346.5" cy="878.7" r="2.8" fill="#e5d9d6"/><circle cx="263.8" cy="1003.6" r="2.8" fill="#c0a6ec"/><circle cx="330.9" cy="897.6" r="2.8" fill="#e0e0e0"/><circle cx="308.1" cy="923.9" r="2.8" fill="#dbd5e2"/><circle cx="288.9" cy="918.3" r="2.8" fill="#e3dddb"/><circle cx="233.4" cy="954.3" r="2.8" fill="#e1dedd"/><circle cx="241.0" cy="983.7" r="2.8" fill="#d2c4e6"/><circle cx="308.2" cy="950.3" r="2.8" fill="#cebde7"/><circle cx="309.1" cy="911.4" r="2.8" fill="#e0e0e0"/><circle cx="351.6" cy="913.6" r="2.8" fill="#d3c7e5"/><circle cx="380.0" cy="865.8" r="2.8" fill="#e1dfde"/><circle cx="304.3" cy="932.3" r="2.8" fill="#d8d0e4"/><circle cx="390.8" cy="858.9" r="2.8" fill="#e1dede"/><circle cx="344.0" cy="879.0" r="2.8" fill="#e5d8d5"/><circle cx="337.2" cy="885.2" r="2.8" fill="#e5dad7"/><circle cx="217.9" cy="947.2" r="2.8" fill="#e9d3cd"/><circle cx="424.2" cy="848.0" r="2.8" fill="#dddae1"/><circle cx="349.5" cy="895.9" r="2.8" fill="#dcd8e2"/><circle cx="278.0" cy="950.0" r="2.8" fill="#d7cee4"/><circle cx="257.7" cy="994.9" r="2.8" fill="#c7b1ea"/><circle cx="322.3" cy="890.8" r="2.8" fill="#e6d7d4"/><circle cx="276.9" cy="936.7" r="2.8" fill="#dddbe1"/><circle cx="256.7" cy="962.9" r="2.8" fill="#d7cee4"/><circle cx="195.1" cy="951.0" r="2.8" fill="#edcbc3"/><circle cx="315.3" cy="911.0" r="2.8" fill="#dedde1"/><circle cx="324.9" cy="909.0" r="2.8" fill="#ddd9e2"/><circle cx="384.7" cy="861.5" r="2.8" fill="#e2dddc"/><circle cx="244.5" cy="987.2" r="2.8" fill="#cfbfe7"/><circle cx="305.5" cy="949.0" r="2.8" fill="#cfc0e7"/><circle cx="253.2" cy="930.2" r="2.8" fill="#e7d6d1"/><circle cx="239.9" cy="948.6" r="2.8" fill="#e2dddb"/><circle cx="248.4" cy="937.0" r="2.8" fill="#e6d8d5"/><circle cx="271.6" cy="958.7" r="2.8" fill="#d5cae5"/><circle cx="322.1" cy="889.3" r="2.8" fill="#e7d6d2"/><circle cx="372.1" cy="872.2" r="2.8" fill="#e0e0df"/><circle cx="402.2" cy="863.4" r="2.8" fill="#dcd8e2"/><circle cx="192.1" cy="954.5" r="2.8" fill="#edcdc4"/><circle cx="244.8" cy="985.9" r="2.8" fill="#cfc0e7"/><circle cx="359.6" cy="895.8" r="2.8" fill="#d9d2e3"/><circle cx="273.5" cy="909.9" r="2.8" fill="#ebd0c9"/><circle cx="321.2" cy="894.5" r="2.8" fill="#e5dad7"/><circle cx="248.3" cy="956.3" r="2.8" fill="#dcd9e2"/><circle cx="257.5" cy="939.8" r="2.8" fill="#e1dedd"/><circle cx="255.9" cy="926.3" r="2.8" fill="#e8d4cf"/><circle cx="366.5" cy="881.6" r="2.8" fill="#dedbe1"/><circle cx="220.2" cy="948.2" r="2.8" fill="#e8d4cf"/><circle cx="260.8" cy="948.3" r="2.8" fill="#ddd9e2"/><circle cx="266.3" cy="947.2" r="2.8" fill="#dcd7e2"/><circle cx="263.4" cy="945.5" r="2.8" fill="#dddae1"/><circle cx="411.4" cy="838.2" r="2.8" fill="#e5d9d5"/><circle cx="205.1" cy="947.2" r="2.8" fill="#edcdc5"/><circle cx="327.6" cy="886.9" r="2.8" fill="#e6d7d3"/><circle cx="316.8" cy="914.9" r="2.8" fill="#dcd8e2"/><circle cx="238.7" cy="947.4" r="2.8" fill="#e3dbd9"/><circle cx="255.4" cy="928.5" r="2.8" fill="#e8d5d1"/><circle cx="320.0" cy="905.2" r="2.8" fill="#e0dfe0"/><circle cx="230.5" cy="953.7" r="2.8" fill="#e3dcdb"/><circle cx="395.2" cy="858.8" r="2.8" fill="#e0e0e0"/><circle cx="400.4" cy="851.5" r="2.8" fill="#e2dddc"/><circle cx="374.2" cy="855.4" r="2.8" fill="#e8d5d0"/><circle cx="254.4" cy="987.2" r="2.8" fill="#ccbae8"/><circle cx="328.1" cy="898.1" r="2.8" fill="#e1dfdf"/><circle cx="245.4" cy="965.9" r="2.8" fill="#d9d2e3"/><circle cx="236.0" cy="945.3" r="2.8" fill="#e5d9d6"/><circle cx="338.4" cy="885.8" r="2.8" fill="#e4dbd8"/><circle cx="311.9" cy="922.0" r="2.8" fill="#dad5e3"/><circle cx="239.2" cy="950.5" r="2.8" fill="#e2dedd"/><circle cx="249.4" cy="941.9" r="2.8" fill="#e3dcda"/><circle cx="271.9" cy="939.1" r="2.8" fill="#dedbe1"/><circle cx="328.9" cy="922.3" r="2.8" fill="#d5cbe5"/><circle cx="288.1" cy="952.5" r="2.8" fill="#d3c6e6"/><circle cx="225.5" cy="939.7" r="2.8" fill="#ebd1ca"/><circle cx="360.8" cy="867.0" r="2.8" fill="#e6d7d3"/><circle cx="306.8" cy="912.3" r="2.8" fill="#e0e0e0"/><circle cx="271.7" cy="923.1" r="2.8" fill="#e5d9d5"/><circle cx="274.2" cy="930.8" r="2.8" fill="#e1dfde"/><circle cx="304.6" cy="904.0" r="2.8" fill="#e5d9d6"/><circle cx="245.8" cy="944.4" r="2.8" fill="#e3dcdb"/><circle cx="275.2" cy="945.1" r="2.8" fill="#dad4e3"/><circle cx="208.4" cy="939.6" r="2.8" fill="#efc9bf"/><circle cx="249.4" cy="1004.8" r="2.8" fill="#c4adea"/><circle cx="255.4" cy="953.7" r="2.8" fill="#dcd7e2"/><circle cx="321.0" cy="925.1" r="2.8" fill="#d6cde4"/><circle cx="255.7" cy="954.5" r="2.8" fill="#dbd6e2"/><circle cx="245.9" cy="967.9" r="2.8" fill="#d8cfe4"/><circle cx="254.1" cy="914.8" r="2.8" fill="#eecbc2"/><circle cx="303.1" cy="908.9" r="2.8" fill="#e3dcda"/><circle cx="269.5" cy="937.5" r="2.8" fill="#dfdee0"/><circle cx="235.0" cy="954.9" r="2.8" fill="#e1dfdf"/><circle cx="237.3" cy="941.8" r="2.8" fill="#e6d7d3"/><circle cx="279.9" cy="932.2" r="2.8" fill="#dfdde1"/><circle cx="243.1" cy="939.5" r="2.8" fill="#e6d8d4"/><circle cx="375.2" cy="871.2" r="2.8" fill="#e0e0e0"/><circle cx="249.8" cy="970.3" r="2.8" fill="#d6cbe5"/><circle cx="316.3" cy="914.2" r="2.8" fill="#ddd9e2"/><circle cx="251.2" cy="926.1" r="2.8" fill="#ead2cc"/><circle cx="281.6" cy="928.7" r="2.8" fill="#e0dfe0"/><circle cx="265.4" cy="947.9" r="2.8" fill="#dbd7e2"/><circle cx="290.6" cy="918.1" r="2.8" fill="#e2dddc"/><circle cx="273.1" cy="950.6" r="2.8" fill="#d8d0e3"/><circle cx="316.9" cy="922.1" r="2.8" fill="#d9d2e3"/><circle cx="283.1" cy="928.2" r="2.8" fill="#dfdfe0"/><circle cx="272.0" cy="922.5" r="2.8" fill="#e6d8d5"/><circle cx="277.6" cy="915.6" r="2.8" fill="#e7d6d1"/><circle cx="319.4" cy="904.1" r="2.8" fill="#e0dfdf"/><circle cx="246.4" cy="996.2" r="2.8" fill="#cab6e9"/><circle cx="416.7" cy="846.6" r="2.8" fill="#e0dfe0"/><circle cx="316.2" cy="931.3" r="2.8" fill="#d5cae5"/><circle cx="238.2" cy="941.2" r="2.8" fill="#e7d7d3"/><circle cx="291.7" cy="898.9" r="2.8" fill="#ebd0c9"/><circle cx="228.8" cy="939.6" r="2.8" fill="#ead2cc"/><circle cx="293.2" cy="965.9" r="2.8" fill="#cbb8e8"/><circle cx="271.9" cy="965.7" r="2.8" fill="#d1c3e6"/><circle cx="248.4" cy="944.7" r="2.8" fill="#e2dedd"/><circle cx="303.5" cy="939.2" r="2.8" fill="#d5cae5"/><circle cx="398.0" cy="861.0" r="2.8" fill="#dedce1"/><circle cx="414.7" cy="846.7" r="2.8" fill="#e0e0e0"/><circle cx="236.7" cy="948.5" r="2.8" fill="#e3dbd9"/><circle cx="227.7" cy="949.3" r="2.8" fill="#e6d8d5"/><circle cx="194.1" cy="950.3" r="2.8" fill="#eecac1"/><circle cx="313.4" cy="915.0" r="2.8" fill="#dddae1"/><circle cx="390.8" cy="856.7" r="2.8" fill="#e2dddb"/><circle cx="366.6" cy="868.3" r="2.8" fill="#e4dbd8"/><circle cx="276.1" cy="923.7" r="2.8" fill="#e4dbd9"/><circle cx="270.5" cy="946.7" r="2.8" fill="#dbd5e2"/><circle cx="350.8" cy="882.1" r="2.8" fill="#e2dddc"/><circle cx="382.6" cy="871.1" r="2.8" fill="#dedce1"/><circle cx="210.5" cy="950.2" r="2.8" fill="#ead1cb"/><circle cx="244.2" cy="947.8" r="2.8" fill="#e1dedd"/><circle cx="299.9" cy="932.4" r="2.8" fill="#d9d2e3"/><circle cx="295.6" cy="936.7" r="2.8" fill="#d8d0e3"/><circle cx="272.2" cy="934.3" r="2.8" fill="#e0dfe0"/><circle cx="316.3" cy="911.5" r="2.8" fill="#dedce1"/><circle cx="397.8" cy="846.7" r="2.8" fill="#e5d9d6"/><circle cx="342.2" cy="882.7" r="2.8" fill="#e4dad8"/><circle cx="238.2" cy="984.4" r="2.8" fill="#d2c5e6"/><circle cx="281.6" cy="930.4" r="2.8" fill="#dfdee1"/><circle cx="343.7" cy="894.7" r="2.8" fill="#dedce1"/><circle cx="237.4" cy="961.8" r="2.8" fill="#dddae1"/><circle cx="244.3" cy="993.0" r="2.8" fill="#ccbae8"/><circle cx="341.9" cy="888.8" r="2.8" fill="#e1dede"/><circle cx="244.9" cy="936.3" r="2.8" fill="#e7d6d2"/><circle cx="373.3" cy="874.8" r="2.8" fill="#dfdde1"/><circle cx="237.7" cy="981.9" r="2.8" fill="#d3c7e5"/><circle cx="255.4" cy="936.1" r="2.8" fill="#e4dbd8"/><circle cx="287.7" cy="915.0" r="2.8" fill="#e5dad7"/><circle cx="345.5" cy="902.5" r="2.8" fill="#dad4e3"/><circle cx="266.3" cy="942.2" r="2.8" fill="#dedbe1"/><circle cx="204.6" cy="945.8" r="2.8" fill="#edccc3"/><circle cx="230.8" cy="953.5" r="2.8" fill="#e3dcdb"/><circle cx="326.1" cy="892.6" r="2.8" fill="#e4dad8"/><circle cx="236.9" cy="928.8" r="2.8" fill="#eccec6"/><circle cx="356.7" cy="878.0" r="2.8" fill="#e2dddc"/><circle cx="262.4" cy="932.0" r="2.8" fill="#e4dbd8"/><circle cx="419.0" cy="837.1" r="2.8" fill="#e4dbd9"/><circle cx="399.2" cy="855.8" r="2.8" fill="#e0e0e0"/><circle cx="234.7" cy="944.3" r="2.8" fill="#e6d8d4"/><circle cx="217.2" cy="945.6" r="2.8" fill="#ead1cb"/><circle cx="332.9" cy="916.1" r="2.8" fill="#d7cfe4"/><circle cx="309.1" cy="931.6" r="2.8" fill="#d7cee4"/><circle cx="306.5" cy="926.7" r="2.8" fill="#dad3e3"/><circle cx="416.4" cy="827.3" r="2.8" fill="#e9d3cd"/><circle cx="352.4" cy="886.4" r="2.8" fill="#dfdfe0"/><circle cx="307.6" cy="944.2" r="2.8" fill="#d1c3e6"/><circle cx="262.9" cy="1002.6" r="2.8" fill="#c1a7eb"/><circle cx="262.3" cy="956.9" r="2.8" fill="#d8d0e3"/><circle cx="356.4" cy="898.8" r="2.8" fill="#d9d1e3"/><circle cx="422.1" cy="849.6" r="2.8" fill="#dddae1"/><circle cx="317.4" cy="915.0" r="2.8" fill="#dcd8e2"/><circle cx="265.7" cy="952.5" r="2.8" fill="#d9d2e3"/><circle cx="262.7" cy="943.9" r="2.8" fill="#dedce1"/><circle cx="268.7" cy="1020.5" r="2.8" fill="#b595ef"/><circle cx="331.0" cy="896.8" r="2.8" fill="#e1dfdf"/><circle cx="317.7" cy="898.5" r="2.8" fill="#e4dbd9"/><circle cx="251.2" cy="969.5" r="2.8" fill="#d5cbe5"/><circle cx="421.2" cy="838.8" r="2.8" fill="#e2dddc"/><circle cx="382.1" cy="864.2" r="2.8" fill="#e1dedd"/><circle cx="358.2" cy="871.0" r="2.8" fill="#e5d9d6"/><circle cx="280.1" cy="956.5" r="2.8" fill="#d3c7e5"/><circle cx="318.0" cy="914.8" r="2.8" fill="#dcd8e2"/><circle cx="275.7" cy="905.9" r="2.8" fill="#eccec6"/><circle cx="367.1" cy="887.9" r="2.8" fill="#dbd5e2"/><circle cx="271.4" cy="930.0" r="2.8" fill="#e2dddc"/><circle cx="318.8" cy="932.7" r="2.8" fill="#d3c7e5"/><circle cx="319.5" cy="915.9" r="2.8" fill="#dbd6e2"/><circle cx="246.8" cy="936.1" r="2.8" fill="#e6d7d3"/><circle cx="275.5" cy="964.5" r="2.8" fill="#d1c3e6"/><circle cx="264.1" cy="971.5" r="2.8" fill="#d1c2e6"/><circle cx="293.5" cy="908.0" r="2.8" fill="#e6d7d3"/><circle cx="313.1" cy="897.4" r="2.8" fill="#e6d8d5"/><circle cx="323.2" cy="907.6" r="2.8" fill="#dedbe1"/><circle cx="336.4" cy="895.3" r="2.8" fill="#e0dfe0"/><circle cx="362.7" cy="894.2" r="2.8" fill="#d9d2e3"/><circle cx="345.8" cy="882.0" r="2.8" fill="#e4dbd9"/><circle cx="341.9" cy="897.0" r="2.8" fill="#dddbe1"/><circle cx="318.6" cy="916.9" r="2.8" fill="#dbd6e2"/><circle cx="286.8" cy="909.1" r="2.8" fill="#e8d5d0"/><circle cx="271.7" cy="954.8" r="2.8" fill="#d7cde4"/><circle cx="425.8" cy="829.4" r="2.8" fill="#e5d9d5"/><circle cx="290.5" cy="948.7" r="2.8" fill="#d4c8e5"/><circle cx="426.7" cy="843.9" r="2.8" fill="#dedce1"/><circle cx="314.1" cy="919.2" r="2.8" fill="#dbd6e2"/><circle cx="251.8" cy="939.3" r="2.8" fill="#e3dbd9"/><circle cx="365.8" cy="897.3" r="2.8" fill="#d7cde4"/><circle cx="215.3" cy="953.7" r="2.8" fill="#e7d6d1"/><circle cx="324.9" cy="904.6" r="2.8" fill="#dfdde1"/><circle cx="328.9" cy="922.2" r="2.8" fill="#d6cbe5"/><circle cx="267.4" cy="947.1" r="2.8" fill="#dbd6e2"/><circle cx="391.3" cy="857.5" r="2.8" fill="#e2dedc"/><circle cx="265.8" cy="932.8" r="2.8" fill="#e2dddb"/><circle cx="357.9" cy="896.7" r="2.8" fill="#d9d2e3"/><circle cx="289.3" cy="919.7" r="2.8" fill="#e2dedd"/><circle cx="368.4" cy="871.9" r="2.8" fill="#e2dedd"/><circle cx="301.0" cy="893.3" r="2.8" fill="#ebd0c9"/><circle cx="232.4" cy="952.6" r="2.8" fill="#e3dcdb"/><circle cx="259.7" cy="966.2" r="2.8" fill="#d5cae5"/><circle cx="329.8" cy="918.2" r="2.8" fill="#d7cee4"/><circle cx="203.2" cy="953.0" r="2.8" fill="#ebd0c9"/><circle cx="286.0" cy="933.2" r="2.8" fill="#dcd9e2"/><circle cx="318.8" cy="928.9" r="2.8" fill="#d5cbe5"/><circle cx="349.6" cy="884.7" r="2.8" fill="#e1dfde"/><circle cx="258.0" cy="945.7" r="2.8" fill="#dedde1"/><circle cx="424.8" cy="839.2" r="2.8" fill="#e1dfde"/><circle cx="394.8" cy="860.6" r="2.8" fill="#dfdee0"/><circle cx="358.5" cy="882.6" r="2.8" fill="#dfdfe0"/><circle cx="313.0" cy="911.0" r="2.8" fill="#dfdee0"/><circle cx="260.4" cy="938.4" r="2.8" fill="#e1dede"/><circle cx="314.3" cy="940.7" r="2.8" fill="#d1c3e6"/><circle cx="250.7" cy="992.0" r="2.8" fill="#cbb7e8"/><circle cx="269.4" cy="954.0" r="2.8" fill="#d8cfe4"/><circle cx="255.6" cy="953.7" r="2.8" fill="#dcd7e2"/><circle cx="237.9" cy="1014.8" r="2.8" fill="#c3aaeb"/><circle cx="392.1" cy="854.6" r="2.8" fill="#e3dcda"/><circle cx="438.9" cy="838.0" r="2.8" fill="#dddbe1"/><circle cx="242.7" cy="980.1" r="2.8" fill="#d3c6e6"/><circle cx="242.1" cy="955.7" r="2.8" fill="#dedce1"/><circle cx="372.7" cy="859.9" r="2.8" fill="#e6d7d3"/><circle cx="405.9" cy="843.9" r="2.8" fill="#e4dad8"/><circle cx="413.8" cy="852.7" r="2.8" fill="#dedbe1"/><circle cx="353.1" cy="888.8" r="2.8" fill="#dedce1"/><circle cx="383.5" cy="878.0" r="2.8" fill="#dbd5e2"/><circle cx="220.1" cy="953.0" r="2.8" fill="#e6d8d4"/><circle cx="267.7" cy="966.1" r="2.8" fill="#d2c5e6"/><circle cx="212.8" cy="949.2" r="2.8" fill="#ead2cb"/><circle cx="272.2" cy="929.0" r="2.8" fill="#e2dddb"/><circle cx="427.9" cy="837.8" r="2.8" fill="#e1dfdf"/><circle cx="232.6" cy="930.9" r="2.8" fill="#eccdc5"/><circle cx="440.8" cy="838.8" r="2.8" fill="#ddd9e2"/><circle cx="276.8" cy="913.3" r="2.8" fill="#e9d4ce"/><circle cx="385.1" cy="853.1" r="2.8" fill="#e6d8d4"/><circle cx="373.9" cy="860.6" r="2.8" fill="#e6d8d5"/><circle cx="303.0" cy="908.4" r="2.8" fill="#e3dcda"/><circle cx="428.5" cy="831.8" r="2.8" fill="#e3dbd9"/><circle cx="401.4" cy="852.4" r="2.8" fill="#e1dedd"/><circle cx="414.5" cy="841.2" r="2.8" fill="#e3dcda"/><circle cx="257.0" cy="929.5" r="2.8" fill="#e7d7d3"/><circle cx="263.5" cy="951.7" r="2.8" fill="#dad4e3"/><circle cx="273.1" cy="900.2" r="2.8" fill="#efc9bf"/><circle cx="309.0" cy="916.0" r="2.8" fill="#dedce1"/><circle cx="299.3" cy="914.8" r="2.8" fill="#e1dede"/><circle cx="299.1" cy="897.9" r="2.8" fill="#e9d3cd"/><circle cx="287.6" cy="946.7" r="2.8" fill="#d6cce4"/><circle cx="347.8" cy="885.6" r="2.8" fill="#e1dfde"/><circle cx="336.9" cy="890.1" r="2.8" fill="#e2dddc"/><circle cx="381.9" cy="867.0" r="2.8" fill="#e0e0e0"/><circle cx="260.7" cy="942.1" r="2.8" fill="#dfdfe0"/><circle cx="237.8" cy="967.1" r="2.8" fill="#dad5e3"/><circle cx="277.7" cy="932.9" r="2.8" fill="#dfdee1"/><circle cx="416.8" cy="857.8" r="2.8" fill="#dbd5e2"/><circle cx="203.1" cy="951.9" r="2.8" fill="#ebcfc8"/><circle cx="424.1" cy="845.9" r="2.8" fill="#dedce1"/><circle cx="222.7" cy="927.9" r="2.8" fill="#f0c7bc"/><circle cx="389.4" cy="848.4" r="2.8" fill="#e7d6d2"/><circle cx="282.5" cy="896.1" r="2.8" fill="#eecac1"/><circle cx="347.6" cy="876.1" r="2.8" fill="#e6d8d4"/><circle cx="269.9" cy="928.4" r="2.8" fill="#e3dbd9"/><circle cx="390.0" cy="859.6" r="2.8" fill="#e1dede"/><circle cx="265.8" cy="933.2" r="2.8" fill="#e2dddc"/><circle cx="432.3" cy="842.0" r="2.8" fill="#dddbe1"/><circle cx="280.1" cy="923.9" r="2.8" fill="#e3dddb"/><circle cx="291.5" cy="891.5" r="2.8" fill="#eecbc2"/><circle cx="215.7" cy="935.6" r="2.8" fill="#efc9c0"/><circle cx="288.6" cy="944.1" r="2.8" fill="#d7cee4"/><circle cx="337.1" cy="903.0" r="2.8" fill="#dcd8e2"/><circle cx="271.6" cy="921.1" r="2.8" fill="#e6d7d3"/><circle cx="304.7" cy="921.7" r="2.8" fill="#dcd9e2"/><circle cx="357.7" cy="881.2" r="2.8" fill="#e0e0e0"/><circle cx="293.4" cy="934.4" r="2.8" fill="#dad4e3"/><circle cx="372.6" cy="886.8" r="2.8" fill="#dad3e3"/><circle cx="292.3" cy="905.9" r="2.8" fill="#e8d5d0"/><circle cx="305.9" cy="918.5" r="2.8" fill="#dedbe1"/><circle cx="235.1" cy="952.7" r="2.8" fill="#e2dedd"/><circle cx="205.0" cy="951.4" r="2.8" fill="#ebd0c9"/><circle cx="285.2" cy="940.3" r="2.8" fill="#d9d3e3"/><circle cx="176.4" cy="948.6" r="2.8" fill="#f2c2b5"/><circle cx="279.3" cy="960.6" r="2.8" fill="#d2c4e6"/><circle cx="349.5" cy="871.3" r="2.8" fill="#e7d5d1"/><circle cx="250.3" cy="929.0" r="2.8" fill="#e9d4ce"/><circle cx="258.1" cy="947.3" r="2.8" fill="#dedbe1"/><circle cx="296.6" cy="919.8" r="2.8" fill="#dfdfe0"/><circle cx="334.0" cy="900.1" r="2.8" fill="#dedce1"/><circle cx="321.9" cy="898.5" r="2.8" fill="#e3dddb"/><circle cx="338.0" cy="891.7" r="2.8" fill="#e1dfde"/><circle cx="361.7" cy="883.6" r="2.8" fill="#dedce1"/><circle cx="363.5" cy="873.0" r="2.8" fill="#e3dddb"/><circle cx="258.2" cy="944.9" r="2.8" fill="#dfdde1"/><circle cx="308.2" cy="920.2" r="2.8" fill="#dcd8e2"/><circle cx="305.6" cy="911.4" r="2.8" fill="#e1dfde"/><circle cx="315.9" cy="912.4" r="2.8" fill="#dedbe1"/><circle cx="265.8" cy="923.0" r="2.8" fill="#e7d6d1"/><circle cx="356.3" cy="874.2" r="2.8" fill="#e4dad8"/><circle cx="305.3" cy="899.7" r="2.8" fill="#e7d6d2"/><circle cx="351.3" cy="877.4" r="2.8" fill="#e4dad8"/><circle cx="251.6" cy="951.2" r="2.8" fill="#dedbe1"/><circle cx="192.1" cy="942.1" r="2.8" fill="#f1c4b8"/><circle cx="326.8" cy="935.5" r="2.8" fill="#d0c0e7"/><circle cx="240.1" cy="953.2" r="2.8" fill="#e0e0e0"/><circle cx="244.9" cy="954.2" r="2.8" fill="#dedce1"/><circle cx="248.9" cy="972.8" r="2.8" fill="#d5cae5"/><circle cx="242.3" cy="955.9" r="2.8" fill="#dedce1"/><circle cx="268.5" cy="961.9" r="2.8" fill="#d4c9e5"/><circle cx="322.8" cy="909.5" r="2.8" fill="#dddae1"/><circle cx="254.2" cy="948.4" r="2.8" fill="#dedce1"/><circle cx="294.4" cy="960.3" r="2.8" fill="#cdbce8"/><circle cx="304.0" cy="908.6" r="2.8" fill="#e3dcda"/><circle cx="245.0" cy="920.5" r="2.8" fill="#edcbc2"/><circle cx="411.1" cy="851.1" r="2.8" fill="#dfdee0"/><circle cx="195.4" cy="940.8" r="2.8" fill="#f1c4b9"/><circle cx="256.3" cy="975.6" r="2.8" fill="#d1c3e6"/><circle cx="246.2" cy="951.6" r="2.8" fill="#dfdee0"/><circle cx="267.7" cy="916.4" r="2.8" fill="#ead2cc"/><circle cx="239.6" cy="961.7" r="2.8" fill="#dcd8e2"/><circle cx="310.8" cy="920.3" r="2.8" fill="#dbd7e2"/><circle cx="328.4" cy="906.6" r="2.8" fill="#ddd9e1"/><circle cx="319.4" cy="878.2" r="2.8" fill="#eccdc5"/><circle cx="401.3" cy="853.4" r="2.8" fill="#e1dfde"/><circle cx="400.0" cy="863.9" r="2.8" fill="#dcd9e2"/><circle cx="283.5" cy="933.3" r="2.8" fill="#dddae1"/><circle cx="357.8" cy="887.1" r="2.8" fill="#dedbe1"/><circle cx="361.9" cy="901.2" r="2.8" fill="#d6cce4"/><circle cx="377.7" cy="882.9" r="2.8" fill="#dad4e3"/><circle cx="329.2" cy="906.5" r="2.8" fill="#ddd9e2"/><circle cx="254.2" cy="932.0" r="2.8" fill="#e6d7d3"/><circle cx="286.1" cy="943.8" r="2.8" fill="#d8cfe4"/><circle cx="264.3" cy="935.4" r="2.8" fill="#e2dedd"/><circle cx="311.0" cy="913.4" r="2.8" fill="#dedde1"/><circle cx="423.9" cy="839.4" r="2.8" fill="#e1dfde"/><circle cx="265.9" cy="956.9" r="2.8" fill="#d7cfe4"/><circle cx="292.1" cy="910.8" r="2.8" fill="#e5d9d5"/><circle cx="259.4" cy="947.6" r="2.8" fill="#dddae1"/><circle cx="342.4" cy="893.2" r="2.8" fill="#dfdee0"/><circle cx="273.0" cy="929.8" r="2.8" fill="#e2dedd"/><circle cx="261.4" cy="915.8" r="2.8" fill="#ebcfc8"/><circle cx="205.0" cy="951.5" r="2.8" fill="#ebd0c9"/><circle cx="285.6" cy="931.9" r="2.8" fill="#dddae1"/><circle cx="336.1" cy="877.5" r="2.8" fill="#e8d4cf"/><circle cx="255.5" cy="942.1" r="2.8" fill="#e1dfde"/><circle cx="227.8" cy="951.7" r="2.8" fill="#e5dad7"/><circle cx="305.4" cy="906.4" r="2.8" fill="#e4dbd9"/><circle cx="314.8" cy="903.7" r="2.8" fill="#e2dddc"/><circle cx="418.1" cy="841.9" r="2.8" fill="#e2dedd"/><circle cx="245.7" cy="952.9" r="2.8" fill="#dfdde1"/><circle cx="404.3" cy="844.6" r="2.8" fill="#e4dad7"/><circle cx="261.3" cy="941.2" r="2.8" fill="#e0dfe0"/><circle cx="303.9" cy="907.3" r="2.8" fill="#e4dbd9"/><circle cx="330.4" cy="885.0" r="2.8" fill="#e7d7d3"/><circle cx="381.1" cy="867.5" r="2.8" fill="#e0e0e0"/><circle cx="351.7" cy="882.5" r="2.8" fill="#e1dedd"/><circle cx="288.9" cy="957.3" r="2.8" fill="#d0c2e6"/><circle cx="267.7" cy="955.9" r="2.8" fill="#d7cee4"/><circle cx="261.6" cy="977.8" r="2.8" fill="#cebee7"/><circle cx="253.3" cy="951.7" r="2.8" fill="#dddae1"/><circle cx="296.8" cy="947.9" r="2.8" fill="#d3c6e6"/><circle cx="297.2" cy="932.1" r="2.8" fill="#dad4e3"/><circle cx="297.9" cy="912.0" r="2.8" fill="#e3dcda"/><circle cx="423.1" cy="831.6" r="2.8" fill="#e5d9d6"/><circle cx="216.1" cy="942.9" r="2.8" fill="#eccfc7"/><circle cx="247.8" cy="972.8" r="2.8" fill="#d5cae5"/><circle cx="246.8" cy="996.2" r="2.8" fill="#cab6e9"/><circle cx="313.7" cy="899.0" r="2.8" fill="#e5dad7"/><circle cx="252.4" cy="925.1" r="2.8" fill="#ead2cb"/><circle cx="293.0" cy="945.4" r="2.8" fill="#d5cae5"/><circle cx="237.2" cy="933.4" r="2.8" fill="#ead1ca"/><circle cx="221.5" cy="947.8" r="2.8" fill="#e8d4cf"/><circle cx="341.8" cy="879.6" r="2.8" fill="#e6d8d4"/><circle cx="339.6" cy="908.7" r="2.8" fill="#d9d2e3"/><circle cx="384.2" cy="858.0" r="2.8" fill="#e4dbd9"/><circle cx="269.1" cy="950.9" r="2.8" fill="#d9d2e3"/><circle cx="224.3" cy="944.2" r="2.8" fill="#e9d3cd"/><circle cx="248.1" cy="994.9" r="2.8" fill="#cab6e9"/><circle cx="345.7" cy="903.2" r="2.8" fill="#dad3e3"/><circle cx="239.1" cy="955.9" r="2.8" fill="#dfdee0"/><circle cx="359.6" cy="882.7" r="2.8" fill="#dfdee0"/><circle cx="359.3" cy="865.5" r="2.8" fill="#e7d6d1"/><circle cx="268.0" cy="938.6" r="2.8" fill="#dfdee1"/><circle cx="351.6" cy="871.7" r="2.8" fill="#e7d7d2"/><circle cx="252.1" cy="921.0" r="2.8" fill="#eccfc7"/><circle cx="241.4" cy="982.5" r="2.8" fill="#d2c5e6"/><circle cx="245.7" cy="927.5" r="2.8" fill="#ebd1ca"/><circle cx="241.9" cy="935.3" r="2.8" fill="#e8d4cf"/><circle cx="372.3" cy="856.6" r="2.8" fill="#e8d5d0"/><circle cx="369.5" cy="867.6" r="2.8" fill="#e3dbd9"/><circle cx="267.7" cy="932.1" r="2.8" fill="#e2dddc"/><circle cx="295.4" cy="905.5" r="2.8" fill="#e7d6d2"/><circle cx="313.2" cy="920.6" r="2.8" fill="#dbd5e2"/><circle cx="328.7" cy="910.5" r="2.8" fill="#dbd6e2"/><circle cx="263.9" cy="942.4" r="2.8" fill="#dedde1"/><circle cx="288.2" cy="900.9" r="2.8" fill="#ebd0c9"/><circle cx="315.2" cy="900.2" r="2.8" fill="#e4dbd9"/><circle cx="235.9" cy="988.3" r="2.8" fill="#d1c3e6"/><circle cx="236.1" cy="959.4" r="2.8" fill="#dedce1"/><circle cx="260.6" cy="965.0" r="2.8" fill="#d5cae5"/><circle cx="244.1" cy="938.8" r="2.8" fill="#e6d8d4"/><circle cx="279.6" cy="1017.5" r="2.8" fill="#b291ef"/><circle cx="306.5" cy="906.7" r="2.8" fill="#e3dcda"/><circle cx="423.1" cy="842.4" r="2.8" fill="#e0dfe0"/><circle cx="236.9" cy="963.5" r="2.8" fill="#dcd8e2"/><circle cx="286.4" cy="956.2" r="2.8" fill="#d2c4e6"/><circle cx="365.1" cy="868.6" r="2.8" fill="#e4dad7"/><circle cx="288.4" cy="916.1" r="2.8" fill="#e4dbd8"/><circle cx="266.5" cy="940.6" r="2.8" fill="#dedde1"/><circle cx="273.2" cy="978.9" r="2.8" fill="#cab7e9"/><circle cx="241.8" cy="975.9" r="2.8" fill="#d5cbe5"/><circle cx="298.2" cy="914.9" r="2.8" fill="#e1dedd"/><circle cx="310.5" cy="910.9" r="2.8" fill="#e0dfe0"/><circle cx="260.8" cy="930.4" r="2.8" fill="#e5d9d6"/><circle cx="346.2" cy="881.4" r="2.8" fill="#e4dbd9"/><circle cx="301.7" cy="907.1" r="2.8" fill="#e4dad7"/><circle cx="254.4" cy="964.2" r="2.8" fill="#d7cee4"/><circle cx="259.9" cy="975.9" r="2.8" fill="#d0c1e7"/><circle cx="315.7" cy="908.4" r="2.8" fill="#dfdfe0"/><circle cx="336.3" cy="906.4" r="2.8" fill="#dbd5e2"/><circle cx="238.0" cy="951.3" r="2.8" fill="#e2dedd"/><circle cx="348.7" cy="886.0" r="2.8" fill="#e1dfdf"/><circle cx="250.1" cy="924.8" r="2.8" fill="#ebd1ca"/><circle cx="323.9" cy="910.5" r="2.8" fill="#dcd8e2"/><circle cx="362.7" cy="881.2" r="2.8" fill="#dfdee1"/><circle cx="331.8" cy="902.3" r="2.8" fill="#dedbe1"/><circle cx="371.9" cy="870.0" r="2.8" fill="#e2dedd"/><circle cx="339.2" cy="901.8" r="2.8" fill="#dcd8e2"/><circle cx="319.2" cy="893.9" r="2.8" fill="#e6d8d5"/><circle cx="291.3" cy="891.6" r="2.8" fill="#eecbc2"/><circle cx="265.2" cy="956.4" r="2.8" fill="#d8cfe4"/><circle cx="279.8" cy="933.3" r="2.8" fill="#dedce1"/><circle cx="308.3" cy="905.4" r="2.8" fill="#e3dcda"/><circle cx="241.8" cy="941.6" r="2.8" fill="#e5d9d5"/><circle cx="241.6" cy="1005.2" r="2.8" fill="#c7b1ea"/><circle cx="289.9" cy="927.9" r="2.8" fill="#dedbe1"/><circle cx="289.5" cy="910.6" r="2.8" fill="#e6d7d4"/><circle cx="279.3" cy="1019.2" r="2.8" fill="#b190ef"/><circle cx="271.7" cy="963.5" r="2.8" fill="#d2c5e6"/><circle cx="335.4" cy="892.3" r="2.8" fill="#e1dedd"/><circle cx="236.1" cy="999.8" r="2.8" fill="#cbb8e8"/><circle cx="366.7" cy="896.6" r="2.8" fill="#d7cee4"/><circle cx="288.4" cy="937.9" r="2.8" fill="#dad3e3"/><circle cx="288.7" cy="941.4" r="2.8" fill="#d8d0e4"/><circle cx="236.6" cy="946.8" r="2.8" fill="#e4dad7"/><circle cx="323.6" cy="894.9" r="2.8" fill="#e4dbd9"/><circle cx="380.4" cy="875.8" r="2.8" fill="#dcd9e2"/><circle cx="380.2" cy="875.2" r="2.8" fill="#ddd9e1"/><circle cx="238.9" cy="957.5" r="2.8" fill="#dedde1"/><circle cx="282.7" cy="931.2" r="2.8" fill="#dedce1"/><circle cx="414.1" cy="850.1" r="2.8" fill="#dfdde1"/><circle cx="420.6" cy="849.8" r="2.8" fill="#dddae1"/><circle cx="345.4" cy="877.1" r="2.8" fill="#e6d8d4"/><circle cx="268.2" cy="946.4" r="2.8" fill="#dbd7e2"/><circle cx="357.1" cy="874.4" r="2.8" fill="#e4dbd9"/><circle cx="216.8" cy="950.9" r="2.8" fill="#e8d5d0"/><circle cx="292.0" cy="909.4" r="2.8" fill="#e6d8d4"/><circle cx="360.0" cy="889.9" r="2.8" fill="#dcd7e2"/><circle cx="303.1" cy="922.3" r="2.8" fill="#ddd9e2"/><circle cx="387.8" cy="863.5" r="2.8" fill="#e0e0e0"/><circle cx="360.5" cy="875.1" r="2.8" fill="#e2dddb"/><circle cx="252.9" cy="968.8" r="2.8" fill="#d5cbe5"/><circle cx="236.0" cy="952.6" r="2.8" fill="#e2dedd"/><circle cx="403.9" cy="852.4" r="2.8" fill="#e1dfdf"/><circle cx="267.7" cy="931.6" r="2.8" fill="#e2dddb"/><circle cx="255.2" cy="948.9" r="2.8" fill="#dedbe1"/><circle cx="282.3" cy="923.4" r="2.8" fill="#e2dddc"/><circle cx="329.0" cy="881.4" r="2.8" fill="#e9d4ce"/><circle cx="334.9" cy="907.9" r="2.8" fill="#dad5e3"/><circle cx="325.2" cy="908.5" r="2.8" fill="#dddae1"/><circle cx="272.3" cy="902.2" r="2.8" fill="#eecac1"/><circle cx="247.1" cy="961.6" r="2.8" fill="#dad4e3"/><circle cx="298.3" cy="916.8" r="2.8" fill="#e0dfdf"/><circle cx="405.2" cy="860.3" r="2.8" fill="#ddd9e2"/><circle cx="381.7" cy="868.8" r="2.8" fill="#dfdee0"/><circle cx="237.3" cy="944.3" r="2.8" fill="#e5d9d5"/><circle cx="275.0" cy="923.7" r="2.8" fill="#e4dad8"/><circle cx="334.5" cy="893.2" r="2.8" fill="#e1dede"/><circle cx="407.0" cy="859.1" r="2.8" fill="#ddd9e2"/><circle cx="212.6" cy="951.4" r="2.8" fill="#e9d3ce"/><circle cx="326.3" cy="907.1" r="2.8" fill="#dddae1"/><circle cx="266.6" cy="979.1" r="2.8" fill="#ccbae8"/><circle cx="258.4" cy="980.2" r="2.8" fill="#cebee7"/><circle cx="369.7" cy="860.3" r="2.8" fill="#e7d6d2"/><circle cx="315.5" cy="899.1" r="2.8" fill="#e4dad8"/><circle cx="279.1" cy="983.6" r="2.8" fill="#c6b0ea"/><circle cx="293.8" cy="924.9" r="2.8" fill="#dedce1"/><circle cx="341.6" cy="885.8" r="2.8" fill="#e3dcda"/><circle cx="248.6" cy="955.5" r="2.8" fill="#ddd9e2"/><circle cx="248.7" cy="950.4" r="2.8" fill="#dfdee1"/><circle cx="357.7" cy="885.6" r="2.8" fill="#dedce1"/><circle cx="215.8" cy="954.0" r="2.8" fill="#e7d6d2"/><circle cx="242.9" cy="960.0" r="2.8" fill="#dcd8e2"/><circle cx="375.1" cy="871.7" r="2.8" fill="#e0dfe0"/><circle cx="257.2" cy="934.6" r="2.8" fill="#e4dad8"/><circle cx="284.3" cy="924.3" r="2.8" fill="#e1dfde"/><circle cx="303.2" cy="911.9" r="2.8" fill="#e1dedd"/><circle cx="355.7" cy="901.2" r="2.8" fill="#d8cfe4"/><circle cx="329.9" cy="920.0" r="2.8" fill="#d6cde4"/><circle cx="237.4" cy="984.3" r="2.8" fill="#d2c5e6"/><circle cx="286.5" cy="902.6" r="2.8" fill="#ebd1ca"/><circle cx="226.3" cy="951.4" r="2.8" fill="#e5d9d6"/><circle cx="268.9" cy="964.6" r="2.8" fill="#d3c6e6"/><circle cx="246.7" cy="945.8" r="2.8" fill="#e2dedd"/><circle cx="326.4" cy="912.6" r="2.8" fill="#dbd5e2"/><circle cx="349.0" cy="892.3" r="2.8" fill="#dedbe1"/><circle cx="222.7" cy="947.4" r="2.8" fill="#e8d5d0"/><circle cx="393.1" cy="859.6" r="2.8" fill="#e0e0e0"/><circle cx="283.0" cy="907.7" r="2.8" fill="#e9d3cd"/><circle cx="371.6" cy="884.6" r="2.8" fill="#dbd6e2"/><circle cx="241.5" cy="935.6" r="2.8" fill="#e8d4cf"/><circle cx="221.3" cy="950.0" r="2.8" fill="#e7d6d1"/><circle cx="262.9" cy="965.4" r="2.8" fill="#d4c9e5"/><circle cx="273.4" cy="942.9" r="2.8" fill="#dcd7e2"/><circle cx="312.0" cy="900.7" r="2.8" fill="#e4dad7"/><circle cx="241.1" cy="968.9" r="2.8" fill="#d9d1e3"/><circle cx="252.3" cy="944.5" r="2.8" fill="#e1dfdf"/><circle cx="311.1" cy="920.2" r="2.8" fill="#dbd7e2"/><circle cx="332.0" cy="898.2" r="2.8" fill="#e0dfe0"/><circle cx="348.6" cy="884.2" r="2.8" fill="#e1dedd"/><circle cx="257.6" cy="948.0" r="2.8" fill="#dedbe1"/><circle cx="292.2" cy="891.2" r="2.8" fill="#eecbc2"/><circle cx="267.7" cy="932.2" r="2.8" fill="#e2dddc"/><circle cx="255.6" cy="958.1" r="2.8" fill="#dad3e3"/><circle cx="276.1" cy="922.7" r="2.8" fill="#e4dad7"/><circle cx="277.1" cy="987.4" r="2.8" fill="#c5adea"/><circle cx="212.0" cy="952.2" r="2.8" fill="#e9d3ce"/><circle cx="241.9" cy="962.1" r="2.8" fill="#dcd7e2"/><circle cx="376.2" cy="885.3" r="2.8" fill="#d9d2e3"/><circle cx="389.9" cy="855.8" r="2.8" fill="#e3dcda"/><circle cx="264.5" cy="948.6" r="2.8" fill="#dbd7e2"/><circle cx="360.8" cy="865.8" r="2.8" fill="#e7d6d2"/><circle cx="275.1" cy="910.0" r="2.8" fill="#ead1ca"/><circle cx="270.9" cy="946.5" r="2.8" fill="#dbd5e2"/><circle cx="356.6" cy="894.3" r="2.8" fill="#dbd5e2"/><circle cx="316.1" cy="917.4" r="2.8" fill="#dbd6e2"/><circle cx="330.8" cy="892.7" r="2.8" fill="#e3dcdb"/><circle cx="271.7" cy="938.2" r="2.8" fill="#dedce1"/><circle cx="294.2" cy="955.1" r="2.8" fill="#d0c1e7"/><circle cx="288.4" cy="920.0" r="2.8" fill="#e2dddc"/><circle cx="201.6" cy="947.4" r="2.8" fill="#edccc3"/><circle cx="246.6" cy="957.0" r="2.8" fill="#ddd9e2"/><circle cx="398.0" cy="872.0" r="2.8" fill="#d9d3e3"/><circle cx="287.6" cy="917.7" r="2.8" fill="#e3dcda"/><circle cx="239.2" cy="950.8" r="2.8" fill="#e1dedd"/><circle cx="401.2" cy="856.6" r="2.8" fill="#dfdfe0"/><circle cx="259.9" cy="969.5" r="2.8" fill="#d3c6e5"/><circle cx="280.4" cy="958.6" r="2.8" fill="#d2c5e6"/><circle cx="373.4" cy="856.1" r="2.8" fill="#e8d5d0"/><circle cx="425.8" cy="837.9" r="2.8" fill="#e1dede"/><circle cx="246.7" cy="949.3" r="2.8" fill="#e0e0e0"/><circle cx="310.0" cy="915.4" r="2.8" fill="#dedce1"/><circle cx="295.3" cy="929.6" r="2.8" fill="#dcd7e2"/><circle cx="255.3" cy="974.2" r="2.8" fill="#d2c5e6"/><circle cx="237.2" cy="935.7" r="2.8" fill="#e9d3cd"/><circle cx="316.0" cy="909.5" r="2.8" fill="#dfdee1"/><circle cx="262.3" cy="954.9" r="2.8" fill="#d9d2e3"/><circle cx="358.8" cy="876.9" r="2.8" fill="#e2dddc"/><circle cx="295.6" cy="907.9" r="2.8" fill="#e6d8d5"/><circle cx="412.1" cy="854.0" r="2.8" fill="#dedbe1"/><circle cx="267.1" cy="931.9" r="2.8" fill="#e2dddb"/><circle cx="251.0" cy="968.4" r="2.8" fill="#d6cce4"/><circle cx="244.3" cy="928.8" r="2.8" fill="#ead1ca"/><circle cx="372.6" cy="877.8" r="2.8" fill="#dedbe1"/><circle cx="433.7" cy="836.5" r="2.8" fill="#dfdfe0"/><circle cx="316.4" cy="911.3" r="2.8" fill="#dedce1"/><circle cx="366.0" cy="878.7" r="2.8" fill="#dfdee0"/><circle cx="212.3" cy="953.4" r="2.8" fill="#e8d4cf"/><circle cx="265.2" cy="921.4" r="2.8" fill="#e8d5d0"/><circle cx="356.1" cy="873.4" r="2.8" fill="#e5dad7"/><circle cx="334.5" cy="883.1" r="2.8" fill="#e6d7d3"/><circle cx="426.6" cy="834.2" r="2.8" fill="#e3dcdb"/><circle cx="386.6" cy="857.3" r="2.8" fill="#e3dbd9"/><circle cx="334.5" cy="917.5" r="2.8" fill="#d6cce4"/><circle cx="274.9" cy="952.3" r="2.8" fill="#d7cee4"/><circle cx="284.5" cy="953.1" r="2.8" fill="#d4c8e5"/><circle cx="263.6" cy="965.8" r="2.8" fill="#d4c8e5"/><circle cx="308.0" cy="930.8" r="2.8" fill="#d7cfe4"/><circle cx="395.4" cy="853.9" r="2.8" fill="#e2dddb"/><circle cx="257.2" cy="960.3" r="2.8" fill="#d8d0e3"/><circle cx="351.9" cy="887.1" r="2.8" fill="#dfdee0"/><circle cx="340.0" cy="885.8" r="2.8" fill="#e3dcda"/><circle cx="370.9" cy="875.4" r="2.8" fill="#dfdee0"/><circle cx="319.6" cy="905.6" r="2.8" fill="#e0dfe0"/><circle cx="187.3" cy="951.8" r="2.8" fill="#efc9bf"/><circle cx="259.2" cy="939.0" r="2.8" fill="#e1dede"/><circle cx="429.2" cy="836.1" r="2.8" fill="#e1dfde"/><circle cx="294.5" cy="893.8" r="2.8" fill="#eccec6"/><circle cx="324.4" cy="909.5" r="2.8" fill="#ddd9e2"/><circle cx="285.2" cy="924.2" r="2.8" fill="#e1dfdf"/><circle cx="266.7" cy="943.8" r="2.8" fill="#dddae1"/><circle cx="388.5" cy="859.2" r="2.8" fill="#e2dddc"/><circle cx="260.0" cy="922.3" r="2.8" fill="#e9d3cd"/><circle cx="241.7" cy="945.3" r="2.8" fill="#e3dbd9"/><circle cx="419.2" cy="846.1" r="2.8" fill="#dfdee0"/><circle cx="236.1" cy="973.6" r="2.8" fill="#d8d0e4"/><circle cx="279.3" cy="974.8" r="2.8" fill="#cab7e9"/><circle cx="352.9" cy="872.7" r="2.8" fill="#e6d8d4"/><circle cx="375.0" cy="887.4" r="2.8" fill="#d9d1e3"/><circle cx="290.4" cy="920.1" r="2.8" fill="#e1dede"/><circle cx="305.1" cy="923.3" r="2.8" fill="#dcd7e2"/><circle cx="261.6" cy="929.6" r="2.8" fill="#e5d9d6"/><circle cx="322.6" cy="895.3" r="2.8" fill="#e4dbd8"/><circle cx="250.6" cy="1001.2" r="2.8" fill="#c6afea"/><circle cx="282.1" cy="997.2" r="2.8" fill="#bda2ec"/><circle cx="248.6" cy="979.6" r="2.8" fill="#d1c4e6"/><circle cx="256.8" cy="950.6" r="2.8" fill="#ddd9e2"/><circle cx="273.0" cy="930.0" r="2.8" fill="#e2dedd"/><circle cx="285.1" cy="921.5" r="2.8" fill="#e2dddc"/><circle cx="230.1" cy="947.8" r="2.8" fill="#e6d8d5"/><circle cx="339.9" cy="886.5" r="2.8" fill="#e3dcda"/><circle cx="338.8" cy="881.4" r="2.8" fill="#e6d8d4"/><circle cx="213.5" cy="935.7" r="2.8" fill="#efc9be"/><circle cx="248.6" cy="934.0" r="2.8" fill="#e7d6d2"/><circle cx="323.3" cy="912.7" r="2.8" fill="#dbd7e2"/><circle cx="250.0" cy="954.6" r="2.8" fill="#ddd9e2"/><circle cx="368.7" cy="868.4" r="2.8" fill="#e3dcda"/><circle cx="429.4" cy="852.7" r="2.8" fill="#d9d3e3"/><circle cx="234.6" cy="926.9" r="2.8" fill="#edcbc2"/><circle cx="395.8" cy="871.2" r="2.8" fill="#dad4e3"/><circle cx="314.4" cy="926.7" r="2.8" fill="#d8cfe4"/><circle cx="368.9" cy="870.8" r="2.8" fill="#e2dddc"/><circle cx="257.0" cy="975.6" r="2.8" fill="#d1c3e6"/><circle cx="426.7" cy="833.0" r="2.8" fill="#e3dbd9"/><circle cx="425.4" cy="840.7" r="2.8" fill="#e0e0e0"/><circle cx="339.6" cy="890.0" r="2.8" fill="#e1dedd"/><circle cx="322.5" cy="899.6" r="2.8" fill="#e2dedd"/><circle cx="278.0" cy="972.7" r="2.8" fill="#ccbae8"/><circle cx="260.1" cy="950.1" r="2.8" fill="#dcd8e2"/><circle cx="394.7" cy="861.4" r="2.8" fill="#dfdee0"/><circle cx="298.5" cy="910.6" r="2.8" fill="#e4dbd9"/><circle cx="277.5" cy="950.6" r="2.8" fill="#d7cee4"/><circle cx="356.4" cy="875.0" r="2.8" fill="#e4dbd9"/><circle cx="329.0" cy="895.2" r="2.8" fill="#e2dddc"/><circle cx="233.8" cy="949.9" r="2.8" fill="#e4dbd9"/><circle cx="266.1" cy="955.5" r="2.8" fill="#d8d0e4"/><circle cx="338.5" cy="900.2" r="2.8" fill="#dddae1"/><circle cx="332.9" cy="892.2" r="2.8" fill="#e2dddc"/><circle cx="323.9" cy="904.8" r="2.8" fill="#dfdee1"/><circle cx="247.7" cy="938.8" r="2.8" fill="#e5d9d6"/><circle cx="327.3" cy="898.5" r="2.8" fill="#e1dfdf"/><circle cx="373.5" cy="888.9" r="2.8" fill="#d8d1e3"/><circle cx="325.0" cy="895.7" r="2.8" fill="#e3dcda"/><circle cx="331.6" cy="907.9" r="2.8" fill="#dbd7e2"/><circle cx="327.4" cy="907.4" r="2.8" fill="#ddd9e1"/><circle cx="243.7" cy="954.7" r="2.8" fill="#dedde1"/><circle cx="254.0" cy="932.3" r="2.8" fill="#e6d7d4"/><circle cx="361.3" cy="886.9" r="2.8" fill="#ddd9e2"/><circle cx="281.8" cy="912.6" r="2.8" fill="#e7d5d1"/><circle cx="361.8" cy="890.7" r="2.8" fill="#dbd5e2"/><circle cx="280.9" cy="919.2" r="2.8" fill="#e5dad7"/><circle cx="279.7" cy="935.7" r="2.8" fill="#dddae1"/><circle cx="237.5" cy="975.5" r="2.8" fill="#d7cde4"/><circle cx="373.8" cy="873.3" r="2.8" fill="#dfdfe0"/><circle cx="361.4" cy="857.9" r="2.8" fill="#ead1cb"/><circle cx="345.6" cy="882.6" r="2.8" fill="#e3dcda"/><circle cx="256.1" cy="949.5" r="2.8" fill="#dddae1"/><circle cx="275.8" cy="932.6" r="2.8" fill="#dfdfe0"/><circle cx="273.3" cy="926.5" r="2.8" fill="#e3dcda"/><circle cx="273.9" cy="916.5" r="2.8" fill="#e8d5d0"/><circle cx="207.2" cy="948.9" r="2.8" fill="#ebcfc8"/><circle cx="245.0" cy="949.8" r="2.8" fill="#e0e0e0"/><circle cx="280.0" cy="944.8" r="2.8" fill="#d9d2e3"/><circle cx="275.5" cy="955.3" r="2.8" fill="#d5cbe5"/><circle cx="433.3" cy="836.9" r="2.8" fill="#dfdfe0"/><circle cx="283.2" cy="925.9" r="2.8" fill="#e1dfdf"/><circle cx="421.5" cy="853.9" r="2.8" fill="#dbd6e2"/><circle cx="376.6" cy="863.3" r="2.8" fill="#e3dbd9"/><circle cx="316.0" cy="897.1" r="2.8" fill="#e5d9d6"/><circle cx="219.8" cy="955.0" r="2.8" fill="#e5d9d5"/><circle cx="314.3" cy="888.6" r="2.8" fill="#e9d3cd"/><circle cx="293.7" cy="916.3" r="2.8" fill="#e2dddc"/><circle cx="323.0" cy="922.1" r="2.8" fill="#d7cee4"/><circle cx="266.6" cy="922.2" r="2.8" fill="#e7d6d1"/><circle cx="248.5" cy="956.5" r="2.8" fill="#dcd8e2"/><circle cx="248.1" cy="925.6" r="2.8" fill="#ebd0c9"/><circle cx="240.5" cy="950.5" r="2.8" fill="#e1dede"/><circle cx="213.3" cy="947.2" r="2.8" fill="#ebd1ca"/><circle cx="311.2" cy="910.2" r="2.8" fill="#e0e0e0"/><circle cx="313.1" cy="916.3" r="2.8" fill="#ddd9e2"/><circle cx="278.3" cy="934.1" r="2.8" fill="#dedce1"/><circle cx="393.8" cy="858.0" r="2.8" fill="#e1dfde"/><circle cx="359.9" cy="874.6" r="2.8" fill="#e3dcda"/><circle cx="375.9" cy="874.9" r="2.8" fill="#dedce1"/><circle cx="243.2" cy="967.8" r="2.8" fill="#d9d1e3"/><circle cx="303.5" cy="923.1" r="2.8" fill="#dcd8e2"/><circle cx="305.1" cy="949.0" r="2.8" fill="#d0c0e7"/><circle cx="360.0" cy="873.4" r="2.8" fill="#e3dbd9"/><circle cx="262.0" cy="908.4" r="2.8" fill="#eecac1"/><circle cx="390.3" cy="861.4" r="2.8" fill="#e0e0e0"/><circle cx="265.1" cy="941.5" r="2.8" fill="#dedde1"/><circle cx="265.7" cy="967.9" r="2.8" fill="#d2c5e6"/><circle cx="377.2" cy="875.5" r="2.8" fill="#dddbe1"/><circle cx="252.8" cy="937.6" r="2.8" fill="#e4dbd8"/><circle cx="314.9" cy="898.9" r="2.8" fill="#e4dad7"/><circle cx="345.5" cy="911.9" r="2.8" fill="#d6cbe4"/><circle cx="281.3" cy="945.9" r="2.8" fill="#d8d0e4"/><circle cx="320.2" cy="895.5" r="2.8" fill="#e5dad7"/><circle cx="353.0" cy="879.2" r="2.8" fill="#e3dcdb"/><circle cx="209.2" cy="937.0" r="2.8" fill="#efc8bd"/><circle cx="285.3" cy="935.7" r="2.8" fill="#dbd7e2"/><circle cx="326.2" cy="882.8" r="2.8" fill="#e9d3ce"/><circle cx="357.7" cy="866.1" r="2.8" fill="#e8d5d0"/><circle cx="271.3" cy="901.1" r="2.8" fill="#efc9bf"/><circle cx="355.5" cy="874.4" r="2.8" fill="#e4dad7"/><circle cx="241.8" cy="960.1" r="2.8" fill="#dcd9e2"/><circle cx="217.4" cy="954.2" r="2.8" fill="#e6d7d3"/><circle cx="323.3" cy="891.0" r="2.8" fill="#e6d8d4"/><circle cx="309.2" cy="897.0" r="2.8" fill="#e7d6d2"/><circle cx="324.9" cy="884.5" r="2.8" fill="#e8d4cf"/><circle cx="310.7" cy="897.7" r="2.8" fill="#e6d7d4"/><circle cx="360.7" cy="866.7" r="2.8" fill="#e6d7d3"/><circle cx="241.8" cy="944.6" r="2.8" fill="#e4dbd9"/><circle cx="309.8" cy="896.5" r="2.8" fill="#e7d6d2"/><circle cx="249.3" cy="968.7" r="2.8" fill="#d6cde4"/><circle cx="317.7" cy="908.3" r="2.8" fill="#dfdee0"/><circle cx="273.5" cy="928.5" r="2.8" fill="#e2dddc"/><circle cx="353.5" cy="867.4" r="2.8" fill="#e8d4cf"/><circle cx="286.0" cy="928.5" r="2.8" fill="#dfdde1"/><circle cx="261.2" cy="964.9" r="2.8" fill="#d5cae5"/><circle cx="339.2" cy="881.6" r="2.8" fill="#e6d8d5"/><circle cx="261.8" cy="938.4" r="2.8" fill="#e1dfdf"/><circle cx="382.9" cy="864.7" r="2.8" fill="#e1dfde"/><circle cx="249.6" cy="966.5" r="2.8" fill="#d7cfe4"/><circle cx="236.9" cy="964.4" r="2.8" fill="#dcd8e2"/><circle cx="384.2" cy="864.2" r="2.8" fill="#e1dfdf"/><circle cx="343.5" cy="876.8" r="2.8" fill="#e7d7d3"/><circle cx="269.0" cy="925.0" r="2.8" fill="#e5d9d5"/><circle cx="291.5" cy="916.7" r="2.8" fill="#e3dcdb"/><circle cx="394.4" cy="873.1" r="2.8" fill="#dad4e3"/><circle cx="349.6" cy="895.4" r="2.8" fill="#dcd8e2"/><circle cx="276.8" cy="914.4" r="2.8" fill="#e8d5d0"/><circle cx="255.7" cy="927.9" r="2.8" fill="#e8d5d0"/><circle cx="253.8" cy="992.1" r="2.8" fill="#cab6e9"/><circle cx="344.2" cy="885.9" r="2.8" fill="#e2dddc"/><circle cx="343.0" cy="882.4" r="2.8" fill="#e4dad8"/><circle cx="340.8" cy="893.6" r="2.8" fill="#dfdee0"/><circle cx="299.1" cy="912.2" r="2.8" fill="#e3dddb"/><circle cx="282.0" cy="933.7" r="2.8" fill="#dddae1"/><circle cx="240.6" cy="1014.5" r="2.8" fill="#c2a9eb"/><circle cx="320.5" cy="906.1" r="2.8" fill="#dfdee0"/><circle cx="280.7" cy="907.5" r="2.8" fill="#ead1cb"/><circle cx="269.3" cy="948.6" r="2.8" fill="#dad4e3"/><circle cx="266.7" cy="941.2" r="2.8" fill="#dedce1"/><circle cx="299.7" cy="935.3" r="2.8" fill="#d8cfe4"/><circle cx="405.1" cy="838.0" r="2.8" fill="#e7d6d1"/><circle cx="383.4" cy="870.5" r="2.8" fill="#dedce1"/><circle cx="273.0" cy="1006.7" r="2.8" fill="#bb9eed"/><circle cx="394.1" cy="850.7" r="2.8" fill="#e4dad7"/><circle cx="318.4" cy="878.9" r="2.8" fill="#eccdc5"/><circle cx="261.8" cy="942.5" r="2.8" fill="#dfdee1"/><circle cx="395.1" cy="861.4" r="2.8" fill="#dfdee1"/><circle cx="309.7" cy="899.9" r="2.8" fill="#e5d9d5"/><circle cx="289.8" cy="907.2" r="2.8" fill="#e8d5d0"/><circle cx="294.8" cy="921.0" r="2.8" fill="#dfdfe0"/><circle cx="218.8" cy="942.1" r="2.8" fill="#ebcfc8"/><circle cx="213.6" cy="942.3" r="2.8" fill="#eccdc5"/><circle cx="230.7" cy="947.6" r="2.8" fill="#e6d8d5"/><circle cx="297.3" cy="919.7" r="2.8" fill="#dfdfe0"/><circle cx="437.8" cy="839.7" r="2.8" fill="#dddae1"/><circle cx="247.6" cy="927.8" r="2.8" fill="#ead2cb"/><circle cx="262.3" cy="975.8" r="2.8" fill="#cfc0e7"/><circle cx="344.2" cy="895.4" r="2.8" fill="#dddbe1"/><circle cx="239.4" cy="944.9" r="2.8" fill="#e4dad7"/><circle cx="284.8" cy="930.2" r="2.8" fill="#dedce1"/><circle cx="289.7" cy="927.4" r="2.8" fill="#dedce1"/><circle cx="359.1" cy="880.6" r="2.8" fill="#e0e0e0"/><circle cx="342.7" cy="884.8" r="2.8" fill="#e3dcda"/><circle cx="390.6" cy="861.8" r="2.8" fill="#e0e0e0"/><circle cx="368.2" cy="867.2" r="2.8" fill="#e4dad8"/><circle cx="295.7" cy="949.5" r="2.8" fill="#d2c5e6"/><circle cx="235.8" cy="934.8" r="2.8" fill="#ead1cb"/><circle cx="245.9" cy="985.9" r="2.8" fill="#cfbfe7"/><circle cx="243.7" cy="983.8" r="2.8" fill="#d1c3e6"/><circle cx="302.4" cy="887.3" r="2.8" fill="#edcdc4"/><circle cx="271.0" cy="996.4" r="2.8" fill="#c2a9eb"/><circle cx="325.0" cy="907.5" r="2.8" fill="#dddbe1"/><circle cx="258.0" cy="944.4" r="2.8" fill="#dfdee0"/><circle cx="380.7" cy="866.5" r="2.8" fill="#e1dfdf"/><circle cx="257.1" cy="949.7" r="2.8" fill="#dddae1"/><circle cx="410.0" cy="845.7" r="2.8" fill="#e2dddc"/><circle cx="318.6" cy="928.8" r="2.8" fill="#d5cbe5"/><circle cx="257.0" cy="948.4" r="2.8" fill="#dedbe1"/><circle cx="327.8" cy="887.2" r="2.8" fill="#e6d7d3"/><circle cx="352.6" cy="877.0" r="2.8" fill="#e4dbd8"/><circle cx="284.6" cy="962.7" r="2.8" fill="#cfbfe7"/><circle cx="270.1" cy="937.2" r="2.8" fill="#dfdee0"/><circle cx="419.9" cy="834.1" r="2.8" fill="#e5d9d6"/><circle cx="216.7" cy="942.0" r="2.8" fill="#eccec7"/><circle cx="313.8" cy="896.9" r="2.8" fill="#e6d8d5"/><circle cx="241.2" cy="943.4" r="2.8" fill="#e5dad7"/><circle cx="372.4" cy="874.7" r="2.8" fill="#dfdee0"/><circle cx="422.7" cy="841.3" r="2.8" fill="#e0e0df"/><circle cx="303.2" cy="935.4" r="2.8" fill="#d7cde4"/><circle cx="265.6" cy="957.1" r="2.8" fill="#d7cee4"/><circle cx="291.6" cy="955.0" r="2.8" fill="#d1c2e6"/><circle cx="256.7" cy="946.0" r="2.8" fill="#dfdde1"/><circle cx="370.0" cy="885.9" r="2.8" fill="#dbd5e2"/><circle cx="323.6" cy="891.7" r="2.8" fill="#e5d9d5"/><circle cx="260.9" cy="936.8" r="2.8" fill="#e2dedc"/><circle cx="263.3" cy="922.0" r="2.8" fill="#e8d4cf"/><circle cx="346.0" cy="887.6" r="2.8" fill="#e1dfdf"/><circle cx="272.4" cy="927.3" r="2.8" fill="#e3dcda"/><circle cx="252.6" cy="939.6" r="2.8" fill="#e3dcda"/><circle cx="407.7" cy="851.9" r="2.8" fill="#e0dfe0"/><circle cx="410.0" cy="837.1" r="2.8" fill="#e6d7d3"/><circle cx="415.5" cy="860.8" r="2.8" fill="#dad3e3"/><circle cx="241.8" cy="965.3" r="2.8" fill="#dad4e3"/><circle cx="409.9" cy="841.3" r="2.8" fill="#e4dad7"/><circle cx="419.5" cy="843.0" r="2.8" fill="#e1dfdf"/><circle cx="399.1" cy="855.2" r="2.8" fill="#e1dfdf"/><circle cx="251.7" cy="999.9" r="2.8" fill="#c6b0ea"/><circle cx="243.9" cy="939.4" r="2.8" fill="#e6d8d5"/><circle cx="244.5" cy="985.5" r="2.8" fill="#d0c1e7"/><circle cx="351.4" cy="886.6" r="2.8" fill="#dfdfe0"/><circle cx="247.1" cy="977.0" r="2.8" fill="#d3c7e5"/><circle cx="257.6" cy="934.6" r="2.8" fill="#e4dbd8"/><circle cx="341.7" cy="900.7" r="2.8" fill="#dcd8e2"/><circle cx="264.5" cy="974.7" r="2.8" fill="#cfbfe7"/><circle cx="380.1" cy="853.0" r="2.8" fill="#e7d6d1"/><circle cx="398.5" cy="859.8" r="2.8" fill="#dfdde1"/><circle cx="245.2" cy="1006.8" r="2.8" fill="#c5adea"/><circle cx="282.1" cy="940.1" r="2.8" fill="#dad5e3"/><circle cx="178.0" cy="954.2" r="2.8" fill="#f0c6bb"/><circle cx="366.4" cy="860.2" r="2.8" fill="#e8d5d0"/><circle cx="337.9" cy="890.6" r="2.8" fill="#e2dedd"/><circle cx="331.7" cy="888.0" r="2.8" fill="#e5dad7"/><circle cx="263.0" cy="937.8" r="2.8" fill="#e1dfdf"/><circle cx="417.1" cy="832.6" r="2.8" fill="#e6d7d3"/><circle cx="261.3" cy="914.2" r="2.8" fill="#eccec6"/><circle cx="253.2" cy="1000.1" r="2.8" fill="#c6afea"/><circle cx="328.2" cy="910.2" r="2.8" fill="#dbd6e2"/><circle cx="257.8" cy="981.5" r="2.8" fill="#cebde7"/><circle cx="358.7" cy="895.7" r="2.8" fill="#d9d3e3"/><circle cx="359.4" cy="890.0" r="2.8" fill="#dcd7e2"/><circle cx="420.6" cy="835.2" r="2.8" fill="#e4dad8"/><circle cx="273.5" cy="946.3" r="2.8" fill="#dad4e3"/><circle cx="353.9" cy="890.1" r="2.8" fill="#dddae1"/><circle cx="394.2" cy="860.3" r="2.8" fill="#e0dfe0"/><circle cx="347.1" cy="880.1" r="2.8" fill="#e4dbd8"/><circle cx="291.8" cy="919.3" r="2.8" fill="#e1dede"/><circle cx="368.3" cy="890.2" r="2.8" fill="#d9d2e3"/><circle cx="291.2" cy="941.9" r="2.8" fill="#d7cee4"/><circle cx="271.8" cy="946.4" r="2.8" fill="#dad5e3"/><circle cx="356.6" cy="893.9" r="2.8" fill="#dbd5e2"/><circle cx="330.7" cy="900.5" r="2.8" fill="#dfdee1"/><circle cx="372.4" cy="885.9" r="2.8" fill="#dad4e3"/><circle cx="400.0" cy="849.3" r="2.8" fill="#e3dbd9"/><circle cx="245.0" cy="978.5" r="2.8" fill="#d3c7e5"/><circle cx="286.1" cy="958.0" r="2.8" fill="#d1c3e6"/><circle cx="260.2" cy="962.7" r="2.8" fill="#d6cce4"/><circle cx="311.8" cy="909.5" r="2.8" fill="#e0e0e0"/><circle cx="275.7" cy="980.4" r="2.8" fill="#c9b4e9"/><circle cx="339.2" cy="911.0" r="2.8" fill="#d8d0e4"/><circle cx="301.2" cy="906.4" r="2.8" fill="#e5d9d6"/><circle cx="361.8" cy="884.0" r="2.8" fill="#dedce1"/><circle cx="258.8" cy="961.6" r="2.8" fill="#d7cee4"/><circle cx="375.1" cy="858.0" r="2.8" fill="#e6d7d3"/><circle cx="276.5" cy="939.7" r="2.8" fill="#dcd8e2"/><circle cx="349.9" cy="880.8" r="2.8" fill="#e3dcdb"/><circle cx="353.4" cy="879.6" r="2.8" fill="#e2dddb"/><circle cx="320.2" cy="915.8" r="2.8" fill="#dbd6e2"/><circle cx="298.5" cy="940.0" r="2.8" fill="#d6cce4"/><circle cx="285.7" cy="930.7" r="2.8" fill="#dedbe1"/><circle cx="247.5" cy="942.3" r="2.8" fill="#e3dcda"/><circle cx="350.3" cy="903.4" r="2.8" fill="#d8d0e3"/><circle cx="265.1" cy="908.3" r="2.8" fill="#edcbc2"/><circle cx="242.9" cy="967.2" r="2.8" fill="#d9d2e3"/><circle cx="330.1" cy="920.9" r="2.8" fill="#d6cce4"/><circle cx="414.3" cy="843.2" r="2.8" fill="#e2dddc"/><circle cx="333.6" cy="900.7" r="2.8" fill="#dedce1"/><circle cx="268.8" cy="933.5" r="2.8" fill="#e1dfde"/><circle cx="248.0" cy="972.2" r="2.8" fill="#d5cbe5"/><circle cx="389.8" cy="860.4" r="2.8" fill="#e1dfde"/><circle cx="416.5" cy="846.4" r="2.8" fill="#e0dfe0"/><circle cx="327.0" cy="902.1" r="2.8" fill="#dfdee0"/><circle cx="306.4" cy="906.9" r="2.8" fill="#e3dcda"/><circle cx="224.9" cy="953.7" r="2.8" fill="#e4dad7"/><circle cx="281.2" cy="965.7" r="2.8" fill="#cebee7"/><circle cx="374.2" cy="885.1" r="2.8" fill="#dad4e3"/><circle cx="319.9" cy="903.0" r="2.8" fill="#e1dfde"/><circle cx="247.5" cy="962.8" r="2.8" fill="#dad3e3"/><circle cx="421.7" cy="845.3" r="2.8" fill="#dfdee1"/><circle cx="253.5" cy="955.1" r="2.8" fill="#dbd7e2"/><circle cx="249.2" cy="960.7" r="2.8" fill="#dad4e3"/><circle cx="336.2" cy="897.8" r="2.8" fill="#dfdde1"/><circle cx="187.1" cy="929.1" r="2.8" fill="#f6b8a8"/><circle cx="322.0" cy="907.9" r="2.8" fill="#dedce1"/><circle cx="290.9" cy="945.3" r="2.8" fill="#d6cbe5"/><circle cx="356.1" cy="869.0" r="2.8" fill="#e7d7d2"/><circle cx="379.6" cy="865.9" r="2.8" fill="#e1dede"/><circle cx="410.6" cy="850.1" r="2.8" fill="#e0dfe0"/><circle cx="293.5" cy="946.7" r="2.8" fill="#d4c9e5"/><circle cx="248.1" cy="976.4" r="2.8" fill="#d3c7e5"/><circle cx="221.2" cy="946.2" r="2.8" fill="#e9d3ce"/><circle cx="317.3" cy="885.8" r="2.8" fill="#ead2cc"/><circle cx="394.9" cy="863.2" r="2.8" fill="#dedce1"/><circle cx="257.7" cy="943.9" r="2.8" fill="#dfdfe0"/><circle cx="389.9" cy="856.1" r="2.8" fill="#e3dcda"/><circle cx="277.6" cy="942.9" r="2.8" fill="#dad5e3"/><circle cx="364.5" cy="883.0" r="2.8" fill="#dedbe1"/><circle cx="221.7" cy="923.7" r="2.8" fill="#f1c4b8"/><circle cx="379.4" cy="889.1" r="2.8" fill="#d7cde4"/><circle cx="274.4" cy="940.9" r="2.8" fill="#dcd8e2"/><circle cx="320.3" cy="898.9" r="2.8" fill="#e3dcdb"/><circle cx="274.1" cy="940.9" r="2.8" fill="#dcd8e2"/><circle cx="260.3" cy="963.8" r="2.8" fill="#d6cbe4"/><circle cx="276.5" cy="922.2" r="2.8" fill="#e4dad7"/><circle cx="293.9" cy="920.4" r="2.8" fill="#e0e0e0"/><circle cx="283.4" cy="954.6" r="2.8" fill="#d3c7e5"/><circle cx="304.1" cy="922.1" r="2.8" fill="#dcd9e2"/><circle cx="331.8" cy="886.4" r="2.8" fill="#e5d8d5"/><circle cx="351.8" cy="890.3" r="2.8" fill="#dedbe1"/><circle cx="245.0" cy="958.5" r="2.8" fill="#dcd8e2"/><circle cx="252.3" cy="934.2" r="2.8" fill="#e6d8d4"/><circle cx="252.8" cy="944.8" r="2.8" fill="#e0e0df"/><circle cx="419.0" cy="851.0" r="2.8" fill="#dddae1"/><circle cx="283.3" cy="897.4" r="2.8" fill="#edcbc3"/><circle cx="263.2" cy="919.9" r="2.8" fill="#e9d3cd"/><circle cx="255.6" cy="934.8" r="2.8" fill="#e4dad7"/><circle cx="412.7" cy="846.0" r="2.8" fill="#e1dfde"/><circle cx="292.6" cy="916.8" r="2.8" fill="#e2dddc"/><circle cx="285.0" cy="913.0" r="2.8" fill="#e6d7d3"/><circle cx="359.0" cy="874.7" r="2.8" fill="#e3dcda"/><circle cx="260.9" cy="986.6" r="2.8" fill="#cab7e9"/><circle cx="241.8" cy="945.8" r="2.8" fill="#e3dcda"/><circle cx="282.0" cy="927.6" r="2.8" fill="#e0e0e0"/><circle cx="377.6" cy="871.8" r="2.8" fill="#dfdee0"/><circle cx="261.2" cy="941.7" r="2.8" fill="#dfdfe0"/><circle cx="327.0" cy="912.0" r="2.8" fill="#dbd5e2"/><circle cx="278.4" cy="955.5" r="2.8" fill="#d4c9e5"/><circle cx="250.1" cy="931.1" r="2.8" fill="#e8d5d0"/><circle cx="248.0" cy="1002.4" r="2.8" fill="#c6b0ea"/><circle cx="241.0" cy="965.5" r="2.8" fill="#dad4e3"/><circle cx="258.6" cy="940.1" r="2.8" fill="#e1dfde"/><circle cx="297.6" cy="916.9" r="2.8" fill="#e1dfdf"/><circle cx="297.6" cy="909.5" r="2.8" fill="#e4dad7"/><circle cx="249.7" cy="963.0" r="2.8" fill="#d9d2e3"/><circle cx="205.0" cy="947.0" r="2.8" fill="#edcdc4"/><circle cx="312.4" cy="881.6" r="2.8" fill="#edcdc4"/><circle cx="253.0" cy="944.9" r="2.8" fill="#e0e0e0"/><circle cx="328.9" cy="878.2" r="2.8" fill="#ead2cb"/><circle cx="348.6" cy="886.8" r="2.8" fill="#e0e0e0"/><circle cx="438.4" cy="836.6" r="2.8" fill="#dedce1"/><circle cx="215.2" cy="950.9" r="2.8" fill="#e8d4cf"/><circle cx="363.6" cy="883.2" r="2.8" fill="#dedbe1"/><circle cx="400.5" cy="857.6" r="2.8" fill="#dfdee0"/><circle cx="278.5" cy="931.9" r="2.8" fill="#dfdee0"/><circle cx="384.0" cy="854.9" r="2.8" fill="#e5d9d5"/><circle cx="360.8" cy="887.0" r="2.8" fill="#ddd9e1"/><circle cx="398.0" cy="851.2" r="2.8" fill="#e3dcda"/><circle cx="242.4" cy="956.3" r="2.8" fill="#dedce1"/><circle cx="240.1" cy="965.3" r="2.8" fill="#dbd5e2"/><circle cx="229.1" cy="948.1" r="2.8" fill="#e6d8d4"/><circle cx="323.4" cy="929.5" r="2.8" fill="#d4c8e5"/><circle cx="381.7" cy="866.4" r="2.8" fill="#e0e0e0"/><circle cx="307.8" cy="926.8" r="2.8" fill="#d9d3e3"/><circle cx="251.1" cy="956.2" r="2.8" fill="#dcd7e2"/><circle cx="318.2" cy="898.0" r="2.8" fill="#e4dbd8"/><circle cx="294.7" cy="895.2" r="2.8" fill="#eccfc7"/><circle cx="265.3" cy="967.0" r="2.8" fill="#d3c6e6"/><circle cx="242.0" cy="967.4" r="2.8" fill="#d9d2e3"/><circle cx="249.3" cy="972.6" r="2.8" fill="#d5c9e5"/><circle cx="270.3" cy="951.6" r="2.8" fill="#d8d1e3"/><circle cx="242.5" cy="943.5" r="2.8" fill="#e4dad8"/><circle cx="368.7" cy="870.6" r="2.8" fill="#e2dddc"/><circle cx="237.1" cy="938.1" r="2.8" fill="#e8d4cf"/><circle cx="250.4" cy="992.9" r="2.8" fill="#cab7e9"/><circle cx="356.4" cy="882.3" r="2.8" fill="#e0e0e0"/><circle cx="369.3" cy="868.2" r="2.8" fill="#e3dcda"/><circle cx="248.1" cy="949.0" r="2.8" fill="#e0dfe0"/><circle cx="224.7" cy="946.8" r="2.8" fill="#e8d5d0"/><circle cx="272.0" cy="940.0" r="2.8" fill="#dddae1"/><circle cx="245.7" cy="925.7" r="2.8" fill="#ebcfc8"/><circle cx="421.5" cy="847.0" r="2.8" fill="#dedce1"/><circle cx="336.2" cy="903.2" r="2.8" fill="#dcd8e2"/><circle cx="428.6" cy="833.0" r="2.8" fill="#e3dcdb"/><circle cx="350.0" cy="907.4" r="2.8" fill="#d6cde4"/><circle cx="288.6" cy="942.5" r="2.8" fill="#d7cfe4"/><circle cx="365.9" cy="885.2" r="2.8" fill="#dcd8e2"/><circle cx="247.1" cy="939.6" r="2.8" fill="#e5dad7"/><circle cx="264.1" cy="943.5" r="2.8" fill="#dedbe1"/><circle cx="427.0" cy="841.5" r="2.8" fill="#dfdee0"/><circle cx="245.9" cy="944.8" r="2.8" fill="#e2dddb"/><circle cx="280.3" cy="940.4" r="2.8" fill="#dbd5e2"/><circle cx="403.3" cy="854.1" r="2.8" fill="#e0e0e0"/><circle cx="406.7" cy="856.8" r="2.8" fill="#dedbe1"/><circle cx="275.7" cy="920.4" r="2.8" fill="#e6d8d5"/><circle cx="307.4" cy="934.9" r="2.8" fill="#d6cce4"/><circle cx="307.5" cy="923.7" r="2.8" fill="#dbd5e2"/><circle cx="310.7" cy="915.2" r="2.8" fill="#dedbe1"/><circle cx="403.6" cy="859.0" r="2.8" fill="#dedbe1"/><circle cx="247.8" cy="985.6" r="2.8" fill="#cfbfe7"/><circle cx="336.9" cy="880.0" r="2.8" fill="#e7d6d2"/><circle cx="233.8" cy="949.9" r="2.8" fill="#e4dbd9"/><circle cx="369.7" cy="869.6" r="2.8" fill="#e2dddb"/><circle cx="237.7" cy="950.4" r="2.8" fill="#e2dddc"/><circle cx="225.8" cy="947.9" r="2.8" fill="#e7d6d2"/><circle cx="342.8" cy="905.2" r="2.8" fill="#d9d3e3"/><circle cx="241.0" cy="958.7" r="2.8" fill="#dddae1"/><circle cx="276.4" cy="989.0" r="2.8" fill="#c4aceb"/><circle cx="287.2" cy="949.3" r="2.8" fill="#d5cae5"/><circle cx="378.7" cy="863.5" r="2.8" fill="#e3dcdb"/><circle cx="320.9" cy="911.0" r="2.8" fill="#dddae1"/><circle cx="238.9" cy="995.9" r="2.8" fill="#ccbae8"/><circle cx="375.8" cy="882.9" r="2.8" fill="#dad5e2"/><circle cx="372.6" cy="864.8" r="2.8" fill="#e4dbd8"/><circle cx="282.7" cy="911.0" r="2.8" fill="#e8d5d0"/><circle cx="264.4" cy="932.3" r="2.8" fill="#e3dcda"/><circle cx="358.1" cy="885.5" r="2.8" fill="#dedce1"/><circle cx="328.4" cy="894.3" r="2.8" fill="#e3dcdb"/><circle cx="403.8" cy="853.3" r="2.8" fill="#e0e0e0"/><circle cx="268.1" cy="915.0" r="2.8" fill="#ead1cb"/><circle cx="265.1" cy="979.9" r="2.8" fill="#ccbae8"/><circle cx="336.1" cy="879.6" r="2.8" fill="#e7d6d1"/><circle cx="388.2" cy="866.2" r="2.8" fill="#dfdde1"/><circle cx="313.6" cy="926.4" r="2.8" fill="#d8d0e4"/><circle cx="354.1" cy="894.3" r="2.8" fill="#dbd6e2"/><circle cx="308.1" cy="899.3" r="2.8" fill="#e6d7d4"/><circle cx="327.4" cy="904.3" r="2.8" fill="#dedce1"/><circle cx="251.4" cy="931.3" r="2.8" fill="#e7d6d1"/><circle cx="273.6" cy="926.2" r="2.8" fill="#e3dbd9"/><circle cx="283.0" cy="926.2" r="2.8" fill="#e0dfdf"/><circle cx="336.8" cy="916.6" r="2.8" fill="#d6cce4"/><circle cx="308.3" cy="914.3" r="2.8" fill="#dfdde1"/><circle cx="301.8" cy="940.6" r="2.8" fill="#d5cae5"/><circle cx="282.0" cy="962.7" r="2.8" fill="#d0c1e7"/><circle cx="296.9" cy="927.7" r="2.8" fill="#dcd8e2"/><circle cx="250.5" cy="947.8" r="2.8" fill="#e0dfe0"/><circle cx="326.9" cy="935.5" r="2.8" fill="#d0c1e7"/><circle cx="329.8" cy="899.0" r="2.8" fill="#e0e0e0"/><circle cx="339.0" cy="886.8" r="2.8" fill="#e3dcda"/><circle cx="341.6" cy="883.7" r="2.8" fill="#e4dbd8"/><circle cx="267.2" cy="966.9" r="2.8" fill="#d2c5e6"/><circle cx="219.8" cy="948.7" r="2.8" fill="#e8d4cf"/><circle cx="271.3" cy="927.4" r="2.8" fill="#e3dbd9"/><circle cx="248.8" cy="975.0" r="2.8" fill="#d4c8e5"/><circle cx="314.8" cy="913.4" r="2.8" fill="#dddbe1"/><circle cx="261.4" cy="954.2" r="2.8" fill="#dad3e3"/><circle cx="286.0" cy="937.1" r="2.8" fill="#dbd5e2"/><circle cx="322.0" cy="894.9" r="2.8" fill="#e4dad8"/><circle cx="318.9" cy="884.3" r="2.8" fill="#ead1cb"/><circle cx="314.2" cy="905.4" r="2.8" fill="#e1dedd"/><circle cx="299.5" cy="935.3" r="2.8" fill="#d8d0e4"/><circle cx="410.0" cy="854.2" r="2.8" fill="#dedce1"/><circle cx="252.5" cy="1003.9" r="2.8" fill="#c4aceb"/><circle cx="240.8" cy="962.6" r="2.8" fill="#dcd7e2"/><circle cx="325.4" cy="900.8" r="2.8" fill="#e0e0e0"/><circle cx="220.8" cy="932.9" r="2.8" fill="#eecac0"/><circle cx="301.0" cy="906.5" r="2.8" fill="#e5d9d6"/><circle cx="322.6" cy="908.0" r="2.8" fill="#dedbe1"/><circle cx="228.7" cy="950.6" r="2.8" fill="#e5d9d7"/><circle cx="275.1" cy="952.3" r="2.8" fill="#d7cee4"/><circle cx="418.9" cy="847.1" r="2.8" fill="#dfdde1"/><circle cx="425.1" cy="845.2" r="2.8" fill="#dedce1"/><circle cx="277.3" cy="934.4" r="2.8" fill="#dedce1"/><circle cx="346.5" cy="871.0" r="2.8" fill="#e8d4cf"/><circle cx="312.0" cy="881.7" r="2.8" fill="#edcdc4"/><circle cx="302.9" cy="887.7" r="2.8" fill="#edcdc5"/><circle cx="315.7" cy="913.8" r="2.8" fill="#dddae1"/><circle cx="407.7" cy="854.4" r="2.8" fill="#dfdde1"/><circle cx="423.1" cy="832.7" r="2.8" fill="#e5dad7"/><circle cx="252.9" cy="966.3" r="2.8" fill="#d6cde4"/><circle cx="258.9" cy="946.2" r="2.8" fill="#dedce1"/><circle cx="256.7" cy="941.6" r="2.8" fill="#e1dfdf"/><circle cx="252.7" cy="940.6" r="2.8" fill="#e2dddb"/><circle cx="241.4" cy="961.6" r="2.8" fill="#dcd8e2"/><circle cx="326.7" cy="911.9" r="2.8" fill="#dbd6e2"/><circle cx="317.1" cy="896.7" r="2.8" fill="#e5d9d6"/><circle cx="363.5" cy="877.2" r="2.8" fill="#e0dfdf"/><circle cx="397.4" cy="870.1" r="2.8" fill="#dad5e3"/><circle cx="334.3" cy="889.2" r="2.8" fill="#e3dbd9"/><circle cx="360.0" cy="881.4" r="2.8" fill="#dfdfe0"/><circle cx="247.8" cy="999.2" r="2.8" fill="#c8b3e9"/><circle cx="235.9" cy="964.0" r="2.8" fill="#dcd8e2"/><circle cx="339.7" cy="890.0" r="2.8" fill="#e1dede"/><circle cx="252.3" cy="962.7" r="2.8" fill="#d8d1e3"/><circle cx="388.3" cy="856.4" r="2.8" fill="#e3dbd9"/><circle cx="342.7" cy="886.6" r="2.8" fill="#e2dddc"/><circle cx="254.9" cy="955.7" r="2.8" fill="#dbd6e2"/><circle cx="316.1" cy="915.4" r="2.8" fill="#dcd8e2"/><circle cx="385.4" cy="850.0" r="2.8" fill="#e7d6d1"/><circle cx="379.1" cy="891.0" r="2.8" fill="#d6cce4"/><circle cx="332.8" cy="891.6" r="2.8" fill="#e3dddb"/><circle cx="249.4" cy="952.2" r="2.8" fill="#dedce1"/><circle cx="363.6" cy="877.4" r="2.8" fill="#e0e0df"/><circle cx="359.0" cy="893.0" r="2.8" fill="#dbd5e2"/><circle cx="336.3" cy="895.2" r="2.8" fill="#e0dfe0"/><circle cx="270.4" cy="929.0" r="2.8" fill="#e3dcda"/><circle cx="346.1" cy="907.9" r="2.8" fill="#d7cfe4"/><circle cx="437.0" cy="840.9" r="2.8" fill="#ddd9e2"/><circle cx="246.6" cy="1018.7" r="2.8" fill="#bea2ec"/><circle cx="266.2" cy="975.5" r="2.8" fill="#cebee7"/><circle cx="207.2" cy="937.9" r="2.8" fill="#f0c7bd"/><circle cx="358.4" cy="886.7" r="2.8" fill="#dedbe1"/><circle cx="259.7" cy="937.4" r="2.8" fill="#e2dddc"/><circle cx="317.2" cy="913.7" r="2.8" fill="#ddd9e2"/><circle cx="369.6" cy="870.9" r="2.8" fill="#e2dedd"/><circle cx="341.5" cy="910.0" r="2.8" fill="#d8cfe4"/><circle cx="320.9" cy="901.8" r="2.8" fill="#e1dfde"/><circle cx="412.7" cy="842.9" r="2.8" fill="#e3dcdb"/><circle cx="257.2" cy="966.6" r="2.8" fill="#d5cbe5"/><circle cx="355.3" cy="871.7" r="2.8" fill="#e6d8d5"/><circle cx="252.6" cy="946.0" r="2.8" fill="#e0e0e0"/><circle cx="240.0" cy="951.3" r="2.8" fill="#e1dfde"/><circle cx="303.1" cy="915.8" r="2.8" fill="#e0dfe0"/><circle cx="252.4" cy="948.7" r="2.8" fill="#dfdde1"/><circle cx="285.6" cy="943.9" r="2.8" fill="#d8cfe4"/><circle cx="251.1" cy="937.2" r="2.8" fill="#e5dad7"/><circle cx="254.1" cy="968.9" r="2.8" fill="#d5cae5"/><circle cx="276.3" cy="939.9" r="2.8" fill="#dcd8e2"/><circle cx="249.3" cy="976.4" r="2.8" fill="#d3c6e6"/><circle cx="309.3" cy="926.6" r="2.8" fill="#d9d2e3"/><circle cx="315.5" cy="913.3" r="2.8" fill="#dddbe1"/><circle cx="325.9" cy="877.3" r="2.8" fill="#ebd0c8"/><circle cx="206.6" cy="951.6" r="2.8" fill="#ead1ca"/><circle cx="307.3" cy="918.9" r="2.8" fill="#dddae1"/><circle cx="303.0" cy="912.1" r="2.8" fill="#e1dedd"/><circle cx="267.9" cy="957.1" r="2.8" fill="#d7cde4"/><circle cx="240.8" cy="968.8" r="2.8" fill="#d9d2e3"/><circle cx="267.3" cy="947.1" r="2.8" fill="#dbd6e2"/><circle cx="301.0" cy="903.5" r="2.8" fill="#e6d7d3"/><circle cx="339.3" cy="902.6" r="2.8" fill="#dcd7e2"/><circle cx="237.9" cy="957.8" r="2.8" fill="#dedde1"/><circle cx="292.7" cy="965.2" r="2.8" fill="#cbb9e8"/><circle cx="377.5" cy="864.4" r="2.8" fill="#e3dcdb"/><circle cx="266.4" cy="933.6" r="2.8" fill="#e2dedd"/><circle cx="243.1" cy="947.4" r="2.8" fill="#e2dddc"/><circle cx="191.4" cy="954.0" r="2.8" fill="#edccc3"/><circle cx="283.7" cy="954.7" r="2.8" fill="#d3c7e5"/><circle cx="238.4" cy="942.5" r="2.8" fill="#e6d8d4"/><circle cx="273.2" cy="922.4" r="2.8" fill="#e5d9d5"/><circle cx="215.2" cy="953.6" r="2.8" fill="#e7d6d1"/><circle cx="256.0" cy="974.0" r="2.8" fill="#d2c5e6"/><circle cx="267.8" cy="936.7" r="2.8" fill="#e0e0e0"/><circle cx="217.5" cy="946.9" r="2.8" fill="#ead2cc"/><circle cx="279.8" cy="939.0" r="2.8" fill="#dcd7e2"/><circle cx="278.5" cy="908.2" r="2.8" fill="#ead1ca"/><circle cx="333.5" cy="882.1" r="2.8" fill="#e7d6d2"/><circle cx="291.1" cy="922.5" r="2.8" fill="#e0e0e0"/><circle cx="369.8" cy="876.8" r="2.8" fill="#dfdee1"/><circle cx="332.2" cy="926.0" r="2.8" fill="#d3c6e6"/><circle cx="351.7" cy="880.7" r="2.8" fill="#e2dddb"/><circle cx="314.8" cy="901.7" r="2.8" fill="#e3dcda"/><circle cx="311.0" cy="923.4" r="2.8" fill="#dad4e3"/><circle cx="392.3" cy="876.1" r="2.8" fill="#d9d2e3"/><circle cx="341.9" cy="888.4" r="2.8" fill="#e1dedd"/><circle cx="296.7" cy="909.0" r="2.8" fill="#e5d9d6"/><circle cx="247.5" cy="1003.1" r="2.8" fill="#c6afea"/><circle cx="257.4" cy="970.5" r="2.8" fill="#d3c7e5"/><circle cx="284.1" cy="936.7" r="2.8" fill="#dbd7e2"/><circle cx="214.1" cy="950.7" r="2.8" fill="#e9d3ce"/><circle cx="249.5" cy="962.1" r="2.8" fill="#d9d3e3"/><circle cx="352.3" cy="878.9" r="2.8" fill="#e3dcda"/><circle cx="246.1" cy="939.8" r="2.8" fill="#e5d9d6"/><circle cx="385.1" cy="871.0" r="2.8" fill="#dddae1"/><circle cx="302.5" cy="905.8" r="2.8" fill="#e5dad7"/><circle cx="340.6" cy="893.7" r="2.8" fill="#dfdee0"/><circle cx="252.9" cy="1005.7" r="2.8" fill="#c3aaeb"/><circle cx="401.3" cy="847.4" r="2.8" fill="#e4dbd8"/><circle cx="254.1" cy="968.7" r="2.8" fill="#d5cae5"/><circle cx="360.9" cy="905.7" r="2.8" fill="#d4c9e5"/><circle cx="271.2" cy="944.6" r="2.8" fill="#dbd7e2"/><circle cx="272.1" cy="938.5" r="2.8" fill="#dedce1"/><circle cx="345.7" cy="886.7" r="2.8" fill="#e1dfde"/><circle cx="260.4" cy="946.2" r="2.8" fill="#dedbe1"/><circle cx="337.5" cy="905.0" r="2.8" fill="#dbd6e2"/><circle cx="303.8" cy="915.0" r="2.8" fill="#e0dfe0"/><circle cx="217.4" cy="945.7" r="2.8" fill="#ead1cb"/><circle cx="332.9" cy="876.6" r="2.8" fill="#ead2cc"/><circle cx="249.2" cy="966.5" r="2.8" fill="#d7cfe4"/><circle cx="399.2" cy="854.4" r="2.8" fill="#e1dfde"/><circle cx="421.3" cy="846.1" r="2.8" fill="#dfdde1"/><circle cx="222.6" cy="943.2" r="2.8" fill="#ead2cb"/><circle cx="343.4" cy="904.1" r="2.8" fill="#dad4e3"/><circle cx="296.7" cy="906.4" r="2.8" fill="#e6d7d4"/><circle cx="242.8" cy="1013.9" r="2.8" fill="#c1a8eb"/><circle cx="258.9" cy="980.9" r="2.8" fill="#cebde7"/><circle cx="275.9" cy="956.7" r="2.8" fill="#d4c9e5"/><circle cx="211.1" cy="933.8" r="2.8" fill="#f0c6bb"/><circle cx="314.6" cy="908.8" r="2.8" fill="#e0dfe0"/><circle cx="431.2" cy="839.8" r="2.8" fill="#dfdde1"/><circle cx="306.6" cy="904.9" r="2.8" fill="#e4dbd8"/><circle cx="330.7" cy="894.7" r="2.8" fill="#e2dedd"/><circle cx="249.2" cy="953.8" r="2.8" fill="#dddae1"/><circle cx="298.6" cy="938.0" r="2.8" fill="#d7cee4"/><circle cx="416.4" cy="857.8" r="2.8" fill="#dbd5e2"/><circle cx="408.1" cy="848.7" r="2.8" fill="#e1dede"/><circle cx="329.2" cy="882.0" r="2.8" fill="#e8d4cf"/><circle cx="342.9" cy="869.4" r="2.8" fill="#ead1cb"/><circle cx="250.4" cy="946.3" r="2.8" fill="#e0e0e0"/><circle cx="239.3" cy="965.3" r="2.8" fill="#dbd5e2"/><circle cx="278.1" cy="946.5" r="2.8" fill="#d9d1e3"/><circle cx="281.5" cy="919.0" r="2.8" fill="#e5dad7"/><circle cx="337.9" cy="885.9" r="2.8" fill="#e4dbd8"/><circle cx="309.7" cy="927.9" r="2.8" fill="#d8d1e3"/><circle cx="191.9" cy="942.2" r="2.8" fill="#f1c4b8"/><circle cx="424.0" cy="846.5" r="2.8" fill="#dedbe1"/><circle cx="292.4" cy="933.4" r="2.8" fill="#dbd5e2"/><circle cx="327.2" cy="920.1" r="2.8" fill="#d7cee4"/><circle cx="276.8" cy="949.0" r="2.8" fill="#d8d0e4"/><circle cx="335.8" cy="909.9" r="2.8" fill="#d9d2e3"/><circle cx="175.3" cy="954.8" r="2.8" fill="#f0c6ba"/><circle cx="334.9" cy="896.9" r="2.8" fill="#dfdfe0"/><circle cx="246.5" cy="988.9" r="2.8" fill="#cdbce8"/><circle cx="338.6" cy="915.3" r="2.8" fill="#d6cce4"/><circle cx="238.2" cy="941.5" r="2.8" fill="#e6d7d3"/><circle cx="294.3" cy="913.7" r="2.8" fill="#e3dcda"/><circle cx="330.2" cy="903.6" r="2.8" fill="#dedbe1"/><circle cx="297.2" cy="923.1" r="2.8" fill="#dedce1"/><circle cx="263.6" cy="981.5" r="2.8" fill="#ccbae8"/><circle cx="297.7" cy="921.9" r="2.8" fill="#dedde1"/><circle cx="260.2" cy="922.0" r="2.8" fill="#e9d3cd"/><circle cx="226.8" cy="926.9" r="2.8" fill="#efc8be"/><circle cx="330.4" cy="905.9" r="2.8" fill="#ddd9e2"/><circle cx="262.1" cy="936.3" r="2.8" fill="#e2dedd"/><circle cx="251.7" cy="956.6" r="2.8" fill="#dbd6e2"/><circle cx="250.1" cy="960.1" r="2.8" fill="#dad4e3"/><circle cx="302.0" cy="915.6" r="2.8" fill="#e0e0e0"/><circle cx="370.2" cy="868.5" r="2.8" fill="#e3dcdb"/><circle cx="357.0" cy="858.1" r="2.8" fill="#ebcfc8"/><circle cx="242.6" cy="931.6" r="2.8" fill="#ead2cc"/><circle cx="365.0" cy="899.4" r="2.8" fill="#d6cce4"/><circle cx="283.5" cy="897.4" r="2.8" fill="#edccc3"/><circle cx="250.6" cy="957.9" r="2.8" fill="#dbd6e2"/><circle cx="295.7" cy="914.5" r="2.8" fill="#e2dddb"/><circle cx="315.2" cy="888.0" r="2.8" fill="#e9d3cd"/><circle cx="354.9" cy="874.9" r="2.8" fill="#e4dad8"/><circle cx="277.9" cy="929.6" r="2.8" fill="#e0e0e0"/><circle cx="174.6" cy="955.4" r="2.8" fill="#f0c6bb"/><circle cx="362.6" cy="881.1" r="2.8" fill="#dfdee1"/><circle cx="205.9" cy="941.5" r="2.8" fill="#efc9c0"/><circle cx="404.6" cy="856.2" r="2.8" fill="#dfdde1"/><circle cx="351.5" cy="883.3" r="2.8" fill="#e1dfde"/><circle cx="250.3" cy="950.0" r="2.8" fill="#dfdde1"/><circle cx="359.5" cy="893.6" r="2.8" fill="#dad4e3"/><circle cx="386.5" cy="858.0" r="2.8" fill="#e3dcda"/><circle cx="268.4" cy="943.9" r="2.8" fill="#dcd9e2"/><circle cx="432.0" cy="834.4" r="2.8" fill="#e1dfde"/><circle cx="260.4" cy="992.7" r="2.8" fill="#c7b2ea"/><circle cx="296.0" cy="912.0" r="2.8" fill="#e4dbd9"/><circle cx="249.7" cy="949.3" r="2.8" fill="#dfdee0"/><circle cx="214.4" cy="946.0" r="2.8" fill="#ebd0c9"/><circle cx="228.9" cy="955.1" r="2.8" fill="#e2dddb"/><circle cx="277.7" cy="948.3" r="2.8" fill="#d8d0e4"/><circle cx="284.0" cy="926.9" r="2.8" fill="#e0e0e0"/><circle cx="291.4" cy="898.5" r="2.8" fill="#ebd0c9"/><circle cx="280.3" cy="936.7" r="2.8" fill="#dcd9e2"/><circle cx="297.1" cy="913.8" r="2.8" fill="#e2dddb"/><circle cx="251.8" cy="981.7" r="2.8" fill="#cfc0e7"/><circle cx="424.7" cy="845.6" r="2.8" fill="#dedce1"/><circle cx="277.3" cy="918.3" r="2.8" fill="#e6d8d4"/><circle cx="271.8" cy="946.8" r="2.8" fill="#dad4e3"/><circle cx="237.0" cy="958.3" r="2.8" fill="#dedde1"/><circle cx="403.0" cy="850.2" r="2.8" fill="#e2dddc"/><circle cx="321.1" cy="914.0" r="2.8" fill="#dbd7e2"/><circle cx="318.2" cy="899.4" r="2.8" fill="#e3dcda"/><circle cx="290.7" cy="935.4" r="2.8" fill="#dad4e3"/><circle cx="295.7" cy="927.9" r="2.8" fill="#dcd8e2"/><circle cx="332.0" cy="875.5" r="2.8" fill="#ead1ca"/><circle cx="267.3" cy="954.3" r="2.8" fill="#d8d0e4"/><circle cx="258.6" cy="957.8" r="2.8" fill="#d9d2e3"/><circle cx="290.9" cy="953.4" r="2.8" fill="#d2c4e6"/><circle cx="396.3" cy="852.1" r="2.8" fill="#e3dcda"/><circle cx="319.4" cy="903.3" r="2.8" fill="#e1dfde"/><circle cx="303.3" cy="954.7" r="2.8" fill="#cdbce8"/><circle cx="248.6" cy="940.8" r="2.8" fill="#e4dbd9"/><circle cx="247.4" cy="980.7" r="2.8" fill="#d1c3e6"/><circle cx="379.6" cy="849.0" r="2.8" fill="#e9d3cd"/><circle cx="209.1" cy="944.1" r="2.8" fill="#edcdc4"/><circle cx="261.8" cy="931.0" r="2.8" fill="#e5dad7"/><circle cx="231.3" cy="945.1" r="2.8" fill="#e7d7d3"/><circle cx="260.7" cy="938.1" r="2.8" fill="#e1dede"/><circle cx="377.8" cy="882.1" r="2.8" fill="#dad4e3"/><circle cx="237.5" cy="945.8" r="2.8" fill="#e4dad7"/><circle cx="304.6" cy="933.2" r="2.8" fill="#d7cfe4"/><circle cx="289.1" cy="936.4" r="2.8" fill="#dad4e3"/><circle cx="252.2" cy="929.6" r="2.8" fill="#e8d5d0"/><circle cx="314.8" cy="913.8" r="2.8" fill="#dddae1"/><circle cx="283.7" cy="930.1" r="2.8" fill="#dedde1"/><circle cx="407.6" cy="860.2" r="2.8" fill="#dcd8e2"/><circle cx="368.8" cy="870.6" r="2.8" fill="#e2dddc"/><circle cx="437.7" cy="843.5" r="2.8" fill="#dbd6e2"/><circle cx="302.6" cy="936.3" r="2.8" fill="#d6cde4"/><circle cx="274.9" cy="929.0" r="2.8" fill="#e2dedd"/><circle cx="184.4" cy="954.7" r="2.8" fill="#eec9c0"/><circle cx="377.5" cy="861.4" r="2.8" fill="#e4dad8"/><circle cx="309.3" cy="902.5" r="2.8" fill="#e4dad7"/><circle cx="318.0" cy="931.7" r="2.8" fill="#d4c9e5"/><circle cx="354.0" cy="875.2" r="2.8" fill="#e4dad7"/><circle cx="262.6" cy="955.0" r="2.8" fill="#d9d2e3"/><circle cx="244.4" cy="996.1" r="2.8" fill="#cab7e9"/><circle cx="255.4" cy="920.0" r="2.8" fill="#ebcfc8"/><circle cx="272.2" cy="919.5" r="2.8" fill="#e7d6d2"/><circle cx="329.9" cy="900.7" r="2.8" fill="#dfdee0"/><circle cx="341.7" cy="889.5" r="2.8" fill="#e1dfde"/><circle cx="402.5" cy="857.1" r="2.8" fill="#dfdde1"/><circle cx="279.9" cy="929.2" r="2.8" fill="#e0e0e0"/><circle cx="296.9" cy="943.8" r="2.8" fill="#d4c9e5"/><circle cx="394.8" cy="853.8" r="2.8" fill="#e3dcdb"/><circle cx="373.2" cy="872.6" r="2.8" fill="#e0e0e0"/></g>
<g><circle cx="106.7" cy="946.1" r="2.8" fill="#fda18a"/><circle cx="136.4" cy="953.0" r="2.8" fill="#f8b3a2"/><circle cx="153.1" cy="953.0" r="2.8" fill="#f5bbab"/><circle cx="152.5" cy="917.2" r="2.8" fill="#fda089"/><circle cx="160.7" cy="941.8" r="2.8" fill="#f7b6a5"/><circle cx="176.2" cy="942.0" r="2.8" fill="#f4bdae"/><circle cx="168.5" cy="954.0" r="2.8" fill="#f2c2b6"/><circle cx="170.5" cy="954.6" r="2.8" fill="#f1c3b7"/><circle cx="193.0" cy="931.5" r="2.8" fill="#f4bdae"/><circle cx="212.0" cy="918.4" r="2.8" fill="#f5bcad"/><circle cx="234.9" cy="915.8" r="2.8" fill="#f1c4b8"/><circle cx="275.6" cy="890.7" r="2.8" fill="#f1c3b7"/><circle cx="315.6" cy="863.1" r="2.8" fill="#f3c1b4"/><circle cx="337.1" cy="865.1" r="2.8" fill="#edccc3"/><circle cx="407.9" cy="809.4" r="2.8" fill="#f2c3b7"/><circle cx="591.8" cy="818.0" r="2.8" fill="#b89aee"/><circle cx="482.5" cy="868.1" r="2.8" fill="#c1a8eb"/><circle cx="408.2" cy="914.6" r="2.8" fill="#c1a7ec"/><circle cx="451.6" cy="930.4" r="2.8" fill="#a782f2"/><circle cx="540.7" cy="992.7" r="2.8" fill="#0601ff"/><circle cx="328.2" cy="1003.9" r="2.8" fill="#a883f2"/><circle cx="324.7" cy="1023.1" r="2.8" fill="#9c74f4"/><circle cx="364.4" cy="993.2" r="2.8" fill="#a179f3"/><circle cx="376.8" cy="989.2" r="2.8" fill="#9e76f3"/><circle cx="371.4" cy="1001.4" r="2.8" fill="#976ef5"/><circle cx="395.2" cy="992.7" r="2.8" fill="#9369f5"/><circle cx="237.2" cy="1042.2" r="2.8" fill="#b392ef"/><circle cx="270.5" cy="1059.5" r="2.8" fill="#9a71f4"/><circle cx="300.1" cy="1027.4" r="2.8" fill="#a47ef2"/><circle cx="300.1" cy="1013.1" r="2.8" fill="#ad8af0"/><circle cx="304.2" cy="995.8" r="2.8" fill="#b697ee"/><circle cx="328.3" cy="1003.9" r="2.8" fill="#a883f2"/><circle cx="325.1" cy="1022.9" r="2.8" fill="#9c74f4"/><circle cx="594.4" cy="733.3" r="2.8" fill="#e2dddc"/><circle cx="597.1" cy="735.3" r="2.8" fill="#e0e0df"/><circle cx="595.5" cy="737.4" r="2.8" fill="#e0e0e0"/><circle cx="593.0" cy="738.8" r="2.8" fill="#e0e0e0"/><circle cx="590.4" cy="740.4" r="2.8" fill="#e0e0e0"/><circle cx="591.4" cy="742.5" r="2.8" fill="#dfdde1"/><circle cx="583.2" cy="742.5" r="2.8" fill="#e1dfde"/><circle cx="585.3" cy="745.5" r="2.8" fill="#dfdee0"/><circle cx="586.3" cy="746.6" r="2.8" fill="#dedce1"/><circle cx="579.1" cy="750.2" r="2.8" fill="#dfdde1"/><circle cx="573.6" cy="748.0" r="2.8" fill="#e1dede"/><circle cx="562.2" cy="751.7" r="2.8" fill="#e3dcdb"/><circle cx="574.0" cy="759.2" r="2.8" fill="#dcd8e2"/><circle cx="583.6" cy="761.9" r="2.8" fill="#d8d0e4"/><circle cx="555.6" cy="761.9" r="2.8" fill="#e0dfe0"/><circle cx="555.2" cy="764.6" r="2.8" fill="#dfdde1"/><circle cx="546.0" cy="765.4" r="2.8" fill="#e1dfde"/><circle cx="539.9" cy="763.3" r="2.8" fill="#e4dbd9"/><circle cx="542.3" cy="769.0" r="2.8" fill="#e0e0e0"/><circle cx="539.3" cy="775.2" r="2.8" fill="#dedce1"/><circle cx="534.8" cy="775.6" r="2.8" fill="#dfdee0"/><circle cx="530.1" cy="777.2" r="2.8" fill="#e0dfe0"/><circle cx="525.0" cy="780.3" r="2.8" fill="#e0dfe0"/><circle cx="552.6" cy="774.8" r="2.8" fill="#dbd5e2"/><circle cx="545.0" cy="776.2" r="2.8" fill="#dcd8e2"/><circle cx="521.9" cy="785.0" r="2.8" fill="#dfdde1"/><circle cx="515.8" cy="783.4" r="2.8" fill="#e1dfde"/><circle cx="515.8" cy="787.4" r="2.8" fill="#dfdee0"/><circle cx="517.4" cy="791.5" r="2.8" fill="#dddae1"/><circle cx="510.7" cy="795.2" r="2.8" fill="#dddae1"/><circle cx="507.2" cy="788.5" r="2.8" fill="#e1dfde"/><circle cx="494.3" cy="790.6" r="2.8" fill="#e4dbd8"/><circle cx="497.4" cy="794.0" r="2.8" fill="#e1dedd"/><circle cx="491.2" cy="795.7" r="2.8" fill="#e2dddb"/><circle cx="484.1" cy="795.3" r="2.8" fill="#e5dad7"/><circle cx="487.2" cy="801.8" r="2.8" fill="#e1dfdf"/><circle cx="490.2" cy="800.7" r="2.8" fill="#e0e0e0"/><circle cx="481.0" cy="807.9" r="2.8" fill="#dfdfe0"/><circle cx="481.3" cy="817.2" r="2.8" fill="#dbd6e2"/><circle cx="494.6" cy="789.9" r="2.8" fill="#e4dad8"/><circle cx="497.1" cy="794.3" r="2.8" fill="#e1dede"/><circle cx="493.4" cy="797.2" r="2.8" fill="#e1dfde"/><circle cx="489.1" cy="795.0" r="2.8" fill="#e3dbd9"/><circle cx="483.5" cy="795.3" r="2.8" fill="#e5d9d6"/><circle cx="487.6" cy="802.3" r="2.8" fill="#e0e0e0"/><circle cx="490.5" cy="801.6" r="2.8" fill="#e0dfe0"/><circle cx="473.0" cy="799.1" r="2.8" fill="#e6d7d4"/><circle cx="480.3" cy="807.4" r="2.8" fill="#e0e0e0"/><circle cx="473.0" cy="806.4" r="2.8" fill="#e3dddb"/><circle cx="469.8" cy="807.4" r="2.8" fill="#e3dcda"/><circle cx="467.2" cy="807.4" r="2.8" fill="#e4dbd8"/><circle cx="464.2" cy="808.9" r="2.8" fill="#e4dbd8"/><circle cx="459.9" cy="809.6" r="2.8" fill="#e5d9d6"/><circle cx="470.1" cy="815.5" r="2.8" fill="#dfdee0"/><circle cx="467.2" cy="816.9" r="2.8" fill="#dfdee0"/><circle cx="464.2" cy="818.4" r="2.8" fill="#dfdee0"/><circle cx="459.9" cy="819.9" r="2.8" fill="#e0dfe0"/><circle cx="459.9" cy="827.9" r="2.8" fill="#dcd8e2"/><circle cx="466.4" cy="833.0" r="2.8" fill="#d8d0e3"/><circle cx="455.5" cy="814.7" r="2.8" fill="#e4dbd9"/><circle cx="451.1" cy="816.2" r="2.8" fill="#e4dad7"/><circle cx="448.2" cy="817.7" r="2.8" fill="#e4dad7"/><circle cx="442.0" cy="814.3" r="2.8" fill="#e8d5d0"/><circle cx="451.1" cy="822.8" r="2.8" fill="#e1dfde"/><circle cx="446.7" cy="824.2" r="2.8" fill="#e2dedd"/><circle cx="443.8" cy="826.4" r="2.8" fill="#e1dedd"/><circle cx="443.8" cy="834.5" r="2.8" fill="#dedbe1"/><circle cx="414.3" cy="823.5" r="2.8" fill="#ebd0c8"/><circle cx="424.8" cy="822.8" r="2.8" fill="#e9d4ce"/><circle cx="429.2" cy="824.2" r="2.8" fill="#e7d6d2"/><circle cx="425.5" cy="827.9" r="2.8" fill="#e6d7d4"/><circle cx="410.9" cy="831.5" r="2.8" fill="#e9d4ce"/><circle cx="420.4" cy="830.1" r="2.8" fill="#e7d7d3"/><circle cx="436.5" cy="827.2" r="2.8" fill="#e3dcda"/><circle cx="433.6" cy="830.1" r="2.8" fill="#e3dcdb"/><circle cx="438.0" cy="833.0" r="2.8" fill="#e0e0e0"/><circle cx="443.8" cy="846.1" r="2.8" fill="#d8d1e3"/><circle cx="441.6" cy="854.2" r="2.8" fill="#d5cbe5"/><circle cx="435.8" cy="852.0" r="2.8" fill="#d8d0e4"/><circle cx="465.8" cy="833.1" r="2.8" fill="#d8d0e3"/><circle cx="443.4" cy="846.6" r="2.8" fill="#d8d1e3"/><circle cx="441.0" cy="855.0" r="2.8" fill="#d5cae5"/><circle cx="432.6" cy="864.1" r="2.8" fill="#d3c7e5"/><circle cx="436.1" cy="874.6" r="2.8" fill="#cdbce8"/><circle cx="382.2" cy="914.1" r="2.8" fill="#c9b6e9"/><circle cx="377.0" cy="922.5" r="2.8" fill="#c7b1ea"/><circle cx="373.6" cy="929.9" r="2.8" fill="#c4aceb"/><circle cx="372.8" cy="935.9" r="2.8" fill="#c1a7eb"/><circle cx="365.2" cy="938.3" r="2.8" fill="#c2a9eb"/><circle cx="357.8" cy="933.8" r="2.8" fill="#c7b1ea"/><circle cx="358.3" cy="942.5" r="2.8" fill="#c2a9eb"/><circle cx="367.8" cy="951.4" r="2.8" fill="#ba9ced"/><circle cx="348.6" cy="949.6" r="2.8" fill="#c1a8eb"/><circle cx="351.2" cy="927.2" r="2.8" fill="#ccbbe8"/><circle cx="342.8" cy="937.7" r="2.8" fill="#cab6e9"/><circle cx="339.4" cy="943.8" r="2.8" fill="#c8b2e9"/><circle cx="332.8" cy="946.9" r="2.8" fill="#c8b3e9"/><circle cx="325.5" cy="956.1" r="2.8" fill="#c6afea"/><circle cx="389.3" cy="897.8" r="2.8" fill="#d0c0e7"/><circle cx="392.0" cy="890.5" r="2.8" fill="#d2c5e6"/><circle cx="271.1" cy="1011.1" r="2.8" fill="#b99cee"/><circle cx="265.0" cy="1016.8" r="2.8" fill="#b89aee"/><circle cx="243.5" cy="1014.0" r="2.8" fill="#c1a8eb"/><circle cx="245.0" cy="1020.0" r="2.8" fill="#bda2ec"/><circle cx="251.0" cy="1013.0" r="2.8" fill="#bfa5ec"/><circle cx="252.0" cy="1019.0" r="2.8" fill="#bb9fed"/><circle cx="247.5" cy="1016.5" r="2.8" fill="#bea3ec"/><circle cx="246.0" cy="1030.0" r="2.8" fill="#b798ee"/><circle cx="255.5" cy="1005.0" r="2.8" fill="#c2a9eb"/><circle cx="276.6" cy="1021.7" r="2.8" fill="#b18ff0"/><circle cx="273.2" cy="991.7" r="2.8" fill="#c3aceb"/><circle cx="290.5" cy="988.6" r="2.8" fill="#bfa5ec"/><circle cx="297.7" cy="973.9" r="2.8" fill="#c5aeea"/><circle cx="240.9" cy="1032.6" r="2.8" fill="#b799ee"/><circle cx="306.3" cy="962.5" r="2.8" fill="#c8b4e9"/><circle cx="296.1" cy="963.1" r="2.8" fill="#cbb9e8"/></g>
<g fill="#1a1a1a"><text x="582.7" y="757.2" font-size="10.3" textLength="25.5" lengthAdjust="spacingAndGlyphs">BRAF</text><text x="568.1" y="831.3" font-size="10.3" textLength="25.7" lengthAdjust="spacingAndGlyphs">KRAS</text><text x="454.6" y="881.8" font-size="10.3" textLength="34.8" lengthAdjust="spacingAndGlyphs">PIK3CA</text><text x="425.8" y="876.9" font-size="10.3" textLength="19.2" lengthAdjust="spacingAndGlyphs">SYK</text><text x="392.8" y="857.9" font-size="10.3" textLength="30.2" lengthAdjust="spacingAndGlyphs">ERBB2</text><text x="352.8" y="841.6" font-size="10.3" textLength="37.6" lengthAdjust="spacingAndGlyphs">MECOM</text><text x="338.0" y="859.8" font-size="10.3" textLength="24.4" lengthAdjust="spacingAndGlyphs">PAX3</text><text x="356.0" y="900.9" font-size="10.3" textLength="30.7" lengthAdjust="spacingAndGlyphs">HNF1A</text><text x="247.1" y="884.9" font-size="10.3" textLength="32.7" lengthAdjust="spacingAndGlyphs">BCL11B</text><text x="289.0" y="901.9" font-size="10.3" textLength="23.5" lengthAdjust="spacingAndGlyphs">EXT2</text><text x="256.3" y="917.0" font-size="10.3" textLength="29.2" lengthAdjust="spacingAndGlyphs">CREB1</text><text x="239.5" y="927.8" font-size="10.3" textLength="32.1" lengthAdjust="spacingAndGlyphs">RBM10</text><text x="332.3" y="917.2" font-size="10.3" textLength="23.1" lengthAdjust="spacingAndGlyphs">KNL1</text><text x="303.3" y="932.4" font-size="10.3" textLength="35.2" lengthAdjust="spacingAndGlyphs">DGCR8</text><text x="409.3" y="908.7" font-size="10.3" textLength="22.0" lengthAdjust="spacingAndGlyphs">RAF1</text><text x="421.7" y="941.6" font-size="10.3" textLength="33.8" lengthAdjust="spacingAndGlyphs">OR4M2</text><text x="152.2" y="913.1" font-size="10.3" textLength="26.0" lengthAdjust="spacingAndGlyphs">MYRF</text><text x="115.4" y="923.3" font-size="10.3" textLength="26.0" lengthAdjust="spacingAndGlyphs">HHEX</text><text x="138.3" y="937.7" font-size="10.3" textLength="37.8" lengthAdjust="spacingAndGlyphs">RBFOX2</text><text x="88.8" y="941.1" font-size="10.3" textLength="37.9" lengthAdjust="spacingAndGlyphs">SUCLA2</text><text x="112.4" y="964.2" font-size="10.3" textLength="20.4" lengthAdjust="spacingAndGlyphs">ITPA</text><text x="143.0" y="966.7" font-size="10.3" textLength="21.5" lengthAdjust="spacingAndGlyphs">FLT3</text><text x="164.5" y="953.4" font-size="10.3" textLength="45.3" lengthAdjust="spacingAndGlyphs">ARHGAP5</text><text x="184.3" y="966.7" font-size="10.3" textLength="22.9" lengthAdjust="spacingAndGlyphs">ETV5</text><text x="187.4" y="927.8" font-size="10.3" textLength="32.7" lengthAdjust="spacingAndGlyphs">WASF2</text><text x="202.3" y="914.1" font-size="10.3" textLength="25.9" lengthAdjust="spacingAndGlyphs">ARNT</text><text x="239.5" y="941.9" font-size="10.3" textLength="28.7" lengthAdjust="spacingAndGlyphs">KEAP1</text><text x="221.1" y="956.8" font-size="10.3" textLength="40.4" lengthAdjust="spacingAndGlyphs">PDE4DIP</text><text x="222.0" y="987.0" font-size="10.3" textLength="37.8" lengthAdjust="spacingAndGlyphs">RANBP2</text><text x="270.0" y="983.9" font-size="10.3" textLength="26.1" lengthAdjust="spacingAndGlyphs">HRAS</text><text x="270.6" y="1005.0" font-size="10.3" textLength="29.6" lengthAdjust="spacingAndGlyphs">PALB2</text><text x="221.6" y="1010.5" font-size="10.3" textLength="34.1" lengthAdjust="spacingAndGlyphs">YMHAE</text><text x="264.5" y="1024.4" font-size="10.3" textLength="26.9" lengthAdjust="spacingAndGlyphs">YPEL1</text><text x="215.4" y="1033.4" font-size="10.3" textLength="33.1" lengthAdjust="spacingAndGlyphs">ARID1B</text><text x="271.4" y="1040.1" font-size="10.3" textLength="33.3" lengthAdjust="spacingAndGlyphs">CENPC</text><text x="262.2" y="1056.5" font-size="10.3" textLength="42.5" lengthAdjust="spacingAndGlyphs">LRRC37A</text><text x="338.2" y="984.9" font-size="10.3" textLength="49.3" lengthAdjust="spacingAndGlyphs">GOLGA8M</text><text x="325.3" y="999.0" font-size="10.3" textLength="32.1" lengthAdjust="spacingAndGlyphs">POTEH</text><text x="322.3" y="1016.5" font-size="10.3" textLength="35.6" lengthAdjust="spacingAndGlyphs">CROCC</text><text x="322.3" y="1034.7" font-size="10.3" textLength="34.9" lengthAdjust="spacingAndGlyphs">OR4Q3</text><text x="368.6" y="1013.4" font-size="10.3" textLength="30.2" lengthAdjust="spacingAndGlyphs">CNIH2</text><text x="402.4" y="999.7" font-size="10.3" textLength="34.2" lengthAdjust="spacingAndGlyphs">OR4N4</text><text x="511.2" y="1005.8" font-size="10.3" textLength="26.1" lengthAdjust="spacingAndGlyphs">NRAS</text></g>
<line x1="144.60" y1="919.30" x2="160.70" y2="940.70" stroke="#222" stroke-width="0.9"/>
</svg></div>
</body></html>
